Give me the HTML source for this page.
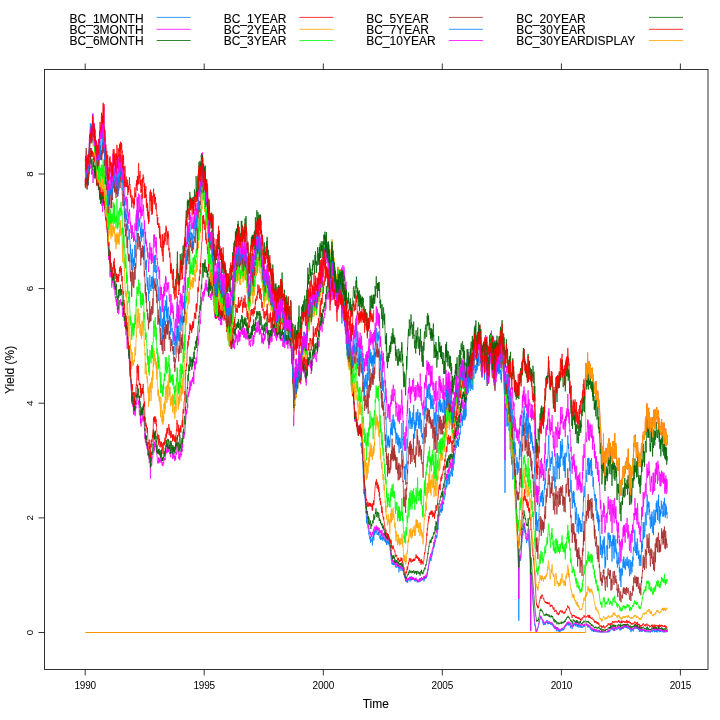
<!DOCTYPE html>
<html><head><meta charset="utf-8"><style>
html,body{margin:0;padding:0;background:#fff;width:720px;height:720px;overflow:hidden}
svg{display:block;will-change:transform}
text{font-family:"Liberation Sans",sans-serif;fill:#000;stroke:#000;stroke-width:0.1px}
.t{stroke:none}
</style></head><body>
<svg width="720" height="720" viewBox="0 0 720 720">
<rect width="720" height="720" fill="#fff"/>
<g fill="none" stroke-width="0.75">
<path stroke="#0080ff" d="M360.9 444.4l.1 1.3 .1-3.1 .3 5.3 .3-3.7 .2 9.1 .3 .9 .1-4.6 .4 7.8 .2 10 .2 2.2 .2 9 .2-.2 .3 15.7 .3-5.2 .4 6.5 0-2.7 .5 5.5 .2 2.7 .2 3.8 .2 .7 .3 7.5 .2-1.8 .2 5.6 .2 6.5 .4-7.4 .3 4.8 .2 3.7 .2-.9 .3 3 .2 2.1 .3 1.7 .2 .8 .2 3.4 .2-1.1 .1 2.8 .5-.1 .3 3.3 .2-2.9 .3 3.2 .1 3.2 .1-5.6 .4 .5 .4 3.3 .2-.4 .2 1.1 .5-3.4 .1 7.2 .3-5.9 .1-2.9 .3 1.4 .3-2.2 .3-1.1 .1 5.7 .2-8.8 .3 3.4 .3-4 .1 3.7 .3-1.5 .1-3.1 .5 2.6 .1-2.6 .6 2.2 .1-2.5 .4-3.1 .2 8 0-.1 .3-1.4 .5-.3 .1 1.9 .3-.6 .1-2.6 .3 3.7 .1-3.5 .5 1 .1 2.4 .4 .3 .3 3.3 .2-3 .3 3.8 .1 .4 .3-6 .1 1.6 .4 3 .2-1.2 .2 1.3 .4 1.4 .1-2.3 .2-1.3 .3 4.2 .4-4.2 .2 2.6 .2-2.8 .1 2.7 .4-1.4 .2 2.6 .2-.7 .5 1.8 .2-1.9 .2 2.7 .1-1 .1 1.2 .6-2.4 .3 4.9 .1-3.1 .3 1.1 .2-1.6 .3 1.7 .4-1.8 .1 3.4 .3-3.4 .2 1.3 .4 1.4 .1-2.7 .2 2.6 .1 2 .5-.9 .1 2.5 .2 1.6 .1 1.3 .5 2 .4 3.8 0 .5 .4 4.4 .1 .5 .3 2.3 .3-.8 .2 1.6 .6-1.1 0 1 .1-2.8 .2 3.1 .5 .3 .2-1.6 .4-2.8 .1 4.2 .2-1.1 .2 1 .2-.5 .2 2 .5 .2 .3 1.2 .1-1.8 .4 1.4 .2 .1 .3-.9 .1 0 .4-2.5 .3 3.3 .2-2.3 0 1.1 .4 1.6 .3-1.4 .2 6.1 .4-3.8 .1-.8 .3-1.5 0 2.3 .5-1.9 .1 1.6 .3 .2 .4 2.5 0-1 .5-1.3 0 .4 .4-5.1 .2 2.6 .2 3.2 .3 .8 .4-2.3 0 2.3 .5 1.6 .3 2.6 .2-1 .3 1.3 0 1.2 .3-2.5 .1 3.9 .4-1.4 .2 2.5 .2 2.7 .2-2.6 .4 1.7 .4 1.6 .4-.3 .1-1.8 .3 1.2 .2 1.7 .1-.1 .3-3.1 .2-.1 .4-1.3 0 0 .3 2.2 .4-1.3 .1-1.3 .5 .8 .1-.9 .2 3.6 .2-4.9 .4 3.2 .3-2.8 .1 .6 .2 .8 .3 2.1 .4-2.4 0 .2 .4 1 .2-1.5 .3 1.6 .5 .6 .1-1.7 .2 .5 .3 1.1 .3-.2 0 .8 .4 .2 .1-1.2 .3 2.2 .2-2.4 .3 .1 .2 1.4 .5-.6 .2-1.2 0 1.6 .1 .6 .5-1 .1 2.2 .4-2.2 .2 1.7 .2-1.1 .1 1.5 .7-.7 .1-.3 .1 .6 .2-1.2 .6 .2 .1 .9 .2-.2 .3-2.2 .3-1.4 .1 1.9 .4-1.1 .1 1.6 .3-1.4 .1 1.8 .4-1.2 .4-.9 .2 .7 .2-1.1 .2 1.7 .2-2.4 .3 .2 .4 3.7 .4-4 0 1.9 .3-2.3 .1 1.4 .4 .4 .2-2 .3 .1 .2 1.8 .1-1.8 .2 1.1 .3-1.2 .2-1.5 .3 1.3 .5-3.4 0-.4 .4-1.8 .2-.4 .4-4.6 .1-.6 .4-1.8 .3 .3 .1-3.1 .3 1.2 .1-2.1 .6-1.3 0 1.6 .4-2.1 .1 2.2 .2 .5 .2-4.8 .4 1.3 .3-3 .1-2.3 .1 2.7 .4-4.1 .4 1 0-1.2 .5-2.2 0 .2 .4-4 .2 3 .2-5.1 .5 2 .1-3.6 .3-1.1 .1 2.3 .3-1.4 .3-5.7 .3 2.3 .1-1.9 .3 .7 .1 2.4 .4-2.1 .4-2 .2-3.6 .2-3 .1 1.7 .4-4.6 .1-3.1 .4-4.1 .1-.3 .3-4 .6 2.2 .1-3.8 .3-2.5 0 2.9 .4-.4 .2-1.8 .3 1 .1-3.1 .3 4.9 .2-5.2 .5-5.4 .2 8.6 .2-5.1 .3-2.5 .1 1.6 .4-2.7 .1 2 .3-6.6 .2 2.5 .2-3.4 .5 .7 .2-3.8 .2 1.9 .3-7.2 .4 1.1 0-4 .4 2.4 .1-4.8 .2-3.1 .1 7.7 .4-2.7 .1-6 .4-4.9 0 7.9 .6 3 .3-8.8 0-1.4 .5 6.2 .1-8.4 .4 9.5 .1 2.3 .2-9.4 .2 2.3 .5-4.9 .4 .4 .1-2.1 .1 3.5 .3-2.7 .3-2.5 .2 6.8 .4-2.2 0 3.2 .2-3 .1-10.6 .5-2.4 .1 10.1 .4-4.8 .3-7.8 .1 6.3 .1-10.1 .5 3.9 .2-4.7 .3 .7 .3-5.2 .1 .9 .4-5.1 .3 3.3 .2-7.2 .3 2.4 .1-2.8 .3 0 .2 4 .2-6.9 .1 8.2 .5-6.7 .3 4.1 .1 3.7 .5-11.5 .4-2.3 .1 6.5 .3-6.9 .1 2.1 .5-1.4 .1-8.1 .3 2.5 .2-4.7 .2-.7 .1-8.8 .3 1.4 .2 6.3 .5-5.5 .1 10.2 .2-8.2 .1 2.9 .5-9.9 .3 8.5 .2-11.6 .3 5.6 .1 7.2 .1-6.4 .3-9.7 .5 15.6 0-3.7 .4-6 .2 7.4 .3-9.8 .1 8.6 .3-22.1 .4 6 .2-6.8 .4-12.7 .1 14.2 .3-2.5 .1-6.9 .5 7.6 .2-12 .1 5.9 .1-9.2 .4 5.3 .3-5.8 .1 1.5 .2 8.9 .6 3.1 .1-11.2 .4 7.8 0-10.6 .2 .4 .4 6.8 .3 4.9 .2-10 .2 3.5 .2-7.5 .3 8.6 .2 6.3 .2-3.9 .1-9.7 .5-4.1 .2 6.4 .2 .3 .4-13.4 .5 .9 0 1.6 .2-3.4 .4 8.8 .3-4.5 .1 4.5 .3-7.7 .2 5.2 .1-1.6 .2-6.5 .5 7.3 .2-6.5 .3-4.7 .2 7.6 .2-8.5 .2 3.9 .3-8.7 .1 5.9 .4 6.8 .1-11.8 .4-1.1 .1-3.6 .3-2.6 .4 9.9 .1-2 .1-3.5 .8 8.3 .1-4.6 .3 4.2 .2 13.4 .4-12.5 0 8.5 .2-4.3 .2-5.6 .3 4.9 .1-5.2 .3-11.9 .2 16.2 .4-3.4 .4 5.7 0-.1 .2-17.7 .5 8.3 .2-6.5 .2 .4 .4 6.9 .3-3.7 .2 5.4 .2-.6 .2-9.3 .3 9.3 .3 4.8 .2-7.5 .1 12.2 .4-6.8 .1 2.2 .3 2.6 .2-5.1 .3-3.8 .1 8.5 .3-15 .5 9.4 .1 1.7 .4-20.4 .3 10.4 .2-7.6 .4 9.9 0-2.7 .2-1.8 .4 9.2 .3 .1 .1-4.3 .3-2.6 .2-8 .3 11.3 .2-5.3 .2-3.1 .2 13.8 .2 1.7 .2-12.3 .4 6.8 .3 10.5 .1-13 .1 7.4 .4-12 .2 10 .4-.1 .3-3 .5-1.3 .1 1 0 5.1 .4 4.5 .3-1.8 .1 7.5 .3-4.4 .2 5.3 .4-11.3 .2 5.8 .3-3.9 .1 4.2 .3 6.9 .2-10 .2 11.4 .2-2.2 .4-2.4 .3 9.9 .4-5.6 .1 8.5 .2-6.6 .3-13.4 .4-5.6 0 6.2 .6 .1 .1 5.9 .2-2.3 .2 5.8 .4 1.2 .1 7.8 .2 4.4 .2 7.8 .2 3.1 .5 95.9 .1-27.5 .1-62.4 .5 6.8 .2-3.3 .3-4.2 .2 8.6 .2-6 .3 21.8 .4-17.2 .2 7 0-4.8 .4 13.9 .3 .4 .1-9.3 .3 1.5 .3 10 .2 2.8 .1-2.6 .4 1.5 0 6.9 .4 4.1 .1 8.6 .4-5 .5 10.7 .1-.2 .3 3.8 .1-2.3 .3 8.3 .2-5.7 .5 5.3 0 .6 .4 14.5 .1-3.1 .5-5.5 .2-.2 .1 3.8 .3-2.5 .3 7.8 .2 1.4 .2 5.8 .4 1.7 .3 6.9 0-1.6 .4 9.4 .1 1.7 .4 9 .1-.7 .5 10.6 0 1.9 .4 10.7 .1-2.8 .5 15.5 0 1.4 .5 19.9 .3 50.1 .1-22 .2-27.1 .3-12.1 .2 .4 .1 1.2 .5-2.9 .1 2.7 .3-.5 .4-4.6 .1-.9 .4-4.6 0-2 .4-6.6 .2 .2 .3-6.2 .2-4 .3 4 .1-3.3 .4-4.4 .3-1.5 .1 4.1 .5-1.6 0-5.7 .3 6.4 .2 3.2 .4-1.2 .1 4 .3 .1 .1 3.1 .4-1.2 .3 4.2 .2 1.2 .3-2.2 .1 .2 .4-2.4 .2 1.8 .4-3.6 .1-2.7 .2 3.1 .2-.3 .5 7.2 .2 2.1 .2 2.7 .2 3.4 .3 4.9 .2 3 .2 4.7 .4 65.4 .3-57.1 .1-.4 .4 5.8 0 1 .5 7.3 0 .7 .5 7.1 .1 .7 .3 4.3 .1 .6 .5 9.6 0-1.2 .5 5.8 .2 2.6 .3 5.8 .1 .1 .2 2.9 .4-.5 .2 .9 .2 1.6 .2 2.6 .3 .9 .1 .7 .4 0 .4-2 .1 .7 .4-1.2 0-.2 .5-1.5 .1 0 .3-1.5 .2-1.2 .3-2.2 .1 .2 .5-2.4 .2-.8 .2-1.1 .2-.2 .3-1.5 .3 .6 .1-1.6 .2 .8 .3 2.1 .3-1 .3 .9 .1 .5 .5 1.3 .1 .5 .3 1.8 .4-1.5 .1 3.2 .4-1.7 .2 2 .4-.6 .1-1.1 .3 .1 0 .8 .3-1.7 .2 1.9 .3-.7 .1-1.2 .4-.5 .1 .7 .4-.1 0-.6 .5-2.2 .4 4.3 .4-.6 0-1.6 .4 .4 .2 1.6 .4-1.7 .1 1 .2 .1 .1-.7 .2 .9 .2-.9 .5-.3 .2 1.9 .3 .1 0-.5 .4 .1 .2-1.2 .2 2.2 .3-1.4 .3 .3 .3 .9 .2-1.6 .4 2.5 0-.6 .4 2.3 .2-.1 0-1 .7-.2 .2 1.9 0-1.3 .3 2.3 .6 .1 0-1.4 .4 1.1 .1-1.7 .3 .9 .1 1 .2 .1 .1 1.9 .4-.1 .1-2.7 .4 1 .5 1.2 0 0 .2 1.1 .3-3 .4 2.1 .4-.5 .1 2 .5-1.8 0 1.7 .1-.2 .5-2.5 .4 0 0 .6 .2-.1 .2 .7 .3 0 .1-2.1 .4 2 .1-1.9 .4 1.1 .1-.9 .3 1.7 .5-1.4 .4 .7 .1-1.3 .1 .4 .3-1.3 .2 1 .4-2.5 .3 .4 .2 .6 .2-1.3 .2-1 .4-.1 .1 1 .2-.9 .1-1.8 .4-.3 .1 2.5 .4-1.4 .1-.7 .4 0 .3 2.2 .1 .1 .2-2.8 .4 2.7 .3-1.4 .4-.5 0 1.5 .2-1.3 .5 4.5 .2-1.3 .2-1.7 .4-.3 .1 2 .4 .1 .1 1.2 .3 1.1 .1-1.6 .2-.1 .5-3.1 0 2.4 .5-1.8 .1 .5 .4-1.1 .1-.2 .4 1.2 .3-1.9 .1 1.2 .4-.2 .2 1.7 .2-1.2 .2-.9 .3 1.1 .1-1.9 .4 .8 .2 2.6 .3-.6 .1-1.4 .2-.1 .2 2.6 .5-1.1 .1-2.3 .2 2 .2-1.4 .3 3.3 .1-2.2 .5-.6 .2 1.9 .5-.5 .2-1.4 .2 .8 .2 2.3 .3-.9 .1-.8 .4-.4 .2 1.6 .3 .1 0-1.1 .4-.4 .2 .8 .2 .7 .5-1.9 .2-.8 .2 1.5 .2 .3 .1-1.6 .3 1.5 .1-1.5 .4 .4 .1-1.1 .5 1 .3-1.3 .1 .5 .2-.9 .5 1.1 .2 .6 .2 .6 .3-1.4 .2 2.8 0-2 .6 .2 .3 1.4 .1 .2 .3-.8 .2 .2 0 .7 .4 1 .5-1.4 .1-.3 .3 1.8 .1 0 .3 1.6 .4 .3 .2-1.2 .3 .9 .2 1.3 .2-.5 .2-.9 .3 1.1 .1-.2 .5-.8 0 1 .3 1 .2-2.4 .5 1.9 .2-2.5 .2 2.5 .3-.6 .1-.8 .3 1.7 .3 .2 .4-1.5 .1-.2 .3 1 .1-.1 .5 1 .2 0 0-.6 .5 .6 .2-.7 .2 .7 .2-.3 .3-1.5 .2 1.8 .2-1.6 .2 1.6 .3-2 .1 2 .4 0 .5 0 .5 0 .5-1.3 .2 1.3 .5 0 0-.2 .4 .2 .5 0 .4 0 .5 0 .5 0 .5 0 .5 0 .5 0 .3-.4 .2 .4 .4 0 .1 0 .7 0 .2-.4 .2-1 .2 1.4 .3-1.4 .2 1.2 .4 .2 .3-.8 0 .8 .4-1.1 .1 0 .1-1 .7 .4 .2-.9 .1-.3 .3-2 .2 1.4 .4 .4 .2 .4 .1-1.3 .4-1 .1 3.1 .4-.8 .2-1.2 .2 .5 .2 2.3 .3-1.4 .4-1.1 .1-.3 .2 2 .3 .5 .1-2.2 .4 .5 .3-1.2 .2 .4 0 .8 .4-.3 .3 1 .2-.5 .3-.7 .4 .9 .1-1.5 .4 .5 .1-1.3 .3 1.3 .1-1.1 .4 .5 .1 .5 .3 .1 .2 1.8 .4 .3 .4-2.1 .1 1.2 .1-1.6 .6 .2 .1 1.5 .1-1.6 .5-.2 .3 1 .1-1.3 .1 .5 .2-1.5 .5 .6 .2 1.6 .3-1 .1-1 .4-.2 .1 .7 .2-1.3 .5 1.5 .1-.2 .2 .5 .2-2.2 .1 1 .5-.5 .4 1.7 .3-1.9 .1 1.2 .1-.5 .5 .8 0 0 .5 1.5 .2-1.1 .2-1 .4 1.4 0-1.6 .4-.1 .2 2 .2-.3 .1 1.2 .3-.2 .3-.6 .2 .7 .5 2.7 .1-2.4 .3-.8 .1 .3 .3 1.8 .3-.3 .4-1.5 .3 .5 .1-.6 .4 2.3 0-2.5 .5 .1 .1-.6 .3-.2 .1 .9 .4-.2 .1-1.7 .5 0 .2 1.2 .1-.6 .1 .7 .3-1 .5 1.2 0-.2 .4-.9 .2 .3 .2-.5 .3-.5 .3 1.7 .1-.5 .4 1.9 .3-1.5 0 1.2 .4-1 .2 3.1 .3-1.9 .3-.3 .2 .7 0 .8 .5-1 .2 1.5 .2-1.2 .4 .9 .2 .2 .1-.6 .4 .9 .4-1.5 0 .7 .3-1.5 .2 1.5 .2-1.4 .6 .5 .1 .8 .3-1.4 .1 1.7 .3 .1 .1-.5 .4 .9 .2-1 .4 .1 .1 1.4 .2 0 .4-1.6 .2-1.1 .1 1.5 .3-.7 .1 1.3 .8 .6 0-1.8 .1 1.8 .3-.4 .2 .4 .2-.8 .5 .8 .4 0 .5 0 .1 0 .4 0 .2-1.1 .4 .7 .3-1.2 .4 .4 .1-.8 .1 0 .3 2 .2-1.3 0-1 .5 1.3 .3-.9 .5 .6 0-1.6 .1 .3 .4 2.6 .3-1.5 .1 1.4 .4-1.7 .2 1.2 .2-.8 .2-.4 .4-.8 .1 1.7 .3-2 .1 2.9 .4-1.8 0 1.8 .4 0 .4-.5 .4-.4 .2-1.5 .3 .6 .1 .6 .1-.9 .4 2.1 .3-1.8 .1 .9 .5-.5 .1 .9 .3-1.2 .1 1.2 .3-.7 .2-.9 .5-.3 .2 1 .1 1.4 0-.6 .6-.1 .3 .7 .1 0 .4 0 .4-.7 .4 .7 .1-1.4 .3 1.4 .1-.8 .3 .8 .5 0 .1-.9 .5 0 .1 .5 .3 .1 .4-1 0 1.1 .2-.8"/><path stroke="#ff00ff" d="M85.3 181.3l.1-3 .4 3.9 .1-4.6 .3 5.2 0-2.7 .4 4 .2-6.1 .4-.8 .3 5.2 0-5.5 .2 4.1 .4 4.7 .1-9.5 .5 .8 .2-1.9 .1 .2 .1-7.6 .4 2.2 .1-5.8 .4 5.1 .3-14.4 .6 9.4 0 4 .4-2.1 .1 2.7 .3 5.8 0-4 .5 3.4 0-1.6 .4-3.2 .2 3.8 .2 10 .5-8.6 .1 3 .3-8.3 .2 1 .3 8.4 .2-8.2 .3 3.6 .5-4.2 .1 5.2 .3 4.3 .2-7.6 .3 3.5 .1 3.6 .3-1.1 .2 3.9 .4 .5 0-3.4 .2 6.3 .2-6 .5-3.9 .3 13.1 .1 .4 .3-4.5 .2-1.1 .3 7 .5 7 .1-11 .1 5.8 .3 5 .4 2.8 .2-5.3 .4-1.4 0 8.8 .4 4.1 0-6.8 .3-1.1 .2 6.2 .3 8.1 .1-14.3 .4 1.3 .2 3.5 .3 3 .1-8.5 .5 6 .2 5.1 .2 1.8 .4-4.1 0-.2 .3 9.8 .4-.4 .3 5.9 .3-2.3 .2 5.6 .2-3.7 .2 5.1 .2 3.6 .1 3 .4-2.3 .2 10.1 .2 1.7 .5 11.4 .2-.3 0 7.1 .4-5.6 .3 5.4 .1 1.2 .5 15.7 .3-5.6 .2-8.6 .3 7.6 .1 5 .1 2.6 .5-7.9 .2 9.1 .1 8.5 .3-12.3 .3 8.1 .2-1.1 .1-4.5 .5 0 .3 4.4 .1-.6 .1 3.9 .4 4.1 .1-8.3 .3 6.1 .5 9.1 .1 .1 .3 2.1 .2-1.9 .4 5.2 .4-.5 0-2.5 .4 7.3 .1-5.6 .2 5.1 .2 4 .3 3.4 .1-5.2 .4 1.4 .2-3.1 .3 .8 0 7.3 .6-4.2 .3-6.2 .1-3.8 .3 5.1 .2 0 0-3.6 .5-2.5 .2 4.1 .5 1.3 .1-2.8 .3 4.4 .1-3.3 .4-.2 .2 11.4 .3 3 .1-3.8 .4 1.6 .1-6.9 .2 4.6 .2 4.9 .3-1.4 .2 4.6 .3 1.4 .1 4.9 .8-3.2 .1 5.2 .1-2 .3 8.5 .2-.1 .3-7.7 .4-1.8 .2 10.3 .2 12.9 0-12.4 .4 4.1 .2 4.5 .3 1.2 .3 5.1 .1 1.5 .3 2.9 .3-2.2 .2 9 .2 2.8 .1 4.5 .4 1.1 .4 7.4 .4 1.2 .2 6.7 0 .4 .4 4.4 .4 12.5 .1-6.8 .3 3.3 .1-4.8 .4 7.2 .2 4.4 .3-3 .2 6.7 .2 3.9 .1-5.3 .4 5.5 .1-7.2 .3 4.6 .2-5.8 .4 4.9 0 5 .4-3.2 .3-6.6 .2 1.8 .3-5.4 .2 1.7 .5-11.2 .2 .1 .3 4 .2-2.3 .1 6.4 .5 2.8 .1-2.2 .2-1.4 .2 5.6 .3 1.9 .4 7.1 .1-2.5 .2-3.2 .4 1.3 .3 12.8 .1-7.4 .3 5.9 .2 4.3 .2-6.1 .5 2.2 .2-4.4 .2 2.1 .3-4.1 .2-2.1 .1 3.2 .4 4.2 .2-4.4 .3-.7 .2 4.8 .2-3.1 .2 9.9 .3 0 .4 10.7 0-5.1 .4 8.8 .2-3.4 .3 4.2 .5 2.6 .1-4.8 0 3.8 .4 3.2 .4 1.1 .2-3.1 .2 3.4 .1 5.9 .5-4.7 .1 5.6 .3-2 .1 3.8 .3 1.4 .1 3.7 .3-1.9 .3-6.7 .3 3 .3 21.3 .1-.5 .2-14.4 .4 2.3 .4-3.8 .1 .5 0 3.4 .4-3.9 .1-2.9 .4-.8 .4-3.5 .3-.4 .2-5.9 .3-2.5 .1 6.2 .4-7.4 .1 5.2 .4-8.4 .1 4.5 .5-6.5 .2 7.2 .2-3.1 .3 3.9 .1-.1 .3 2.7 .1 .4 .3 4.2 .2 .1 .5 5.7 .3 2.3 .1-2.4 .1 .5 .3 1.9 .5-6.2 .1 3.1 .2-1.3 .1 3.1 .4-3.4 .2 2.8 .2 1.7 .2-3 .4 1.1 .3-7.3 .1 1 .2 7.4 .4-3.1 .4 5.3 .3 1.1 .1-2.8 .4-.5 .2 3.8 0-.3 .4-3.7 .3 1.2 .2-2.9 .4-1.9 .1 1.7 .2 0 .3-2.4 .3 2.2 .1-6.5 .4 2.1 .3-5.4 0 2.9 .4-3.2 .3-.2 .2 3.6 .1-8.3 .4 7.1 .2-2.6 .4 2.7 0-4.7 .4 4.5 .1-5 .4 3.6 .3-3.5 .2 4.4 .3 2.4 .2-.7 .2-1.4 .2 4 .3 1.5 .2-8 .3 1.1 .1 2.5 .4-7.4 .1 7.7 .3-1.4 .5 7.2 .3-2.4 .1-4.4 .4 5 .2-2.4 .4 3.8 0-5.3 .3 1.5 .2 3 .2-1.9 .2 5.2 .3-2.8 .1-2.2 .5 3.7 .1-5.9 .2-2 .5 3 .2-3.8 .3-8.1 0 2 .1 2.6 .5-4 .4 8.8 .4-1.9 .1 4.2 .2 4.3 .2-1.9 .3 .7 .1-3.6 .5 5.9 .1-9.3 .3 .9 .1 3.3 .3-1.7 .2 3.9 .3-.9 .1-2.6 .4 1.2 .4-6.1 .2 2.8 .2-9.5 .2 5.7 .3-8.3 .4-5.5 .1 4.8 .2-3.5 .2 3.5 .5-2.6 .2-4.1 .2 2.5 .2-2.2 .3-3.2 .2-8 .2 .4 .2-1 .2-2.3 .5-8.6 .1 1.3 .1 2.9 .5-3.4 .3-7.3 .2 4.6 .2-12.1 .2 1.2 .4-5 .1 4.1 .4-5 .4-3.9 0 5.4 .4-4.6 .2-6.9 .2 9.3 .2-7.9 .3 2.8 0-4.5 .6 0 0 4.6 .2 .9 .5-5.8 0-1.5 .4 3.1 .2-5 0 5.1 .8-1.1 .1-9.3 .3 12.5 .2-11.2 .1 .2 .3-12 .1 7.3 .4-5.4 .4 6.6 .1-7.9 .4 2.7 .1-2.7 .2-4.5 .2 2.4 .3 3.8 .4-8.1 .1-.2 .2-5.3 .2 1.3 .4-9.3 .1-3.5 .1 7 .5-3.1 .3-9.6 .2-.9 .2-2.3 .2 2.6 .5-13.5 .3 5.4 .1-5.7 .2-1 .3-5.4 .2-2.2 .1-12.9 .4 8.1 .1-4.9 .3 .4 .5-4.1 0-.8 .2-3.4 .4 9.2 .3-7.8 .4-2.8 .2 6.2 .1-4.5 .3-3.8 .2 6.1 .3-5.9 .4-5.7 .2 7 .3-.1 .1-3.1 .2-7.1 .3 10.6 .2-.7 .2-6 .3 1.5 .1 5.9 .5-3.7 0 4.6 .3-4.9 .4 9.4 .1 .5 .5-6.3 .4 .5 0-6.4 .1 6.3 .5 6.9 .4-2.7 .1 2.3 .2-4.1 .2 6.6 .4-.6 .1-6.1 .3 1.9 0-3.5 .3 1 .1 2.7 .4-7.5 .1 7 .5-3.6 .3 11.8 .2-1 .3 3 .4-3.6 .2 4.9 .3-.2 .1 11.5 .1-5.7 .4-3.5 .1 5 .5-5.3 .2-2.6 .1 11.7 .4-1.4 0-4.3 .4 1.2 .1 4 .5-6.2 .3 5.3 .1-4.7 .3 5.4 .2 3.4 .4-8.5 .2-2.2 .3 5.8 0-1.3 .3 7.1 .5-3.4 .1 7.5 .4-1.5 .2-4 .3-4.7 .1 3.7 .3 6.5 .1-14.2 .4 8.6 .1-8.1 .2-3 .3 6.3 .3-19 .2 13.8 .3-2.3 .4 3.7 .1 2.9 .4-6.3 .3-.5 .2 9 .3-2.6 .1-4.4 .5 2.9 0 5.9 .4-6.2 .1 6.4 .4 .6 .1-4.1 .3 4.2 .2 7.9 .2 1.1 .2-10.9 .2 10.6 .2-6.4 .4 5.4 .4 4.8 .1-.5 .4 7 .1-2 0 3.8 .8-6.9 .1 3.2 .3 1.2 .2 3.9 .2 2.2 .2-1 .3-.7 .1 2.9 .3-1.4 .2 2.5 .3-2.9 .1 4 .5 1.5 .3-4 .2 3.9 .3-7.7 .1 0 .3 9.1 .2-1.4 .3-8 .2 2.8 .3-8.9 .1-2.4 .4 10.3 .5-7.8 .1 4.5 .2 .1 .1-2.8 .4-.4 .2 9.9 .3-5.3 .1-3.4 .3-1.6 .2-4.9 .2 1.2 .2 11 .5-2.4 .2-8.1 .5 9.4 0-7.2 .2-1.8 .2 4.3 .2 .6 .5-6.1 .3 3.1 .1-4.3 .1 1.9 .5-5.3 .2 8 .2-5.8 .3 6.5 .2-8 .2 6.7 0-3.6 .4 1.9 .2 5.2 .4-1.5 .1 2.3 .4-10 0 8.1 .4-6.7 .4 6.3 .4 3.7 .1-5.9 .4 4.6 0-6.9 .4-2.6 .3 9.8 .2 1.2 .2-7.5 .3 .1 .1 5.7 .4-2.2 0 3.6 .4-4 .2 5 .3-.6 0 5.6 .5-4.4 .3 2.4 .3 .1 .2 3.5 .2-.5 .3-6.4 .1 1.6 .5-11.8 .1 8 .3-4.3 .3 .6 .1 5.4 .4-.1 0 6.6 .4-3.2 .2-3.5 .3-4.1 .1 9 .3-4.9 .1-3.5 .4 .9 .4-4.5 .1 2.4 .5-5.6 .1-.9 .4 3.9 .1-4.9 .2 5.4 .2-2.7 .5-8 .2 7.2 .2 3.6 .3-1.3 .2-9.1 .3-1.6 .1 7.6 .4 3.2 .1-2.5 .3-3.2 .2 9 .3-11.9 .4 10.8 0-4.5 .4 3.8 .3-3.7 .2 4.9 .2-.7 .4 4.8 .4 5.2 .1-10.4 .2 8.6 .2-3.8 .4 5.2 .1-1.9 .3-2.3 .1 2.5 .3 2.9 .2-5.6 .4 .3 .1-2.7 .2 4.3 .2-6.5 .4 5.3 .3-5.5 .1-5.6 .1 5.6 .4-.3 .3-7.3 .2 3.3 .4 3.5 .5-3.5 .1 4.7 0 1.8 .3 5.3 .5-2.8 .1 4.5 .2-1.7 .2 7.4 .3-3.4 .2-8.1 .4 7.6 0-5.2 .4-3.8 .4 4.9 .2-3.4 0 5.4 .7-1.5 .1-6.7 .1 1.4 .4 5.7 .1-.1 .4-12.2 .2-4.7 .2 7 .4 .8 .1-3.3 .3 3.6 .1-5.4 .4 1 .1 7.6 .4-2.5 .1-6.1 .3 8 .2-5.3 .2 2 .4 6.2 .2-5.6 .4 8.2 .1-1.9 .4-7.4 .3-2.2 .1 8.3 .4-2.2 .2-5.2 0 3.8 .5-5.8 .2 1.4 .2 3.4 .2 2.1 .2 3.3 .3-1.1 .2-5.1 .2-.4 .3 8.3 .3-3.5 0 1.5 .4 3.1 .2-3 .5 2.3 .2-4 .2-4.3 .3 8.1 .1-2.3 .3 8.6 .6-7.4 0 3.9 .4 3.8 .1-7 .2 3.5 .2-3.9 .3 .8 .1 7.9 .4-3.3 .2-6.2 .3 2.7 .1-4.2 .3 3.9 .2-4 .4 7.6 .3-6.4 .1 1.6 .5 4.6 .1-1.4 .3 5.6 .5-9.5 0 2.8 .4 1.7 0-8.5 .4 2.2 .2 5.4 .4 .9 .1 2 .2-2.2 .1 4.9 .4-8.8 .1 4 .4-.6 .1 7.8 .4 2 0 6.9 .4-4.9 .5 6.8 .1 4.9 .3 7 .4-2.3 .2 26.4 0 7.5 .2 21 .5-30.1 .1 7.2 .5-5.5 .1-4.9 .2 1.1 .2-6.9 .4-8 .1 6.8 .3-9.3 .2 7.4 .4-6.5 .3 5.1 .4-2.9 0-5.9 .2 .8 .2-5.7 .5-.4 .1 6.2 .4-3.9 .1-3.9 .3-1.1 .3 10.1 .2-2.8 .2 6 .2-.2 .2-6.9 .3 3.7 .1 8.8 .3-7.9 .2-4.3 .3 2.2 .4-11.1 .1 7.2 .5-5.7 .1-2 .3 9 .4-11.6 .1 10.6 .1-2.9 .1 5.3 .6-.3 .3-3.6 .2 .8 .1 6.6 .3 .4 .3 1.3 .3 3.8 .1-7.5 .2 2.5 .2 8.3 .3-3.3 .3-6.1 .3-.1 .3-5.2 .1-.2 .4-8.4 .1 1.4 .4-3.8 .1 4.2 .3 2.2 .5 .1 .1-8.1 .4-.7 0 6.1 .4-3.1 .2 7.3 .3-5.6 .1 6.3 .3-5.2 .1 10.7 .3-2.7 .5-7.7 0 2.3 .5-4.5 .1 1.1 .4-6 .2-3.1 .2 4.6 .4 .9 .1-9.4 .2 1.8 .4 5.6 0 .6 .4-3.8 .4-3.4 .1 4.9 .3-1.2 .2 5.3 .2-1.3 .2 3.9 .3-3 .4-7.1 .1 2 .4-4.1 .1-5.7 0 5.3 .4-1.1 .5-6.6 .4-.1 .1 5.4 .1-3.6 .3-13.1 .1 6.4 .4-9.7 .3-.1 .3 3.4 .3-3.8 .1-3 .4 3.8 .1-3 .2-1.4 .1 3.5 .4 5.8 .2-9.9 .4 1 .3-5.2 .1 1.2 0 4.8 .4 .1 .3-7.5 .5 1.5 .2-5.1 .3 1.8 .1-4.9 .1 1.3 .4-6.9 .3 .4 .2 5 .2-3.4 .2-10.6 .3-1.7 .1 5 .3-1.5 .5-4.7 .1-.7 .3 5.1 .1 2.6 .5-9.2 .4 1.7 .1 6 .1-.8 .3-4.5 .2-2.7 .4 7.8 .3 .3 .1 5.9 .3-5.3 .1-3.6 .3 1.1 .3-2.7 .3-1.2 .2-4.1 .2-.2 .1 11.8 .3-6.2 .2-4.5 .3 1.7 .4 8.2 .2-3 .1 2 .3-1 .3-4.3 .2 3.9 .4-7 .2-1.9 .2-5.3 .5 1.6 .1 5.2 .3-7.2 0-5.2 .5 5.1 .2-3.3 .3 3.2 .1-3.6 .2 3.7 .3-15.3 .3 1.8 .1 10.8 .3-11.5 .2 9.4 .5 2.1 .3-5.6 .1 11.1 .3-11.7 .4 .9 .1 4.8 .3-1 .3-6 .2-3 0 4.5 .4-5.8 .3 7.1 .3-1.8 .1-1.2 .3-.1 .1-5.4 .3-1.3 .2 8.5 .3-3 .4 6.6 .1-10.5 .4 6.3 .2 7.9 0-5 .5 3.2 .2 8.7 .6 2 0-1.2 .1-6.8 .5 13.8 .2 6.5 0 10.6 .4-.9 .2 8.6 .4 1 .1 6.1 .2 11.5 .2-7.4 .5 1.4 .2 6.9 .1-4.2 .2 9.2 .3-4.7 .3 5.2 .3-1.7 .3 4.6 .1 1.4 .5 10.4 0-1.5 .5 15 .2-1.9 .2 5.5 .2 .1 .3 7.1 .2 2.7 .1-1.7 .5 2.8 .3 6.7 .2 .4 .3 5.8 .4 1.8 .1 7.3 0-1.5 .4 12.9 .2-10.7 .3 8.1 .1-1.5 .1 4.4 .6-2 .2 4 .3 2.2 .3-6.6 .1 3.7 .3 5.1 .4-.9 .1 2.7 .2-1.1 .1 6 .3-5.3 .1 5.3 .6-9.5 .3 6.1 .1-5 0 5.9 .4-1 .3-5.3 .6 2.9 .1 5.1 .1 .2 .4 3.3 .3-1.6 .2 3.8 .3 1.8 .1 5.8 .2 .7 .2 12 .3-1.7 .2 5.8 .2 7.4 .5 10.7 .1-2.2 .4 7.8 .2 .7 .3 5.2 0 1.1 .4 4.7 .2 1.8 .3 6.9 .2-5.4 .4 8.2 0-.7 .5 3.6 .2 2.4 .2 2.9 .2 2 .3 2.2 .2 .7 .1 3.5 .6-2.6 0 3.6 .2-.7 .1 4.1 .4-.2 .2 1.6 .4-1.8 .3 2.8 .1-2.5 .4 4.7 .5 0 0-2.7 .4 .5 .1 2.3 .1-1.5 .4-3.4 .3 2.3 .2-2.2 .3 3 .1-4.7 .3 .8 .2-2.3 .4 2.3 0-4.5 .4 .4 .3 2.7 .2-.1 .1-2.6 .7 3.8 .1-4 .1-1.4 .3 3.6 .2-.1 .2-2.2 .6 .2 0 3.1 .4-1.9 .1 3.1 .2-.1 .3-3 .3-.7 0 2.6 .5-2 .1 5.2 .2-3 .1 1.8 .6-1.3 .3 2.6 .2-2.3 .2 1.2 .2-1.9 .4 4.7 0 1 .5-6.2 .3 3.8 .1 2 .4 1 .2-3.6 .2 .1 0 1.9 .4-2.1 .1 3.2 .5-2.6 .1 1.6 .3-1.5 .1 4.4 .5 .7 .2-2.1 .1 1.1 .2 2.5 .4-3.3 .3 1.9 .1 .7 .4-1 .4-.2 .1 2.8 .1-2.1 .5-1.7 .2 .7 .1 1.8 .5-.3 0-1.2 .3 .9 .1 2 .3-1.4 .2 3.6 .3 2 .5 2.1 0 1.5 .5 5.5 0-1.3 .4 5.8 .2 .5 .3 1.6 .2-3.5 .2 4.7 .4-1.3 .1-1.1 .4 .1 .3 1.8 .2-1.2 .2 2.8 .3-1.8 .1 1.8 .5 1 0-1.1 .4-2.1 .3 3.4 .2-.7 .3 2.6 .1-1 .1-1.9 .4 .9 .3-3.1 .1 3.9 .5-1.7 .4 2.4 .1-1.6 0 .7 .3 1.4 .4-1.4 .2 1.3 .4 .4 .1-.9 .2 0 .2 1.1 .3 .2 .1-1.6 .4 2.6 .4-1 0 .1 .5 .6 0-.1 .4-2.3 .2 1.8 .4 1.2 0 1.2 .4-1.3 .3-.6 .2 2.5 .3 1.5 .1 1.3 .3 .2 .2 1.3 .4 .7 .2 1 .2 .5 .2 1.9 .2-.5 .3 1.6 .3 .9 .1-3.7 .4 2.1 .1 1.7 .4 0 .2-2.5 .2 3.1 .1-2.2 .7-.6 .2 1.3 0-2 .3 2.2 .4-1.7 .1-1.5 .4 .9 .1 1.1 .3-.4 .2-1.2 .3 .8 .4-1.1 .2 .9 .2-.9 .2-.6 .1 2.9 .7-1 0-1.1 .2 2.8 .3-3.1 .1 2.1 .3-1.6 .2 .6 .4 1.5 .4 .2 .1-1.4 .3 1.4 .1-.7 .3 .4 .1-1.4 .4 .6 0 1.5 .5-2.5 .1 2.4 .5-.4 .2 .6 .3 .6 .2-.9 .4-.6 .2 1 .3-.2 .1 1.2 .3 1 .2-2.1 .1-.8 .5 2.2 .2-1 .2-2.5 .2 3.1 .1-3 .4 .1 .1 1 .4 .1 .4-2.4 .1 .1 .1 1.4 .5-.5 .3 .9 0-.5 .5 1.2 .1-.9 .2-.9 .5-1.3 .2 2.1 0-1.5 .2-1.3 .5 1.7 .1-1.1 .3 .3 .2 1.3 .3-.9 .2-2.5 .3 1.3 .1 .9 .3-.8 .5-3.2 .1 1.2 .4-3.8 0 1.4 .4-2.8 .1 .7 .4-2.7 .1-1.2 .5-2.5 0 .1 .4-4.6 .4-1.7 .2 1.8 .2-1.6 .2-1.8 .3-1.7 0 3.1 .6 .2 0-2.2 .3 .7 .4-5.2 0-.2 .4-1 .1 .3 .1-1.9 .6 .5 .2-2 .1-.6 .4-3.5 .1 3.2 .5-5 0 .8 .5-3.8 .2-1.1 .2 1.2 .2-1.3 .3-4.3 .2-1.6 .1 1.9 .3-.5 .2 1.5 .3-.1 .3-5.2 .3-1.1 .3-2.4 .1-.9 .4-4.7 .1-.3 .5-6.6 0 2.2 .5-7.4 .4 .3 .1 2.1 .2-1.4 .1-3.3 .4-.2 .1 3.1 .3-.1 .3-3.2 .2 1 .2-1.3 .2-2.9 .3 3.4 .2-1.8 .2-4.3 .4 .3 .1-3.4 .3 2.9 .5-6.3 .1 2.7 .3-5 .4 .5 .2-3.1 0-1.1 .5-6.9 .2-1.3 .2 3.5 .2-6.1 .2 4.3 .3-4.7 .1 3 .3 .3 .1-5.7 .5-1.6 .4 2.7 0-.3 .4-3.5 .3 4.4 .2-5.9 .2 4.6 .3-2.5 .1-1.3 .3-6 .5 6.2 .2-4.2 .2-1.5 .1 2.5 .3-7.1 .2 6.2 .3 5 .1-5.6 .5 3.6 .1-4.6 .3-4.4 .1 2.6 .4-1.1 .4-1.8 .1-1.3 .3-8.2 .2 2.3 .2-2.3 .6-3.9 .1 3.6 .3-5.7 .1-6.5 .3-1.4 .2 4.6 .4-8.4 .1 7.2 .2-6.1 .1-3.4 .4-1.5 .2 5.8 .2 3 .2-5.3 .4-.5 .2 4.4 .2-2.7 .2-7 .3-.9 .2 4 .4-2.2 .2-6.8 .5 4 .1-4.9 .1-9.6 .2 6.5 .5-4.1 .2-1.9 .3 1.9 .1-5.6 .3-6.2 .1 5.1 .4 3.6 .1-5.6 .4 0 .1 7.1 .3-4.8 .5-4.4 .4 1.7 0-3.6 .1 .7 .4 10.2 .5-1.4 .1-6.1 .1 6.1 .3-18.2 .1 9.4 .5-5 .2-4.2 .2-3.7 .2-4.7 .2-6.9 .5 5.2 0-5.6 .2-.8 .2 5.7 .4-1.8 .3-3.5 .2-6.5 .1 12.1 .7-5.6 .1-4.7 .1 4.9 .3-5.3 .1 3.5 .3-3.5 .2 .6 .4-2.7 .3 15.4 .2-13.8 .4-1.7 .1 11.2 .2-6.2 .3-5.6 .3-2.7 .1 4.8 .2-3.5 .1-3.9 .4 2.9 .4-8.4 .1 5.5 .4-4.6 .2-3 .3 4.9 .5-1.1 .1 3.6 0-5.8 .4 4.9 .1-.8 .3-4.7 .4 2.8 .2-2.3 .3-.1 .2-7.1 .4 .7 0-4.5 .3-10.3 .2 10.3 .2 1.6 .2-6.5 .3 4.6 .1-6.1 .5 2.6 .3 4.9 .5-13.1 0 12.3 .1-1 .4 5.3 .1-2 .4 5.4 .3-.1 .1-4.8 .3 1.5 .3 3.7 .2-.3 .2-5.8 .2 5.1 .5-4 .1-2.5 .2 7.4 .2-1.2 .4-9 .2-.9 .3 5.7 .2-10.8 .4 10.3 .3 2.6 0-5.6 .4 2.2 .3-8.1 .2 9 .1 3.1 .3-3.9 .1 3.1 .4-1.5 .2 9.1 .4-2.2 .1-6 .3 2.7 .4-1.7 0-2.4 .2-5.9 .4 1.3 .3-4.3 .1 2 .1-5.3 .4 5.1 .4-8.2 .4 6.7 .1 4.5 .4-.8 0-4.4 .4-1 .2 3.5 .3-1.8 .1 2.2 .3-2.8 .2 4.6 .3 1 .4 3.7 .1 2.7 .3-8.6 .3 2.7 .3 4.6 .4-3.8 .1 4.7 .1-7.2 .3 9.7 .4-1.6 .2-2.4 0-1.3 .2 6.9 .5 2.5 .1-10.3 .3 4.8 .2 4.6 .4 1 .2-3.2 .2 1.2 .2 5.2 .3 .8 .2-10.5 .2 15.7 .2-4.7 .7 8.6 0-7.2 .2 2.5 .4-7.9 .3 1.7 .1-9.3 .4-.6 .1 7.3 .4-9 .2 13 .2 .1 .2 13.3 .3-6.8 .2 4.8 .2 2.7 .2 12 .2-2 .5 77.6 .1-15.4 .1-54.8 .3 5.3 .2 6.1 .4-8 .4 7.2 .1 1.3 .3 2.1 .1-2.9 .3 5 .4 3.5 .1-4.5 .5 6.3 .1-8.8 .2 1 .2 10.8 .3 8.6 .1-10.8 .4 8 .2 5.5 .3 4.2 .4 5.1 .1-1.6 .4 12.5 .1-2.1 .3 3.6 .1 2.2 .5 4.9 .1 3.6 .2-5.5 .5-.2 .1 3.7 .4-.7 .1 6 .3-.7 .1 3.6 .3 1.7 .3 6 .2-.5 .1 4.1 .3 1.4 .5 10.9 .1-.8 .3 10.6 .1 1.3 .5 9.9 0-.4 .5 12 0 1.8 .4 9.6 .1 1.2 .5 13.4 0 .2 .5 18.2 .3 34.1 .1-14.6 .2-19.6 .1-8.8 .4 3.6 .3-1.7 .1-3.4 .2 2.4 .4 2.2 .4-6.5 0-.8 .4-5.6 .1-3 .4-4.5 .2-3.7 .4-3.9 .3 1.1 .2-4 .3-.1 .1-3 .4 2.5 .2-4.1 .2 .8 .2-1.6 .2 1.3 .2 2.3 .3 1.5 .2 4.4 .2-2.3 .5 4.5 0-1.2 .5 4.6 .1 1.8 .4-1.7 .1 .8 .4-3.3 .1-1.6 .2-2.1 .3-3.2 .4 3.9 0 .3 .3 6.1 .4 1.7 .2 6.5 .2 2.6 .3 4.7 .2 3 .2 5.5 .4 68.3 .3-59.1 .1 .7 .4 4.7 0 1.5 .5 6.1 0 1.3 .5 6.7 .1 .5 .3 5.6 .1 .9 .5 6.8 0-.1 .5 6.4 .2 3.2 .3 4.8 .1 1.5 .3 .8 .2 .8 .3 2.3 .2 .4 .2 3.1 .2 2.2 .5-.2 0-.4 .5-2.7 .1 .8 .1-1.1 .4-.2 .4-1.4 0-.1 .5-1.2 .1-.4 .3-2.4 .1 0 .5-2.5 .3-1.2 .1-1 .2-1.7 .3-.6 .2-.2 .1 .9 .3-.4 .5 2.1 .3-.6 .1 1.1 .2 .1 .3 1.4 .2-.2 .4 1.5 .1-1.3 .3 1.8 .5-.2 .1 .7 .3-.2 .2 .9 .3-.1 .1-1 .2-.5 .2 1.2 .3-.5 .1-.9 .6-.3 0 .7 .3 .2 .1-.7 .3 0 .2 1.1 .5 .4 .2-.4 .1 .2 .3-1.1 .2 .2 .4-.8 .3 0 .2 1.4 .4 .5 .1-1.2 .3 .5 .2 .9 .3 .3 .2-1.1 .2-.3 .2 .7 .2 .2 .3-.5 .3 0 .3 .5 .2 .1 .4 2 .1-.4 .3 1.5 .2-.8 .2-.6 .2 .2 .5 1.5 .3 1.3 .1-.6 .3 .5 .2-.6 .3-1.2 .1 3.2 .3-1.7 .3 1.2 .1-.6 .3 2.5 .2-.7 .2-.5 .5-2.2 0 2.5 .4-.6 .3 .4 .4 .3 .2-1.1 0 .4 .5 1.5 0-.1 .4-.7 .4 .7 0-1.2 .4 .5 .2-.6 .3-.1 0 .4 .4-.9 .1 .3 .4-.6 .4 .9 .1-.3 .1-1 .4 .9 .4-.9 .2 0 .2-.3 .1 .3 .3-1.7 .2 .7 .3-1.1 .4 .7 .2-.5 .3-.9 .2-.6 .2 1.2 .1-1.9 .5 .2 .1-.7 .2-.5 .2 .9 .4-.6 .1-1.2 .4 1.9 .4-1.1 .2-1 .3 1.4 .4 .5 .1-.8 .1 1 .4-1 .4 .3 .1 1.1 .2-.9 .2 1.7 .3 .9 .1-.8 .5 .9 .1 1.2 .2 .1 .2-1.1 .2 1.2 .5-2.8 0 .5 .2-1 .4 .2 .4-1.7 .1-.1 .4 1.3 .1-.2 .3 .3 .2-.4 .4 1.1 0-1 .5-1.4 .2 2 .2-1.2 .2-.6 .3 1.8 .2-.2 .1 1.1 .5-.9 .1 .6 .3-.4 0 .9 .4-.4 .4-1.8 .5 .8 .1 .6 .1-1.2 0 1.3 .7 1.2 .1-1 .1-.1 .4 .6 .4-.3 .1 2.2 .2-1.2 .1-.9 .5 .4 .1-.8 .3-.7 .2 1.3 .4-.4 .1 .7 .4 0 .2-1.1 .2 .2 0 1.2 .4-1.6 .1 1.6 .4-.5 .1-1.6 .5 .8 .2-1.4 .2-.3 .5 1.5 .2 .2 0 .9 .4-.5 .1-.7 .4 .2 .2 1.4 .3-1 .4 1.8 .1-.8 .2-1 .3 .2 .1 1.6 .3 .3 .4-1.4 .2 1 .3 1 .1-.6 .4 1.4 .1-.4 .2 .8 .7-1.3 0 1.8 .2 0 .3-.8 .2 1.5 .1-.8 .5-.5 .1 1.6 .2-1.1 .1 1 .6 .8 0-1.5 .4 .1 .3 .8 .2-.8 0 .9 .5 .3 .3-1.5 .3 1.3 .2-1.2 .1 .7 .4 1.8 .3-1.1 .2 .7 .2-.3 .1-.8 .4-.4 .1 1.2 .5 .2 .1-.9 .2 .1 .4 1.1 .2-.5 0-.5 .5 1.7 .3-1.2 .4 .1 .1 1.1 .1-.6 .3 .6 .2 0 .7 0 .1-.6 .3 .6 .1-.4 .4 .4 .3-.8 .3 .3 0-.9 .4 1.4 .2-.8 .2 .5 .1 .3 .4 0 .4-.1 .1 .1 .4-.6 .4 .6 .1-.6 .3 .4 .2-.4 .5 .4 .1-.6 .2 .6 .2-1.3 .3-1.1 .2 1.3 .4-.1 0-1.1 .2 .6 .2 .5 .3-.3 .4-1 .1 0 .5-1 .4 .1 .1 .8 .1-1.8 .3 .6 .2-.7 .4 .9 .3 .5 .2-.8 .2-.9 .2 .9 .3-.7 .1 1.2 .4-.5 .1 1 .4 1.6 .3-2.7 .1-.5 .4 .7 0 .4 .2-2.1 .5 2 .2-1.4 .2 .4 .3 .7 .4-.8 .1 1.3 .1-.6 .2-.9 .5 .4 .2-1.3 .2 0 .1 1 .5-.6 .1 .6 .3-.5 .2 .8 .2-.6 .3 1.8 .2 .2 .5-1.5 .1 .1 .3 1.1 .5-.9 .1-.3 .1-.3 .3 .6 .4 .5 .2-1.3 .3 .5 .2-1.5 .2-.4 .2 1.2 .4-.5 0 1.3 .3-.7 .1-.8 .3 .7 .2-2.3 .4 2.3 .3-.7 .2-.8 .1 .8 .4-1.8 .4 2.1 .1-.1 .2-.9 .3 0 .3 2.7 .4-1.2 .1-1.4 .4 1.7 .1-1 .2 .3 .2 .9 .3-.6 .2 1.3 .3-.3 .1 1.6 .4-1.7 .1 .5 .3 1 .5-1 .2 .5 .2-1.5 .1 .7 .3 1.4 .2-.5 .1 .7 .7-1 .1 .5 .3 0 .3-.8 .2 .2 .2-.4 .3 .4 .1-2.2 .3 1.1 .2-2.6 .3 .9 .4 1.1 .2-.5 .2 .4 .2-.6 .3 1.5 .1-1.5 .5 1.4 .4 1.5 0-2.2 .1 .5 .1-.4 .7 .4 .2 1.3 .2-1.6 .1 2.1 .5 .1 0-.9 .4 .9 .1-.9 .3 .5 .1 1.2 .3-.8 .3 1.6 .3-3.1 .4 2.2 .1 .7 .1-1.3 .4 1 .3-1.1 .1 .8 .5-1.3 0 0 .2 .9 .6 .5 .1-.6 .3 .1 .2 .5 .2 1.5 .1-1.4 .5 .6 .1-.7 .4 1.4 0-1.4 .3 1.4 .4-1 .2 .2 .3-1.6 .3 0 .2 .3 .4-.6 .1 1.3 .4-.3 .1 1.1 .4-.1 .2 .6 .2-.3 .2 .3 .4 .1 0 .2 .5-.5 0 .9 .3 .2 .2-1 .3-1.6 .1 .8 .3 .1 .2-1.5 .3 .3 .4 .6 .1 .2 .5-1.3 .1 .1 .4-.2 0-.2 .4-2.2 .1 1.7 .5 1.4 .2-.5 .2 1.6 .2-2.1 .3 .7 .4-.4 0 1.8 .4-1.3 .3-.5 0-.3 .5 1.4 .2 .2 .3 .7 0 .5 .4-2.3 .1-1.7 .4 2.8 .2-2.3 .4 2.8 0-.2 .5-1 .2-.9 .2 1.3 .3-.6 .2 1.2 .3-.4 .1 1.1 .4-.7 .1-.8 .3-.3 .4 1 .1 .4 .4-.6 0-1.3 .1 2.7 .7-1.5 .2 1.4 0 .7 .3-1.9 .6 .1 .1 1.2 .3-1.1 0 1 .5 0 0-1.4 .3 .8 .2-.8 .3 1 .2-.9 .2 2.1 .1-1.9 .6 .3 0 .8"/><path stroke="#006400" d="M85.3 180l.1 6.2 .3-8.1 .2 3 .2 3.2 .1-8.6 .4-1.5 .2 6.9 .2-2.6 .1 11.1 .5-8.8 .1-3.4 .4 7.6 .3-8.9 .1 3.9 .4-7.2 .5 .7 0-6 .2-1.2 .2-5.4 .2 2 .4-14.9 .5 10 0 3.1 .2 3.1 .3-4.8 .2 1.2 .1 4.8 .5-.2 0 3.3 .6 1.1 .2-8.1 0-2.9 .1 8.6 .8-5.6 .1 4.9 .1-.6 .4 7.4 .1-7.8 .4 12.4 .4-12 .1 7.8 .2 2.2 .1-3 .4 .5 .2 5.9 .2 6 .1-6.9 .4 3.1 .2 3.7 .2-7.5 .5 6.6 .1-3.5 .3 9.1 .2-1.6 0-5 .4 2.8 .4 6.3 .4 7.2 .2-10.3 .1 3.4 .4 11 .2-6.9 .2-6.7 .4 4.4 .1 4.7 .4 3.5 .1-5.8 .3-2.8 .1 4.8 .2-5.5 .5 5.3 .1-1.6 .1 1.7 .4 5 .4-7.6 0 2.3 .4 4.9 .4 3.1 .2 1.9 0-2.4 .5 10.8 .3-3.5 .1 4.5 .4 .1 .2 3.2 .2-1.2 .1 7 .4-.3 .2 4.8 .3 4.9 .1-5.1 .2 11.6 .5 6.8 .2 0 .2 6.6 .3-6.8 .2 5.5 .2 1.2 .4 7.4 .1-11.2 .4 14.6 .1-.8 .3 5.9 .3-1.4 .3 5.6 .2 .7 .2-1.6 .3-1.5 .2 5 .3 1.9 .1-3.9 .2 1.3 .2-4.8 .4 1.7 .1 5.1 .5-12.4 .3 13.1 .4 5.9 .1-6.2 .1 2.1 .3 7 .2-3.6 .4 7.9 0 1.1 .5-11.3 .2 6.4 .1 7.8 .5-2.3 .1 3.8 .3-1.5 .2 3.8 .2 8 .2-16.5 .2-3.6 .2 8.2 .5-2.9 .3-5.6 .2 1.2 .2-.8 .2 6.1 .3-11.2 .5 7.6 .1-1.2 .1 3.8 .2-5.8 .4 3.4 .1 2.4 .4-.1 .2 9.7 .3-2.2 0 3.4 .5-2.5 .1 7 .2-2.3 .5 7 0-4.2 .4 10.2 .2-4.7 .4 5.1 0 .5 .5 6.6 0-.7 .4-5.1 .5 5.7 .1-6 0 7.7 .4-7.8 .3 11.5 .2 5.6 .3-2.8 .1 4.7 .4 3.4 .2 4.8 .1 1 .2 3.7 .3 4.7 .1-13.3 .6 10.5 .3 13 .1 2.7 .1 4.8 .4-.6 .3 6.7 .2-.6 .4 8.9 .3 0 .1 10.5 .1-8.5 .5 5.3 .2 1.3 .2 5.2 .3 .4 .2-4.6 .2 6.8 .1 3 .5 .8 .1-5.8 .2 4.1 .2-12.7 .3 13.6 .2-9.6 .3 3.7 .5-4.8 0-.3 .3-4.4 .5 2.7 .2-6.7 .3-.7 .1-5.4 .3 .3 .1 11.2 .3-3.6 .2-2.4 .3-1.7 .2 9 .2-1.5 .5 5.4 .1-5.6 .1 8.1 .3 4.3 .1-6.8 .4 4.2 .4 10.8 .2-5.9 0 4.6 .7-7.7 .2 6.8 0-.1 .4-6.1 .3 7.1 .3-9.1 .2 4 .2-6.3 .2 5 .2 2.4 .5 8.1 0-3.1 .3 3.3 .4 11.3 0-2.1 .5 10.5 .1-1.5 0-2.5 .5 1.6 .2 3.5 .2-4.6 .4 9 .2 1.2 .4-3.4 0 1.3 .3 6.5 .4-.7 .2 3.1 .2 2.6 .2-2.3 .3 1.9 .1 3.9 .3-3.2 .3-5 .3 1.2 .3 16 .1-1.3 .5-9.4 .1 4.6 .4-6.1 .1-3.8 .3 3.6 .4-.5 .2-2.7 0-1.1 .4-7.3 .3 1.8 .2-16.2 .4 8.2 .1-3.3 .3-1.2 .1 6.4 .4-4.4 .1-3.4 .2 8.2 .3-9.2 .2 2.5 .4 5.6 .2-2.5 .3 6 .1-1.5 .4 11.8 .1-7.4 .1 6 .5-.1 .2 2.9 .2-3.8 .2 2.8 .5-3.8 0 5.1 .4-5.5 .2 4.3 .3-1.6 .2 3.9 .2-3.1 .5 5.6 .1 0 .3-7.8 .1-.2 .2 4.8 .3-4.8 .5 11.3 .1-3.7 .3 3.3 .1-2.9 .3 2.9 .4 .1 .3-3.9 .2 1.4 .2-5.5 .2-1.9 .3 5.6 .2-1.3 .2-3.2 .3 1.7 .1-5.9 .3 3.6 .1-5.8 .5 1.2 .4-6.6 .2 2.8 .2 3.7 .2-3 .2 4.8 .3-4.8 .2-4.9 .5 2.5 .1-2 .1 1.6 .3 7.7 .4-3.5 .2 3.9 .2-2.1 .3-4.8 .2-1.4 .2 6.7 .3 6.2 .2-9.7 .3-3 .1 4.7 .3-2.3 .5 6.4 .2-2.8 .2 2.1 .5 5.3 0-9.3 .1 2 .4 4.8 .4-5.1 .2 4.3 .3-4.2 .1 5 .4-3.2 0 4.7 .4-2.8 .1-1.5 .4-5.1 0 5.4 .3-6.7 .2 3.7 .3-3 .5-6.1 0 2.3 .4-4.4 .2 3.6 .4 6 .1-2.7 .2 8.6 .5 .9 .1-5.3 .1-2.3 .4 6.6 .3-3.4 .1-12.5 .4 6.9 .2 4.9 .3 2.2 .1-3.8 .3 7 .1-7.7 .3 .5 .5-6.5 .2 5.9 .2-3.3 .2 1.4 .3-9.6 .1 .9 .4-4 .4 4.3 .2-6 0-2.8 .2-6.5 .5-2.2 .2 8.2 .3-2.1 .2-15.4 .2 3.6 .2-8.4 .3-7.6 .1 6.6 .4 1.6 .4-7.8 0-3.9 .4-3.9 .1 1.7 .5-14 .1 6.4 .4-7.8 .1 1.7 .3-10.6 .1 6.8 .2-4.4 .5 4.1 .1-14.4 .3 6 .2 2.3 .3 1.7 .1-9.3 .4 1.3 .1 3.5 .5-2.6 .1 10.2 .6-10.8 .1 7.5 .1-7.1 .1 6.5 .3-4.1 .1-4.7 .5 5.2 .3-10.3 .4 7.1 0-8.8 .5-3.6 .1 3.1 .4 .1 .1-7.5 .3 1.6 .2-2.9 .2 2.1 .2-3.4 .3 8.4 .1-10.1 .4-2 .1 4.2 .3-1.3 .5-13.1 .4-.3 0-4.1 .2 1.6 .3-7.3 .2 1.8 .3-5.5 .1 .9 .5-7.6 .4 5.1 0-8.3 .3-2.5 .2-6.4 .2-3.7 .3-5.1 .3 4.9 .1-7.9 .2-3.3 .5-11.9 .2-3.1 .3 8.1 .1 6.5 .3-9.5 .2-4.8 .4 4.2 .4-5.1 .1 9.7 .1-6.1 .3-4.9 .3-1.7 .3 8.6 .3-1.7 .1 6.3 .3-4.7 .2 4.7 .2-.4 .1-5.3 .4 3.8 .1 6.5 .4-6.8 .3 4.2 .1-1.1 .5 10 0 12.3 .5-13.2 .3 2.6 .1-8.4 .4 12.7 0-7.9 .6 2.3 .1 6.9 .4 .2 0-6 .2-1.9 .2 3.9 .3-2.7 .3 4.3 .1-2.8 .1 7.2 .6-2.3 .1-4.8 .2 2.3 .5 12.6 .1-.4 .3 1.3 .2-.5 .2 5.3 .5-6.5 .2 14.6 .2-9 .2 8.7 .4 4.6 .1-9.1 .3-.4 .2 5.4 .2 3.7 .3-7.5 .2 2.5 .1 2.2 .3-8 .1 6.4 .4 1.1 .4-6.9 .2 8.6 .3-10.2 .1-4.3 .3 10.3 .5 .5 .1-1.7 .1 1.6 .3 5 .5 .4 .2-8.8 .2 5.1 .2-2.7 .3 5 .1-2.7 .3 2.3 .2-7 .4 5.7 .1-6.4 .3-5.6 .4 8.3 0-4.5 .5 5.6 .1 2.6 .3-9.5 .4 6.3 .1-3.4 .2 3.5 .4 6.5 0-5.4 .4 4.8 .5 .7 .1-7 .3 4.5 0 14.6 .4-8 .2 5.2 .2 1.2 .2-5.1 .3 .6 .4 6.9 0 .1 .4-2.9 .2 2.7 .4 12.1 .1-2.7 .3-6.5 .4 9.6 .1-7.8 .2 1.8 .4 7.7 .2-1.6 .2 4.2 .4 .7 .1-15 .4 5.8 .1 3.1 .4-4.6 0 3.9 .4 1.1 .3-4.6 .2 .5 .3-10.1 .1-1.2 .3 5.5 .2-4.3 .3 5.9 .2-1.1 .3-5.7 .1 1.8 .4-6.9 .3 .6 .3 5.3 .2 0 .2-5.7 .2 .2 .3 3.1 .3-5 .2 6.1 .2-.5 .2-8.5 .2 1.5 .1 7.5 .5-4.8 .1 4.4 .7 2.6 0-5.3 .5-5.3 .1 5.9 .3 4.8 .2-7.9 .1-.6 .3-2.6 .3-4.3 .2 7.6 .3-1.7 .1-4.7 .5 11.4 0-6.5 .5-1.6 0 5.3 .2 2.5 .5-4.9 .3 1.8 .1-5.5 .2 5.8 .1-6.8 .3 .4 .4 7.3 .2 1.1 .3-8.8 .1 2.7 .5 5.8 .2-1.9 .3 6.5 .2-8.1 .2 9.1 .3 1.7 .1-5 .3 5.1 .1-7.9 .5 5.2 .1 7.7 .2-3.5 .5 4.1 0-4.1 .4 3.9 .2-5.8 .3 3.8 .2 1.4 .3-6.1 .4 2.9 .2-7.8 .2-.9 .2 1.8 .3-1.7 .1 8.6 .4-10.3 0 6.8 .5-1 .2-3.7 .3-7.5 .1 9.4 .3 1.9 .4-6 0-.5 .4 6.1 .2-4.6 .3-3.8 .1 4.2 .2-8.8 .4 3 .2-3.1 .5-6.2 0 4.8 .4 2.8 .2-6.7 .3 2.9 .2-2.5 .3-1.1 .1 4.3 .3-.6 .3-1.6 .1-.5 .3 11.8 .2-5.4 .2-8.2 .3 2.9 .2 1.5 .4-1.8 .1 11.7 .4-9.2 .4 5.5 .1 1.7 .3 6.3 .1-3 .3 3.6 .4-.6 .2-4.8 .3 .9 .1 4.9 .4 5 .1-7.3 .4 1 .1-5.2 .2-.4 .1 7.7 .5-1.9 .1-2.4 .3-.6 .2-4.1 .7 4.2 .1-3.8 .4 1.6 0-4.1 .2-2.9 .4 8.6 0 .6 .3 8 .4-3.9 .2 3.6 .3-4.2 .1 7.7 .3 7.1 .2-11.5 .4 4.5 .3-8 .1 1.1 .4 4.5 .2-5.2 .3 6.4 0-1 .4-5.7 .2-1 .3 6.7 .2-3.6 .4-8.8 .2-5.8 .3 8.6 .3-.3 0-1.1 .5 3.7 .1-4.5 .3 4.1 .2-6.1 .2 2.6 .1 2.4 .5-2.7 .3 5.5 .2-2.3 .3 4.4 .1-2.6 .4 4.9 .4-6.3 .1 7.8 0-15.1 .4 9.1 .2-.3 .2 5.5 .4-2.7 .2-9 .4 10 .1-6 .3 7.4 .1-8.3 .3 8 .1-4.5 .3-1 .3 6.1 .4 4.4 .1-10.2 .2 1.5 .5 5.4 .1-.9 .3-3.6 .2 .5 .2 2.6 .2-6 .3 5.7 .6-2.1 .1 2.6 .3 4.1 0-5.3 .5 5.7 .1-4.8 .2 .7 .2 5 .3-3.2 .2-3.9 .3 4.4 .2-7.4 .3 10.8 .4-4.7 .1-.7 .1 3 .3-3.3 .5 3.9 .3 4.6 .2-9.2 .2-3.3 .2 3.2 .3 5 .1-4.7 .4 4.7 .1-3.3 .3 1.6 .2 3.5 .3-5.4 .1 6.6 .3-7.8 .2 10.9 .5-.5 .2 4.8 .2 9.6 .4-6.6 .1 .1 .4 10.2 .1 1.7 .3 10 .1-5.9 .5 24.3 .2 18.8 .2-13.2 .3-2.3 .2 4.5 .4 5.1 0-15 .4 1.3 .1-6 .3 3.2 .1-8.5 .3-2.8 .3 6 .3-8 .4 7.6 .1-2.6 .3-9.5 .2 5.1 .4-5.5 .3 7 .2-4.7 0-1.5 .4-5.4 .1-1 .5 11.8 .2-2.7 .2 6.2 .2-2.4 .1-14.3 .4 9.4 0 5.3 .5-2.1 .2-6.3 .2 2.4 .2-10.9 .7 6.5 .1-5.7 .4 5.1 .1-4.7 .1 .9 .3 6.4 .4-6.3 .2 5.2 .2-2.7 .3-3.7 .2 4.4 0 4 .4 .8 .2 4.8 .4 .7 .1-10.9 .4 11.7 .1-5.7 .3 3.6 .4-7.5 .1 6.8 .4-14.6 0 4.5 .4-7.4 .1 2.8 .3-3.9 .2 7.8 .1-6 .7 1.1 .1-7.6 .3 2.5 .3-5.8 .3 8.6 0-5.6 .4 1.6 .2 5.7 .2 1.2 .1 3.3 .4-3.7 .1 10.7 .3-10.9 .5-8.1 .2 3.5 .3-5.9 0 3.9 .5-5.9 .1-4.9 .3 6.5 .2 5.3 .2-4.3 .2 1.4 .3-7.2 .6 4.7 0-5.9 .4 .7 .1 6.4 .2 .1 .1-4.3 .4 1.9 .4-5.5 .1 2.5 .4-7.5 .1 14.3 .4-13.5 0 1.9 .5-9.8 .1 2.3 .2 4 .2-.4 .3-11.6 .2 2.5 .4-6.5 .3 .2 .2 4.8 .2-5.7 .3-4.3 .3-2.6 .2 10.1 .2-10.4 .1 5.6 .4 4.2 .2-8.8 .2 3.5 .4-8.2 .2 2.6 .3-1.8 .1 2.5 .5-5.9 .1 1.8 .3-4.8 .2 3.1 .3-4.6 .3 2.9 .3-5.4 .2-5.1 .2 4.8 .2-.1 .2-13 .3 1.3 .2 5.9 .2-2.1 .3-4.8 .5 .1 .1-3.9 .2 3.2 .3-1.9 .1-4.5 .4 11 .2 1.9 .3-7.8 .2 2.4 .4 5.6 .4-5.3 .1 7.6 .2 1.9 .1-9 .5-3.7 .1 4.9 .3-4.8 .1 3.6 .3-5.1 .2 7.7 .3-2.5 .1-7.5 .4 4.3 .1 4.6 .4-1.4 .3 8 .2 .6 .4-6.6 .1 3.3 .4-4.8 .1-1.8 .3-4.4 .4-6.1 .1 12.4 .3-1.9 .2-2.7 .2 5 .2-6.5 .3 1.8 .2-1.8 .2 .7 .2-4.5 .4-.3 .3-6.3 .2 5.4 .3-7.8 .1 3 .2 5.9 .4-.7 .3-2.8 .1-1.2 .5 5 .4-2.2 .1 2.5 .2-3.1 0 3.2 .4-2.2 .2 8.4 .3-1.4 .2-13.8 .3 7.4 .1-5.5 .4 .9 .2 9.4 .4-1.3 .3-4.9 0 2 .1 10.5 .7-1.4 .2-2.9 0 2.5 .5 6.5 .4 8.1 0-9.9 .1 3.9 .4 8.5 .3 6.1 .2 13.6 .3 .8 .1 7 .3-2.8 0 7.9 .5 5 .4-5 0 2.2 .4 5.7 .1 2.9 .5 13.5 .1-12.7 .3 6.5 .1 .8 .1-7.3 .5 7.5 .3 5.4 .1-1.7 .5 13.9 .2 5.5 .2 3.6 .2 0 .2 8.6 .3 4.3 .2-7.5 .2 3.1 .5 7.7 .1-7.4 .2 11.6 .2-1.2 .2 7.4 .3 10.4 .1-7.8 .5 1.4 0 3.4 .4 .1 .1-.3 .6 1.4 .3 8.2 .3-3.6 .1 4.7 .2-3 .3 7.6 .4-3.7 .1 4.5 .2-.4 .1 2.6 .4 1.7 .4-5.3 0-4.5 .1 7.1 .5-5.5 0 6 .7-7.4 .2 4.1 .3 4.5 .1-5.2 .4 3.7 .2-5.5 0 .2 .5 9.5 .2 2.4 .2 6.5 .2 3.6 .3 6.2 .2 3 .2 4.2 .2 2 .5 10.8 .1 1.4 .4 7.9 .2 .2 .3 4.9 0 1.9 .4 6 .2 .8 .3 5.1 .2-1.1 .4 5.1 0-2.3 .5 7.6 .3-3 .1 4 .4-.5 .1 1.5 .3 3.2 .1-3.2 .4 8.2 .1-6.1 .2-.6 .5 6.2 .2 1.3 .3-2.7 .1 .4 0-.4 .4-1.8 .4 8.4 .1-1.7 .4-3.3 .4 2.2 .1-1.7 .1-.1 .5-1.9 .3-2.1 .1 2.5 .2 .6 .3-2 .2-.7 .2-6.3 .3 5.6 .4-2.3 .1-1.3 .1 1.7 .4-3.5 .3-2.3 .1 1.8 .4-5.9 .2 1.4 .3 3.2 .1-.3 .1 4.4 .6-1.5 .3-3.6 .3 2 .1 2.5 .3 1.6 .1-4.9 .4-.5 .2 2.2 .2 0 .1 6.3 .3-2.8 .5 2.8 .2-1.4 .2 3.5 .3-2 .2 2.3 .2-.2 .2 2.1 .6-2.1 .1 2 .1-1.3 .3 4.2 .1-1.6 .5 1.6 .2 .7 .2-3.4 .2 1.6 .2 3.2 .4-1.2 .1 2.4 .3-.2 .4 3.1 0 1.1 .1-3.7 .5 5.4 .1-4.6 .3 2.6 .4 2.2 .4 .8 .1-2.4 .5 3.6 .1-6 .2 4.4 .1-1.8 .4-1.2 .2 3.4 .2-.3 .3 1.7 .2 1.2 .2-1.1 .3-1.1 .2 4.1 .3 1.5 .4 2.3 0-.4 .5 4.7 .1-.8 .1 4.8 .4 .1 .2 1.7 .3-1.4 .4 4.2 .3-3.2 .1 1.5 .4 .7 .2-1.3 .3-1.8 .1 2.9 .2 .8 .2-2.3 .3 1.3 .1 4.2 .3-1.8 .2-.9 .3 3.4 .2-1.1 .4 1.1 .4-2.5 .1 1.4 .3-1.2 .1 1 .3 1.2 .5 .6 .1-1.6 .1 .5 .5 1.5 .2-2.1 .2 2.6 .2 1.3 .1-1.6 .5-.5 .1 1.3 .4-1.1 .1 1.6 .4-1.9 .3 2 0 .2 .1-2.6 .4 .7 .4-.9 .2-.3 .3 3.2 .2-.8 .2 2.1 .2-.6 .5 2.3 .2 .6 .1 2.2 .3 .8 .3 1.4 .2 1.6 .1-1 .4 1.8 .2 .9 .3 1.6 .1-1.9 .4 .1 .4 1.5 .1-.3 .4-1.1 .1 .1 .2-1.7 .2 .4 .5-1.8 .4 1.2 .1-3.1 0 .4 .3 .9 .4-1.6 .2-1.6 .3-.1 .2 2.6 .2 .5 .2-1.6 .3 .9 .4-1.6 .1 .1 .3 1 .2-.2 .1 1.6 .4-.3 .4-1.7 .1 1.4 0-1.6 .4 1.2 .5-1.3 .2-.6 .3 2.6 .3 .3 0-1 .4 1.6 .1-2.3 .3 1 .1-1.3 .4 .5 .1 .9 .4-1.6 .4 3.9 .1-3.2 .1 1.8 .4 .3 .1-2.5 .4 .7 .2-1.2 .2 1 .5 1.1 .1-.3 .1 1.3 .5-2 .3 2.1 .3-1.2 .1 1.3 .2 1.6 .3-3.3 .4-.3 0-1 .3 2.1 .2-1.6 .3-1.9 .3 3.5 .1 .2 .2-1.4 .3 1 .1 1.1 .5 .2 .3-2.5 .2-1.5 .3 1.2 .3-2 .3-1.8 .2 .7 .2 1.1 .4-.2 .1-2.1 .2-.8 .2-2.2 .4 1.1 .1-1.1 .2-1.3 .5-3.1 0 .5 .4-3.2 .1 .2 .4-4.4 .1 1.3 .4-3.9 .2-1.2 .4-3 0 .6 .4-4.7 .4-.3 .1 1.2 .3-.2 0-2.9 .5 2.9 .1-2.3 .3 2.2 .2-3.3 .2 .6 .5-2.6 .2 1.5 .2-2.3 .2 2.6 .4-2.5 0-.6 .5-1.9 0 0 .4-2 .1 2.5 .4-3.2 .4-.5 .2-4.1 .2-.6 .2 4.4 .2-2.2 .3-7.1 .3 .8 .1 2.3 .2-2 .3 7.7 .2-2.9 .5-6.5 0 .1 .4-5.9 .1 1.5 .4-4.4 .1-2 .4-6.5 .2 1 .4-2.9 .2 .1 .1-1.5 .4 .7 .1-4.2 .4 .7 .2-1.8 .2 1.8 .3-4.6 .2-.2 .1 2.5 .5-3.8 .1 3.6 .2 1.9 .2-8.8 .4 .6 .3-5 .4 .4 .2 3.8 0-1.2 .5-6.4 .3-.5 .1-6.7 .1 1.6 .3-6 .4-2.7 .1 2.7 .5-4.7 .1 3.4 .2-5.7 .2 3.4 .4-5.3 .1 7.9 .3-9.2 .4 8.8 0-3.9 .5-7.7 .4 .5 0 4.5 .2-3.2 .4 5.4 0-2.2 .3-6.1 .4 4.9 .3-5.4 .4 2 .1 1.2 .3 .1 .1-3.7 .3 .7 0 3.2 .4-1.4 .2 2.8 .3-.7 .4-4.4 .2 3.1 .3-5.6 .1-.7 .3-5.5 .1 1.9 .5-12.8 0 4.4 .5-4.3 .4-3.8 0 6.4 .1-.1 .3-9.4 .4 3.8 .2-9.6 .4 4.6 .1-4.7 .2 1 0-5.7 .4 4.5 .5 8.2 .1-4.3 .1 1.5 .3-3.1 .1-8.1 .8 7 .1-8.2 .1 3.2 .3-9 .2-1.8 .3 6.3 .4-9.6 .1 4.6 .3-4 .2-3.2 .2 2.7 .2-6 .3 1.4 .2-4.8 .3 .2 .1 4.5 .4-7.2 .4 5 0 0 .1-4.3 .8 9 0-12.3 .1 8.6 .1 4.3 .5-7 .3 5.6 .3 2.5 .2-6.1 .1 2.7 .5-12.7 .2-3 .2-6.4 .3-5 .2 6.3 .2-2.4 .2-5.6 .4 1.9 .3-4.4 .1-1.9 .1 3.1 .4-.5 .3-12.4 .3 18.1 .2-10.6 .1 6.5 .4-5.1 .2 2.4 .2-4.2 .4 7.8 .1-8.1 .4 1.9 .1 7.3 .3-2.9 .2-8.3 .4 8.3 .2-5.9 .3 3.2 0-4.2 .3-3.1 .2 5.4 .3-3.8 .4-8.6 .2 7.3 .3-10.4 .2-.2 .4 5.2 0-10.6 .4 12.5 .1-.9 .4-5.3 .1 5 .3-5.7 .4 4.7 .2-9.8 .2 3.6 .3-10.2 .3 2.4 .1 4.1 .3-9.7 .4 5.3 .1 1.9 .3-8.8 .1 6.5 .1-4.9 .6 .3 .1 6.8 .5-5.1 .1 7 .4-.1 .1 5.2 .1-1.9 .2 4.3 .6-3.8 .1 2.3 .2-4.2 .1 4.6 .5-6.7 .1 6.6 .4-1.2 .3-4.8 .1-2.9 .4 10.3 0-.3 .5-7.2 .4 2.2 .1-4.3 .3-2.7 .2 3.2 .4 6.4 .1-8.9 0 1.7 .5 14.7 .2-8.4 .1 5.9 .3-7.4 .1 4.6 .4-3.7 .3 3.1 .2-2 0 2.1 .5-.9 .2-5.3 .3-8.9 .4 10.7 .1-2.1 .3-10.5 .2 5.1 .2-4.1 .5 1.3 .1 4.2 .2 7.7 .2-11.3 .6 10.2 .1-3.2 .2-1.4 0-5.6 .4 6.8 .2 4.4 .3-2.3 .2 4.7 .2-6.3 .5 6.5 .1-8.8 .3 7.5 .1 1.6 .4-7.4 .1 8.3 .4-7.7 .2 6.2 .3-9.5 .4 9.4 .1-4 .1-.3 .5 5.3 .2-4.1 .2 4.6 .2-5 .1 9.3 .5-7.6 0 4.2 .4-3.1 .2 9.3 .3-4 0 3.4 .4 2.2 .4-4.5 .2 4 0-4.6 .5 .4 0 6.5 .5-1.9 .2-11.5 .5-2.5 .1 6.9 .3-3.3 .1 4.4 .4-.7 .2 7.3 .2 3.5 .1 4.5 .4 5.5 .2 4.5 .2 2.7 .5 12.2 .1 .7 .1-4.8 .3-.5 .5 9.6 .1-4.8 .3 6.1 .2 2.1 .2-6.9 .5-.3 .2 5.8 0-.6 .3 3.4 .6 2.3 0-6.3 .2 5.1 .2 10.9 .4-4.2 .1 7.4 .4-1.7 .1 5.1 .3 8.3 .4-4.5 0 6.5 .5 8.9 .1-2.3 .3 6.6 .2 1.4 .2 3.9 .3-3.2 .4 4.9 .3-1.6 .1 7.4 .1-2.3 .3 7.7 .4-5.1 .2 5.2 .3-3.6 .2 11.5 .2 2.9 .1 3.7 .3 1.1 .5 12.9 .2 1.1 .2 6.4 .1 1.5 .4 9 .1 2.3 .5 11.2 0 .8 .4 6.4 .1 2.9 .5 9.7 0 1.8 .5 9.6 .2 5.9 .1 6.8 .3-13.9 .3-2 .2 0 .3-2.5 .1 .6 .3-2 .3 .1 .4-2.9 .1-.4 .3-5.8 .1 0 .4-10.2 .1 1.4 .3-4.6 .5-.3 .2-3.8 0-1.9 .4-2.8 .4 2.2 .2-8.2 .3 2.6 .1 2.9 .2-1.6 .3 1.9 .2-.1 .2 3.7 .2-1.5 .5 4.8 .1 .2 .3 1.8 .3-1.4 .3 2.2 0-1.9 .4 2.2 .2-.9 .4-3.9 .1-3.2 .4 4.5 0-.4 .2 5.9 .5 2.3 .2 4.3 .2 1.1 .3 4.6 .2 1.9 .2 4.3 .4 27.9 .3-17.2 .1 1.5 .4 4.6 0 .1 .5 6.3 0 2.2 .4 6.7 .2-.3 .4 5.4 0 .3 .5 6.2 0 1.2 .5 4.8 .2 2.9 .3 4 .1 1.9 .3 2.7 .2 1.3 .1 2.3 .4 2.1 .2 2.6 .5 2 .2 3.3 0 .1 .5-.9 .1-.6 .4 1 .1-.9 .4 1.2 .3-2.8 .1 1.3 .2-1.5 .3-1.3 .1-.3 .5-2.5 .2-1.7 .2-1.1 .4-2 0 1.5 .3-1.4 .2-.8 .2 .1 .2 1.7 .4 .5 0-1.2 .5 1.2 .3 1 .1-1 .5 2.1 .3-.1 .1 .8 .4 .3 .2 1.6 .3-.3 .1-.5 .4-.4 0 .8 .3-.5 .3 .5 .4-1.3 .1 1.2 .2-.6 .1-1.4 .4 1.5 .2 .6 .4-1.1 0 1 .4 .4 .3-1.2 .2 1.1 .4-.7 .4-.6 .1 1.5 .1 1.1 .2-1.6 .2 1.6 .4-1.3 .3 .8 .2 .8 .2 .1 .1-.9 .4 .4 .2-1.4 .2 1.8 .5-1.3 .1 .6 .1 .7 .4-1 .4 2.4 0-.4 .4 1.3 .2-.3 .3 2.2 .2-2.5 .4 1.8 .2 1.5 .3-.9 .2 1 .2-.5 .2-1.7 .3 1.7 .2-.5 .1 .9 .3-.4 .3 1.4 .2 1.2 .1-1.7 .5-.5 .1 1 .4 0 .3 1 .4-.2 .1-1.7 .1 1.2 .3 .7 .2-.5 .2-.7 .3 .8 .5-.8 .2 0 .2-.8 .2-.6 .3 2.5 .3-1.3 .1-.6 .3 0 .1 .9 .5-.4 0-.9 .4 1.5 .4-1.3 .1-.2 .4 1 0-1.1 .1-.5 .4 .7 .1-1.4 .7 1.3 .2-1.6 .3-1 .1 .7 .3 0 .2-1.6 .2 .5 .2-1.4 .2-.4 .2 1 .3-.5 .3-1 .3-.7 .1 2.3 .3-.3 .2-1 .4 .4 .3 .9 .1-.2 .1 1 .4-.2 .5 1.8 .3 .9 .2-1.7 .3 .9 .1 1.5 .3 .1 .1-.4 .3 .6 .2 1.7 .2-1.3 .3-1.6 .2 .4 .2-2.1 .4 1.5 .4-1 0 0 .5 1.4 .4 .1 .1-.9 .1 .5 .3 1.4 .5-1.3 .1 .6 .2 .4 .2-1.5 .2-.7 .3 2.3 .2-.5 .1 .9 .3-2.1 .2 2.4 .4-1.1 0 1 .4 .3 .5-1.7 0 .1 .2 1.1 .6-.5 .2-.6 .1 1.4 .4-1.9 0 1.3 .4 .8 .4 1 .1-.9 .3-.2 .2 1.1 .2-.9 .2-.9 .3 .2 .2 .6 .2 0 .5-1.6 .1 .8 .4-1.7 .1 1 .3 .6 .2-.1 .2-.7 .2 .4 .5-1.3 .3 .1 .1 .7 .3 .1 .3-.5 .2 .6 0 .7 .6-.1 .1-.9 .2-.2 .2 1 .4-1.3 .3 2.3 .1-.2 .2-.9 .3-.2 .1 1 .3-.3 .1 1.2 .5-.8 .3 1.2 .1-.8 .3 1.4 .5 1.1 .2-1.1 .2-.6 .2 1.7 .4-1 0 .8 .4 .5 .1 .5 .3-.4 .1-.7 .3 .7 .1 .7 .5-.1 .3 1.6 .2-.7 .3-.6 .2 1 .4-1.5 0 1 .4-.5 .3 .7 .2-.9 .4 .9 .2 .8 .3-.5 .1 .4 .4-.4 .1-1.2 .2 .3 .2 1.1 .2-.1 .5-1.5 0 0 .2 1.9 .3-.3 .1 .8 .8 .8 .1-.8 .1-.6 .3 1 .1-1.2 .3 1.8 .2-.3 .4 2.4 .3-1.3 .2-1.4 .3-.3 .1 .6 .5 .8 .1-1.1 .3 .7 .1-.8 .3 0 .2 1 .2-.4 .4 1.1 .3 0 .2-1 .1 .7 .4-1.5 .1 .8 .1-.9 .4 .7 .4-.5 .1 .7 .4-.9 .3 .1 .2-1.1 .3-.6 .2 .5 .4-.2 0 .4 .4-1.1 .3 1.7 0-.5 .4-1.4 .1 1.4 .5-2.1 0-1.1 .2 2.8 .7-2.3 0 .7 .4-.1 .2-.4 0 1 .4-1.8 .3-.2 .2 1 .4 .6 0-2 .4 1.8 .1-1.4 .2 2.2 .3-.9 .4-.3 .1-1.1 .3 1.9 .4-1.3 .1 1.2 .1-1.3 .4 0 .2 .4 .5 .3 .2 .3 .4-.6 .1 .9 .3-.6 .2-1.2 .2 .7 .2-1.2 .3 .4 .1 .4 .5-.3 0 .8 .2-.6 .5 1.5 .1 .6 .3-3.4 .2 1.4 .4 2.3 0-1.2 .1-.9 .4 .7 .4-1.2 .2 0 .2 .4 .4 .9 .2-1.3 .3-.7 .2 1.1 .2 .1 .2-1.1 .3 .9 0-.8 .4 .2 .3-.4 .4 1.4 .2-1.1 .5-.3 .1 1.8 0-1.5 .2 .7 .4 .2 .3-1 .4-.5 .1 .8 .5 .6 .1-1.1 .4 .3 0 .5 .2-.1 .1 1 .4-.3 .3 1.2 .2-1 .2 .5 .3 .5 .4-1.2 .1 1.3 .3 1.4 .5-1 0-.5 .1-.4 .5 1.3 .3-.4 .1-1.1 .2 .5 .3 .8 .1 .2 .3-1.9 .4 1.1 .2-.7 .2 .6 .3-1.3 .2 .5 .2-1.7 .2 .2 .2 1.1 .4 .6 .1-1.9 .3 1 .4 .9 .5-1.1 .1 1.2 .1 1.5 .3-3.6 .2 .6 .4 1.8 .2 .2 .2 .9 .3-.5 .2-.3 .4 .4 0-1.8 .4 2.8 0-.8 .5 .9 0-.4 .3-.3 .3 1.3 .3-.4 .4-1.4 .1 1.1 .1-.9 .4 0 .4 1 0-.1 .5-1.1 0 .2 .3-.7 .4 .8 .2 .8 .3-.2 .2 1 .3 .1 .2-1 .2 .6 .1-.3 .3 0 .3 1.3 .4 .1 .2-1.8 .2-.5 .1 .9 .5-.7 .2 .9 .1-2.1 .4 2.6 .2 .5 .2-1.4 .2 .1 .4 1.5 .5 0 0-.6 .2-.2 .2 1.7 .4-1 .1-.7 .4 .9 .1-.8 .4-.5 .3-.2 0 .4 .2-1.2 .5 .3 .2 .7 .1-.1 .4-1.2 .2 .4 .3 1.6 .1-.6 .4-1.7 .4 .2 .1 1.3 .3-.6 .1 .7 .3-.1 .1-.9 .4 .8 .1-1.3 .3 1.5 .5-1.5 0 .2 .1 1.2 .6 .4 .2 .8 .1 .1 .5-1.9 .3 .3 .1-2 .2-.3 .3 2.9 .1 .1 .3-1.1 .4 0 .2 .7 .3 .2 .1-.6 .3-.1 .2 .8 .4-.9 0 .9 .4-1.5 .4 1.5 .2 .4 .2-.9 .2 1.9 .1-1.3 .7 .5 .1 .8 0-.3 .3-.8 .2-.8 .2 .9 .5-.3 .1 1.3 .4-.6 .1-.4 .3-.1 .1-1.2 .4 1.2 .2-.4 .3-.2 .1 .7 .5-.3 0 2.4"/><path stroke="#ff0000" d="M85.3 178.1l0 9.3 .4-7.7 .2 8.6 .3-4.1 0-10.1 .4 1.3 .2 8.6 .2-1.2 .5-8.1 .2 2.5 0-4 .3 6.6 .4-6.8 .2-2.6 .4-5.3 .1 1.1 .3-6.7 .2 3.9 .2-7.1 .2 .7 .3-7.1 .4 .2 .2-1.6 .3 6.2 .1-6.6 .3 .3 .1 8.6 .3-6.4 .2 6.1 .3-5.6 .1 2.9 .4-1.6 .1 3.9 .5 3.6 .4-7.3 .1 .6 .4 8.6 0-2.5 .4-2.8 .1 1 .5 10.8 .4 1.3 .1-3.1 .3-.5 .1 6.7 .2 1.5 .1 5.5 .4 6.4 0-8.6 .6 7.3 .1-9.2 .2 3.6 .5 4.5 .1-.1 .1-6.4 .4 5.2 .4 8.5 0-.4 .4-4 .4 6.9 0-3.4 .5-.9 .2 4.7 .3-7 .1 6.6 .2-2.2 .2 5.4 .4-1 .1-3.5 .3 3.8 .1-7.5 .4 .4 .2 6 .2 4.9 .4-7.9 .3 2 .3 7 .1 1.9 .2 3.7 .2-4.8 .5 17 0-2.1 .4 3.4 .4-.7 .1 8.2 .4-6.5 0 2.6 .3 .2 .1 6.4 .4-3.6 .2 8.4 .2-.3 .1 6.3 .4 5.2 .2-3.9 .5-.1 .2 5.2 .1 1.2 .5 9.4 .1-6.6 .4 11.5 .1-2.3 .3 7.7 .4-5.2 0 5.3 .4 .8 0 7.4 .4-9.2 .3 10.2 .2-6.3 .2-3.9 .2 1.5 .5-5.6 .1-1.8 .1 6.2 .7-9.3 .1 11 .1-4.4 .3 10.3 .2 .3 .2-6.9 .3 3.2 .2 7.2 .4 .1 .2-5.6 .3 8.7 .2-8.1 .3 5.7 .1-3.7 .4 3.8 .1 2.3 .3-3 .1-5.2 .4 7.8 .4-6.7 .2 .9 .3-7.3 .4 1.9 0-3.7 .2 5.7 .4-6.5 .1-.2 .3 6.7 .2 2.7 .3-7.2 .1 .9 .3 12.4 .4-5.2 .2 11.7 .3 0 .2 6.3 .2-.1 .1-3.3 .3 1.9 .2 11.3 .3-4 .2 9.5 .3-5.8 .5 11.3 .1-1.6 .3 5.2 .1-4.9 .4 12 .2-10.1 .2 9.4 .2-7 .5 9.3 .2 3.9 .1-4.1 .4 4.2 .1 5.1 .3-.1 .3 8.2 .1-2.2 .2 7 .4-3.4 .4 4.5 0 2.3 .5 7.5 0 3.9 .2 11.8 .3-15 .4 18.6 .4-.1 .2 2.4 .3 6.8 .1-2.7 .4 4.3 .1-6.2 .3 7.1 .2 4.1 .4-3.1 .1 3.9 .2 .6 .2 9.9 .2-14.3 .3 12.9 .2-5.6 .4-7 .2 1.1 .3 3.3 .3-1.4 .3-7.8 0 .7 .3-4.2 .2 1.5 .5-12.9 0-7 .3 7.5 .4-8.9 .2 13 .2 2.9 .3-9.9 .2-4.5 .2 15 .2-.2 .2 4.1 .4-2 .1 2.4 .5-1.6 .2 9.2 .2-8.6 .3 13.7 .2-7 .4 5.3 0-3.1 .3-4.9 .4 6.1 .2-6.1 .3 5 .3-3.1 .2-6.2 .1 9.3 .3-1.4 .3 6.4 .2 2.8 .2 5.9 .4-5.3 .3 19.5 .1-4 .4 8.1 .1 1 .3-3.7 .2 1.1 .4 4.1 0-2.7 .4 6.4 .4 1.7 .2-2.4 0-3.2 .3 11.2 .5 2.8 .1 2.8 .3-1.8 .1 6.9 .3 1.2 .2-4.5 .2 2.6 .2-9.1 .4 4.7 .3 10 .1 3 .4-13.3 .1 3.5 .5-3.6 .1-4.3 .2 2.6 .3-.2 .4-7.2 0 2.8 .3-5.8 .4-2.3 .2-9.4 .2-2.6 .1 4.1 .6-.5 .1-4.7 .2 5.4 .2-4 .3 6.2 .2-7.5 .4 .7 .3 4.9 .1-2.8 .3 6.9 .1-2.5 .3 8.6 .3 .4 .3 3.8 .4 3 .1-5 .1 5.5 .3 5.2 .4-6.1 .1-4 .4 7.6 .2-3.8 .2-.1 .2 7.4 .4 1.2 0-3.7 .4 1.6 .1-3.7 .3 .1 .1 5.2 .5-5.1 .4 7.8 .1 1.2 .3-2.4 .5-5.3 .1 8.9 0 2 .5-9.8 .2-2 .1 2.5 .5-3.2 .1 3.9 .2-.7 .3-7 .2 6.5 .2-4.2 .4 .5 .3-6.7 .1 4.4 .3-5.5 .2 3.5 0-6.4 .5-1.7 .3 5.5 .2-5.6 .3 2.7 .1-.2 .4-4.1 .5-2.3 .1 9 .2 2.2 .2-7.7 .2 .9 .1 5.2 .4-3.2 .2 4.8 .3 2.6 .2-4.9 .2 1.3 .2-3.2 .3 6.2 .4-2.5 .5 2.9 .1-3 .1 6.7 .3-6.7 .2 4.8 .4-3.7 .2-1.4 .2 5.4 .3 1.3 0-4.6 .6 5 .1-2.9 .2 3.5 .1-6.6 .3 .5 .3 7.2 .2-7.4 .5-6.4 0 1.3 .5-10.7 .1 .3 .1 3.9 .3-1.1 .5 7.6 0 1.4 .4-7.4 .4 11.7 .1-5.9 .3-1.3 .2 5.7 .3-4.1 .1-3 .3 4.6 .2-7 .3 3.8 .2 3.1 .3 .1 .1-6.7 .5 .2 .2-3.1 .5-2.9 .1 3.6 0 3.8 .4-16 .4-2.2 .2 4.1 .3 .3 .2-6.5 0-3.2 .5-5 .2 .1 .2-7.7 .2 3.6 .2-14.7 .3-3.8 .2-6.4 .3 1 .4-7.4 .1 2.9 .4-5 0-4.8 .4-9.7 .1 1.4 .4-7.2 .2 5.2 .4-10.8 .3 .4 0 4.4 .5-1.6 .1-7.1 .3 2.4 .2-10.5 .4 6.5 0-4.7 .3 4.8 .3-5 .2 1.8 .2 4.3 .3-2.6 .1 4.3 .5-8.1 .2 4.6 .2-7.8 .3 4.9 .4-5.3 .1 6.8 .4-5 .1-2.7 .2-1.1 .3-3.8 .3-2.7 .1 5.5 .4-1.9 .2-3 .4 5.7 .1-8.1 .3-6.8 .1 4.7 .2-5.4 .1 8.2 .5-4 .3-3.8 .1-1.2 .5-15.6 0 5.1 .4-4 .2 3 .3-9.4 .4-5.2 .1 4.1 .1-1.5 .5-9.5 .3 4.1 .1-10.8 .4 4.2 0-7.5 .3-4.3 .3-4.9 .2-5.1 .1-3.2 .5-.8 .3-10 0-4.3 .2-11.3 .4 8.3 .3-3.8 .2-5.3 .4 9 .1-2.8 .2 6.8 .4 2 .2-7.2 .4-3.7 .2 13.2 .2 8 .2-7.7 .2 4.4 .3 6.8 .2-4.4 .2 4 .3 .1 .2 6.7 .4-3.4 0 7.1 .3-2.6 .5 16 0 4.2 .4-10.7 .4 6.4 .1-5.5 .1 2.8 .4 7.5 .3 1.3 .1 4.8 .5-6.2 .1 13.3 .3-12.9 .2 9.4 .3-12.2 .2 12.3 .2 4.4 .1-12.2 .4 11.3 .1-5.3 .4 4.1 .4 13 .1-4.2 .3 3.8 .1-1.6 .5 9.4 0 3.8 .1-3.2 .8 1.8 0 5.5 .3 3.4 .1-6.8 .5-7.1 .1 9.2 .3 6.8 .2-7.3 .2 7.4 .2-6.2 .3 2.7 .2-8.4 .2 6.4 .4-11.4 .1-1.8 .5 8.5 .2-7.2 .1 8.2 .6-1.7 0-6.2 .2 8.8 .4 1.4 .2 4.4 .3-10.9 .3-2.7 .1 9.2 .4-.3 .1 4.1 .2 3.1 .2-11.4 .4 3.6 0-6.8 .4 .3 .1 5.5 .3-.1 .5 11.7 0-3.7 .5-5.1 .1 3.6 0 3.6 .5-2.2 .2 3 .2-2.3 .3 4.5 .5 1.7 .1 4.6 .3 3.7 .1-6.5 .4 .3 .2 5.6 .3-2.4 .1 3.5 .2 2.8 .3-3.8 .3 .8 .4 7.6 .1-.3 .4 7.3 0-1.3 .4-3.3 .1 3 .4-4.7 .2 2.1 .2 4.6 .4 1.6 .2-6.9 .3-4.4 .2 5.3 .2-4.7 .2-5.7 .3-4.6 .2 5.3 .4-7.1 0 7.2 .4 .2 .4-12 0 5.9 .5-8.6 .2 8.2 .3-10.1 .1 .7 .4-4.8 .1-.2 .3-8.6 .4 7.9 .1-3.6 .5 4 0-4.4 .3 1.2 .1 3.7 .3-5.2 .2-2.8 .3 2.7 .1-5.4 .4-5.2 .1 10.4 .4-4.6 .4 4.6 .1 .4 .3-6 .2-1.2 .3 4.5 .1 .8 .5-5.8 .1 1.5 .3-4.4 .3-.4 .2 3.3 .3 1.1 .2 3.9 .3 7.7 .1-9.6 .3 4.7 .2-5.8 .2 2.3 .3-6.3 .3 2.1 0 7.6 .4-6.3 .5-2.9 0-3.3 .4 12.3 .2-5.8 .3 5.6 .1-3.5 .4 6 .4-.7 .1 7.7 .3-1.2 .2-4.6 .2 5.3 .1 3.1 .5-5 .2 4.9 .2-6.3 .1 14.2 .3 .7 .5-2.1 .1 1.4 .3-9.8 .2 4.6 .3-4.9 .1 3.6 .1-5.9 .4-4.9 .3 5.4 .3-6.4 .2 2.4 .5-2.2 .2 4.5 .2 .4 .2-2.8 .2 4.9 .1-2.3 .5-6 .1 5.5 .5 .8 .2-2.9 .1 1.2 .3-5.9 .2 3 .3-9.8 .1 4.5 .2-5.6 .4 2.3 .2-3.5 .5-1.8 .2 1.5 0 2.4 .5-8.5 .2 3.5 .2-10.1 .2 5.3 .3 2.7 .3 .1 .1-2.2 .3-4.9 .2 8.8 .3 4.2 .1-9.6 .4 .2 .1 4.8 .5-5.6 .2 11.3 .2-5.6 .4 4.1 0 4.1 .4 5.9 .4-6.2 .1 4.5 .4-.3 .1 4.8 .4-2 .1 5.9 .3 .3 .1 3.1 .4-1.9 .1-5 .2 .3 .2 7.9 .3-.3 .2-5 .7 2.5 .1-5.6 .1 4.4 .4-5.6 .4 5 .1-6.9 .1-4.2 .4 6.7 0 8.6 .3-5.8 .4 3.4 0 3.8 .5 1.8 .1-3.6 .3-.3 .1 3.9 .4-1.6 .4-7.1 .1 4.2 0 4.7 .4-10 .5 10.8 0 5.1 .4-11 .2 .6 .2 10.3 .3-1.7 .4-8.9 .2-11.6 .1 13.7 .4-.7 .3-2.5 .3-5.4 0 10.4 .3-.1 .3-8 .2 4.2 .2 7.1 .2-2.4 .5-4.7 0 5.2 .5 4.8 .1-3.3 .4 7.8 .3-3.5 .2-4.4 .4-.6 .1 8.2 .3 1.8 .2-16.2 .2 9.2 .1-3.5 .4-.3 .2 6.3 .4-.6 .1 3.7 .2-1.3 .2-13.9 .2 9.8 .3-6 .3 8.3 .2-8.9 .2 3.9 .2-6.5 .5 5.1 .2-6 .2 .2 .2 6.6 .2-2.2 .5 6 .2 1.8 .1-4.6 .4 4.7 .1-5.3 .4 .4 .1 2.5 .3-3.4 .1 9.2 .4-5.1 .2-6.3 .4-1.5 .1 5.1 .3 1.5 .4-5.5 .1-2.1 .1 9.2 .4-5.1 .4 4.9 .4-7.1 0 5.9 .2-6.8 .3 6.1 .1-2.5 .5 6.9 .3-4 .1 5.3 .3 3.2 .1-5.9 .3-.6 .2 11.4 .3-7.6 .1 4 .4-.7 .3 10.9 .1 2 .4 7.3 .1-2.7 .4 11.3 .2 2.2 .2 8.3 .2-.8 .5 20.9 .2 16.3 .2-15.4 .3-2.5 .2 4.6 .2-3.7 .3-8.1 .2 1.7 .2-5.4 .3 2.5 .2-3.8 .4-1.6 .1 6.7 .4-10.3 .2 6.8 .1-4.6 .4-5 .2 4.8 .2-4.4 .2 2.3 .5-6.7 0-3.4 .4 7.3 .1-1.1 .5-6 .2 6.1 .2 10.7 .3-6 0-9.6 .4 1.1 .1 12.2 .3-5.2 .2-7.9 .4 3.3 .1-9.4 .4 8 .4-10.3 .2-2.7 .3 7.5 .3-4.6 .1 2.7 .2 2.9 .2-7.4 .2 7.3 .5-7.5 .2 5.1 .2-3.2 .2 3.5 .2 6.5 .5-.5 0-8.3 .2-1.5 .2 12 .3-2 .5-8.9 .2 4.8 .2-8.4 .2-.1 .3-6.5 .1 .8 .5-7.3 0 7.2 .4-2.2 .3-.8 .2-4.2 .4 .4 .1-5.5 .3 .1 .1 3 .4-2.3 .2 7 .2 1.6 .1 2.8 .4 .3 .2-4.9 .2-5.6 .2 3.8 .4-5.6 .1 8.2 .3-5.5 .3-14.6 .2 17.3 .1-11.1 .7 1.7 .2 1.7 .2 .9 .2-4.1 .4-4.5 .1 5.8 .4-5.8 0 6.8 .3-3.3 .2 5.6 .4-1.5 .1-9.2 .5 5.1 .2-5.5 .2-2.7 .2 7.6 .1-3.5 .4-9.5 .2 2.2 .3 3.6 .1 1.2 .3-10.2 .2 .1 .5-8.6 .2-2.2 .1 12.5 .3-7.7 .2-8.2 .4 4.6 0-7.1 .4 4.2 .2-4.6 .3 6.1 .4-9 0-.3 .5-5.5 .2 4.5 .2-6.7 .1 1.5 .4-7.9 .1 1.7 .1 3.5 .5-1.7 .3-7.7 .4 5 .2-6.8 .2 0 .2 4.2 .3-2.7 .1-8.8 .3 2.7 .2 6.1 .4 2 .3-6.2 .1-4.1 .2 5 .3-2.7 .1 3.5 .4-3.2 .4 7.1 .1 2.3 .3-5.5 .1 1.6 .5 7 .4 3.1 .1-11.7 .3 5.4 0-4.2 .3-.8 .2-6 .3 1.6 .2 8.4 .3-11.7 .1 3.5 .4 5.5 .1-6 .4 1.3 .3 5.7 .2-2.1 .3 6.4 .1-4.8 .3 6.8 .3 5.5 .4-6.9 .3 2 .1-3 .1 .9 .3 11.7 .6-11.5 0 6.4 .3 2.5 .1-7.5 .4 4.6 .1-2.3 .3-.9 .2-4.6 .3 2.9 .1-8.2 .5 3.9 .2-4 .1-.1 .2 17.7 .7-19.9 0 6.7 .2-9.3 .2 14 .5-1.8 .2 3.8 .2-4.2 .2 4.8 .3-.7 .1 8.9 .3-4.7 .2-5.7 .3 6.5 .1-7.2 .4 3 .1 4.5 .4-7.1 .4 11.6 0 2.3 .2-9.6 .3 4.9 .5 7.8 .3 3.6 .1-6.5 .1 5.5 .4 9.7 .1-7.3 .3 11.4 .4 3.9 .2 15 .2-2.4 .2 9.4 .3-1.6 .2 14.6 .4 3.4 .3-3.8 .1-.9 .3 11.2 .5-5.1 .1 6.5 .1 .7 .1-10.1 .4 1.2 .3 7.6 .1-5.7 .4 13.7 .1-1.5 .3 12.8 .4-2.1 .2 2.9 .3 4.1 .2 5.1 .2-.2 .2-7.7 .3 3.4 .4 7 .1 0 .2 5.7 .2-1.3 .4 6.1 .1-1.3 .5 8.5 .3-2.7 .1 4.5 .4 .7 .2-7.2 .2 3.7 .2 4.9 .4-1.2 .2 7.6 .1-3.8 .1 5.6 .5 3.2 0-3.1 .6 2 0 5 .3-1 .4-9.5 0 1.1 .2 6.5 .4-.5 .3-3.5 .1 .2 .3-5.1 .2 5.8 .1 6.8 .5-5.1 .3-4.1 .1 6.2 .3-4.4 .4 9.5 .2 6.1 .2 .6 .3 7.7 .2 3 .2 6.7 .2 3.9 .5 10.6 .3-1.3 .2 5.9 0 .3 .5 4.4 0-.1 .4 5.2 .2-2.6 .3 8.3 .1-.1 .3 3.4 .4-1.5 .2 2.8 .4 4.9 .1-2.6 .3 .1 .1-2.4 .3 2.1 .1 2.9 .4-1.7 .2-1.9 .2-.2 .1 3.3 .5-3.4 .3 2.4 .3-2.4 .2 2.8 .1-1.4 .4 2.3 .2-2.9 .2 3 .5-1.7 0 2.3 .5 3.4 .2-5.8 .2 5.3 .1-7.2 .3 2.3 .3-3.3 .3-1.6 .1 4.7 .3-4 .4-4.6 .1-1.4 .3-5.4 .2-1.6 .3-4.4 .1 .6 .2-2.7 .6 3.3 .1-5.7 .4 4.8 .1 1.8 .3 2.5 .3-5.9 .2 .9 0 3 .4 3 .2-4.5 .3 7.2 .1-5 .4 1.9 .2 7.6 .2-4.2 .3 8.2 .4-2.4 .2 6.6 .3-3.7 .2 2.2 .2 .7 .4 5.7 .4 3.2 0-6.2 .2 2.4 .1 3.6 .3-1.6 .3 5.3 .4 .9 .2 2.2 .3-2.7 .2 4 .3 .9 .1 1.5 .3 1.9 .4 4 0-.6 .4 1.5 .1 .7 .1 .9 .4-1.8 .4 4.5 .1-1.1 .4 2.6 .4 1.3 .2-2.4 0-.7 .4 4 .3-1.3 .2-2.4 .3 4.4 .1-2.7 .4 3.2 .1-1.1 .2-.2 .2 3.3 .3-1.8 .1 3.5 .6-1.9 .3 3.3 0-4.6 .4 6.9 .2-.9 .2 2.9 .2-2.9 .3 2 .5-.6 .1 2.5 .1-2 .2-2 .5 2.4 .1 1.2 .3 .3 .3 1 .4-.4 0 2.1 .2-.4 .2 2.1 .5 3 0-1.8 .4-.3 .3 1.3 .3-.8 .1 2 .3 .1 .3 1.7 .2 1.3 .4-1.9 0 .2 .3 1.9 .4-2.7 .2 2.4 .3 .2 .2 1.2 .3-1.5 0 1.6 .4-.1 .1-2.1 .4 1.6 .4-1.1 0-2.7 .2 3.8 .4-1.2 .1-1.7 .4-.2 .4 4.5 0-1 .1 .7 .4 .2 .5 3 .2 1.4 .3 1.5 .1-.6 .2 2.4 .4 .8 .1 .6 .3 .9 .2 2.3 .3 .7 .4-3.6 .2 1.6 .3-1.8 .1 1 .4-3.3 .1 .7 .2-3.5 .3 2.8 .4-3.5 .3-.6 .2-2.6 0 1.3 .5-2.8 .2-1.2 .1-1.8 .4 0 .2 2.2 .2 1.8 .2-3 .2 1.8 .3-2.5 .5 1.3 .1 2.2 .2 .6 .3-1.3 .2 .4 .3-1.7 .2 .8 .3-.9 .1 1.6 .3-2.6 .5 2.2 .2-2.3 .3 2 0-1.3 .4 1.1 .1-1.6 .4 .5 .2-1.9 .3 .6 .1-1.3 .3-2.3 .4 3.3 0 .3 .1-2.3 .5 1.1 .3 1.7 .1-2.3 .4 1.9 .4-.7 .2 1.9 .1-1.7 .2 3.4 .4-3.1 .3 2.9 .4-.8 0 2.8 .3-.5 .1-2.8 .4 .7 .1 1.4 .3 2.9 .4-5.4 .2 1.4 .2 1.5 .2 1.2 .1-2.4 .5 1.9 .2 1.3 .2 .3 .3-2.2 .1-.4 .5-2.3 0-1.5 .5-4.4 .2-1.2 0 1.3 .5-2.4 .1-3 .3-.8 .3-2.6 .2 .1 .1-2.1 .3-2.2 .3-7.2 .2 2.2 .4-7.5 .1 1.8 .4-6.1 .2 .1 .3-4.5 .2 1.8 .2-5.2 .4 2.6 .2-5.7 .3-.4 .2 2.4 .3-.5 .2-2.6 .3 2.5 .2-3.2 .3 3.5 .1-1.4 .3-2.6 .4 3.5 .1-3.7 .3 4.3 .1 2.4 .5-2.5 .1-2.6 .4 3.2 0 .4 .3-1.9 .3 2.8 .2-3.5 .2 5.6 .5-8 .2-.5 .2 3.2 .2-2.9 .3-4.6 .2-1 .2 3.1 .2-1.5 .3 4.4 .3-3 .4-4.6 0 1.8 .2-5.8 .4-1.2 .3-2.8 .1-.9 .1-5.1 .7-4.3 .1 4.3 .1-2.3 .4-2.8 .3 6 .1-7.8 .4-1.1 .2-3.7 .3 3.6 .1-5.4 .4 .4 .1 2.8 .2-4.8 .5 1.3 0-.5 .5-3.4 .1-.3 .3-3.8 .1 1.9 .4-3.6 .1 4.5 .5-6.5 .3-.5 .1-4.1 .1 2.4 .4-6 .4 .6 .1-3 .2-2.1 .1-4.6 .4 .6 .2 5 .2-3.3 .5-8.5 .1-3.4 .4 7.6 .2-2.2 .3-7.4 .4 2 .1 2.7 .1-1.4 .4 5.6 0 .2 .4-7.2 .4 5.5 .2-6.4 .2 1.9 .3 4.2 .3 1.2 .1-1.7 .2-.3 .2 5.8 .4 5.7 .1-10.4 .4 1.7 .3-4 .1 2.8 .4-3.7 .1-2 .3-6.9 .2 4.9 .4-10.2 0-4.2 .4 5.2 .2-7.5 .3-2.4 .4 5.7 0-9.8 .5-1.1 .1 9 .3-6.5 .1-4.4 .3-4.5 .2 6.4 .4 .9 .1 4 .3-2.8 .1-6.2 .3 1 .5-3.8 .2 1.5 .2-6.7 .2 3.7 .3-7.9 .1 3.8 .5-3.3 .2-11.4 .3 14.3 .2-11.1 .2-3.9 .3 5.3 .1-5.6 .4 2.9 .2-6.7 .2-.6 .1 7.7 .5 2.9 .3-6.8 0 .6 .2-5.1 .4 9.2 .1-4.7 .3 .5 .3 4.9 .3-.7 .2-4.4 .3 4.1 .2-3.9 .2 6.6 .3-7.7 .4-1.9 .2-6.2 .3 1.3 .1-10.2 .4 6.2 .1-5.4 .4 3.6 .3-6.1 .1 11.6 .1-12.3 .3 3 .5-6.5 0 1.4 .2 9.8 .4-10 .2 10.3 .5-4.9 .2-7.3 0 2.1 .3-6.3 .4 12.8 .2-6 .2 3.3 .2-6 .3-4.7 .1 11.1 .5-1.3 .1-4.8 .3-3.8 .4 6.2 .2-4 .2-6.6 .2 4.1 .3-6.5 .1-7 .4 7.4 .2-.3 .2-5.5 .2-1 .3 2.5 .4 7.1 .2-5.6 .4 0 .1-6.4 .3 2.5 .2-4.2 .2-3.1 .1 3.3 .5-6.3 .1 7.3 .4-1.2 .2-3 .1-.3 .1-4.9 .4-4.4 .5 15.5 .1-2.1 .3 8 .1 2.1 .3-3.8 .2 1.8 .4 10.6 .3-6 .1-2.1 .4 4.9 .2-7.7 .3-.1 .1 4 .4 1.2 0-8.7 .4 3.8 .2 4.3 .3-.5 .1-12.1 .7 7 .1-4.2 .1-.1 .4 5.1 .3-8 .2 8.4 .4-3.9 .1 5.2 .3 5.3 .1-5.1 .3 3.9 .2-4.5 .2 2 .1 6.3 .5-.1 .1-7.8 .4 5.3 .1-8 .3-.5 .3-7.3 .3 6.2 .2-4.3 .2-2 0 4 .4 .4 .4-4.6 .4 2.4 .1 8 .3-4 .2 7.5 .3-12.4 .2 10.1 .4 1.8 0-6.2 .3 4.4 .2 6 .3 4 .4-5.6 .1-3.1 .2 7.7 .6-9.4 .1 9 0 .7 .4-7.8 .2 4.6 .3-6.8 .4 13.5 .1-16.1 .1-.6 .4 4.8 .3-4.6 .2 2.7 .2 1.5 .2 3.6 .3 2.5 .2-7.8 .4 .6 .1 5.6 .2 2.5 .1-6 .4 7 .5-10.7 .1-4.6 0 9.4 .5-2.4 .3 4.1 .2 .6 .3-7.5 .4-1.5 .1 7.5 .4-.2 .1 5.3 .4-.1 .1 2.6 .2 1.4 .3 9.8 .2-.2 .1 5.8 .4 4.7 .1 4.6 .5-8.7 .2 12.6 .1-.4 .1 5.9 .6-6.5 .2 7.2 .2-.5 .3 3.3 .4 1.1 .1-6.1 .1 1 .5 15.1 .4-.5 0-8.2 .2 1 .2 13.3 .5-.9 .1-7.8 .3 5.7 .1 4.4 .3 9.1 .1-4.8 .3 4.2 .5 12.7 .1-2.2 .3 3.6 .2 1.2 .3 4.9 .1-3 .5 6.7 0-3.1 .4 4.1 .1 .7 .5 10.2 .2-2.1 .2 5.7 .2 4 .3 8.8 .3 2.2 .1 4.3 .2 2.9 .5 10 .1 1.1 .1 7.7 .3 2.9 .5 7.6 0 1.1 .4 7 .1 .5 .3 8.8 .2 0 .5 6.2 0 .4 .5 7 .2-3.5 0 3.2 .6-3.6 .1-3.4 .3-.1 .1-4.8 .4 1.2 .1-1.8 .3-.1 .4-4.3 .1 .9 .4-5.5 0-.8 .4-5.9 .1 .1 .4-5 .1 1.8 .5-8 0-1.8 .4-7.1 .4 3.1 0-4.2 .4 .5 .2-4.8 .3-3.4 .1 11 .3-4.1 .2 3.8 .2-1.1 .2 3 .4-2.6 .4 4.2 .1-.8 .3 3.2 .1-6 .4 8.3 .4-4 .2 2.1 .1-4.2 .4 7 0 2.3 .5-3.2 .2 4.9 .1-4.7 .3 5.4 .2 6 .3-2.4 .2 3.6 .2-1.5 .5 11 .1-1.2 .4 5.5 0 .7 .5 5.6 0 2.8 .5 8.1 .1 .3 .4 4.2 .1-.8 .4 4.6 0-1.9 .4 6.2 .3 2.1 .3 4 .1 2.1 .3 4.8 .2 3.5 .3 5.8 .2 2.5 .2 5.4 .2 3.7 .5 6.8 0-1.3 .2 2.1 .5-.3 .3 1.9 0-1.9 .3 2.6 .2 .3 .4-1.9 .2 1.2 .3-2.8 .1-.5 .4-2.3 .3-1.9 .2 .4 .4-2.8 .1 .6 .2-1.7 .2 .3 .2-.6 .2 2.3 .4-2.2 .1-1.1 .3 .8 .1-1.7 .4 1.1 .5 2.2 .1 .1 .3 1.4 .4-.9 .2 1.8 0 0 .4 1 .3 .5 .1-.4 .5 1.5 0-1 .3 1.1 .2-.9 .3 .2 .2 1.3 .3-1.3 .2 1.2 .4-.2 .3 .7 .1-1.8 .1 1.8 .4-1 .4 1.4 .1-.5 .3-1.1 .4-.4 .1 2 .3-.4 .3 1 .2 1.9 .2-.8 .2-.9 .1 .5 .4 .8 .2-1.4 .4 1.3 .3-.7 .1-.4 .3 1.6 .1-.2 .4 1.7 .1-.4 .4 1.8 .5-2.3 0 1.9 .2-.5 .4 1.8 .3 1.5 .1-.7 .3 0 .1-.7 .4-.8 .1 .9 .3-.6 .2 1.2 .2-.2 .2 1.6 .3 1.2 .1-1.2 .5-.5 .1 1.5 .5 1.3 .2-1.5 .2 1.7 .4-1.6 .3-1.1 .1 1.2 .1-.7 .4-2.1 .1 .7 .5-1.1 .3 1 .1-.7 .2 0 .1 .8 .4-.5 .2 1.6 .3-2.2 .2 1.6 .4-1 .2 1.8 .2 .5 .4-.8 0 0 .4 1.2 .2-.6 .3-1 .2 .5 .2-1.1 .2 1.7 .5-2.1 .2-.3 .2-1.1 .4-.6 .1 1.1 .2-1.3 .2-.9 .2 .2 .3-.7 .2-.6 .1-1.5 .8 2.2 .1-.9 .2-.1 .3 1.5 .1-.6 .2 1.5 .2-.6 .3 2.2 .2 .4 .5 1.3 .2 1.3 .2 .5 .3-.8 .2 1 .3 .1 .1 .6 .3 2.8 .2-2.4 .2 .5 .5-1.2 0 .9 .2-.7 .7 1.2 .1-.8 0-.3 .5 1.3 .1-1 .4 1.4 .1-.5 .4 1.7 .3-.8 .2 .4 .2-.1 .1 .6 .3-1.7 .3 1.5 .4-.1 0 .5 .2-.8 .3 1 .3-1.1 .2 .9 .3 .7 .1-1.8 .3 .4 .2 1.9 .4-1.5 .3 .6 .5 .7 .1 .7 .2-1.1 .2 2.2 .4-1 .1-1.1 .3-.6 .1 .6 .3 .5 .3-2.1 .4 .8 0-1 .5 .6 .2-.9 .1-.1 .3-1.5 .2 .1 .3 1.5 .2-.1 .3 .7 .1-2 .3 1.1 .3-.2 .3 1.1 .4-.9 .1-.2 .3 0 .1 .9 .3-.4 .2-1 .3-.3 .2 .5 .4-1.3 .1 1.9 .3 .7 .2-1.7 .3 2.2 .4-1.7 0 1 .2-2.3 .4 3 .3-1 .1 .1 .3 1.3 .6 .6 .1-.8 .2 .9 .2-1.5 .3 0 .2 1 .2 .5 .2 .7 .3 .4 .1-.8 .5-.3 .3 2.4 .4 .4 .1-1.2 .2 2.1 .2-1.6 .2 .9 .4-1 .4 2.1 .1-1.5 .1-.2 .3 1.4 .4-.8 .2 1.8 .2-.8 .2-1 .2 1.8 .3-1.7 .2 .4 .2 2.3 .2-.5 .3-1.2 .2 .7 .4 1 .1 0 .2 1.7 .3 .5 .5-1.1 0 .1 .3-.6 .5 1.7 .2-1.4 .2 0 .2 2.6 .3-.9 .1-.8 .5 .2 .1 .7 .2-.7 .1-.7 .3-.8 .3 2.1 .2-1.4 .1 .7 .4 .2 .4 1.6 .1-.3 .4-.8 .1 0 .4-1.3 .5 .2 .1-.8 0 .8 .3-.3 .2 .3 .5-1 .2 .6 .2-2.3 .4 0 .1 .9 .2 0 .2-1 .3 1.3 .1-.7 .3 1.1 .4-1.3 .1 .8 .2-1.6 .3 .4 .3 1.3 .3-.8 .3-1.3 .2 .6 .3 1.5 .3-.6 .2-2.1 .3 .1 0-1.2 .4 .6 .2 .7 .3-.3 .2 .9 .3 .2 .2-1.9 .3 0 .1 .5 .5 .9 0-.9 .7-.8 .1 1.3 .3-.1 .1-.6 .4 .1 .2 .7 0 .1 .3 .6 .4-.7 .2-1.3 .4-.1 0 .6 .4-1.5 .1 1.5 .3-1 .2 1.8 .3-.7 .2 1.2 .2-1.2 .2 1.1 .4-.8 .4 .7 .3-1.2 .1 1.8 .4-2.8 .1 2 .4 0 .2-.6 0 .7 .4-1.5 .3 .1 .2 .9 .3 0 .1-1.1 .3 .2 .2 1.4 .2 .2 .3-1.2 .3 1.4 .3-1.1 .2-.4 .1 .5 .3 .4 .4-.7 .2 .6 .3-2.3 .1 3.4 .1-2.2 .4 1.2 .5-.9 .3-.3 .1 1.6 .3-.2 .2-1.5 .3-.1 .2 1.7 .4 .7 0-.9 .4 .3 .1-.7 .3 .9 .3 1.3 .2-.2 .3-1 .1 .8 .5 1.1 0-.3 .3-1.5 .3-.1 .2 .9 .4 .4 .3-1.4 .2 .5 .2-.4 .3 .3 .1-1.1 .3 .4 .2-1.1 .2 .6 .2 .8 .4 .5 .3-.7 .1-.7 .5 2 .2-.9 .3 1.6 .1-.1 .3-1.5 .2-1.2 .3 1.6 .1 .2 .5 1 .3-.7 .1 1.2 .2-1.3 .3 1.2 .2 .1 .1-.6 .4 1 .1 .6 .3-.7 .5 1.7 0-1.3 .1-.7 .5 .4 .1-.6 .4 1.1 .3-1.8 .1 .7 .5-1 .3-.7 .1 1 .1-.4 .4 .7 .3 .1 .2 1.2 .3 .3 .2-1.1 .2 0 .1-1.1 .3 .3 .3 1.9 .2 .3 .1-1.3 .4-.5 .4-1.2 .1 .4 .2 1.4 .7-.8 0 .8 .2 .6 .2-1.1 .6 .8 .1 .4 .3-.8 .1 1.4 .3 .7 .1-.6 .4-.2 .1 .4 .2-1 .1 .7 .5-.6 .4-1.1 0 1.3 .4-1.4 .1 .8 .4 .4 .2 1.1 .2-2.5 .3 1.2 .4 .9 0-.5 .4-.7 .4-.9 .1 2.5 .3 .3 .1-1.6 .5-.3 .1 1.1 .2 .1 .2-1.8 .3 .9 .4-.7 .4 .8 .1-.8 .1 .4 .1 1 .3 .3 .3-1.1 .5-.7 .1 .8 .4-.5 .1 1.8 .1-.3 .4-2.2 .3 1.2 0 1.3 .4-1.7 .1 .6 .4 .8 .1-1.8 .5 .4 .3 .6 .1-1.2 .1 1.3 .7-.2 .1-.8 0 .5 .4 1.2 .2-.6 0 .7 .7-1.1 .1 .6 .3 .5 .2-1.4 .4 1.5 .2-1.8 .1 .7 .2 1.8 .3-.4 .1-1 .4 1 .1-1 .4 .1 .1 1.4 .3-.2 .2 .5"/><path stroke="#ffa500" d="M85.3 159.8l.1 4.4 .3 2 0-6.1 .5-9.2 .2 16 .2-6.7 .2 6.4 .3 3.1 .2-9.5 .4 4.2 .2-8.8 .2 9.3 .1-10.4 .5 10.2 .3-6.3 .1-.7 .2-8.7 .3 1.2 .4-15.1 .2-1.1 .3-4.6 .2-.7 .1 6 .3 6.4 .3-9.1 .2 .7 .1 6.9 .3-4.9 .1 5.1 .4-12 .3 12.8 .4 5.8 .3-9.3 .4-2.2 .1 11 .1-10.9 .4 14.8 0 5.8 .1-15.9 .4 8.5 .4 7 .4 .1 .1 2.9 .3-2.2 .1 9.6 .3 2.8 .3 4.8 .3 6.1 .1-7.5 .3-3.8 .4 7.6 0 7.1 .2-12.6 .4 2.6 .1 9.6 .4-7 .4 11.4 .3-.5 .2-8.1 .3 8.7 .2-7.7 .3 .3 .2 8.1 .3-2.8 .1 7.3 .3-3.5 .1-14.3 .3 9.2 .2-7.7 .4 14.2 .1-10.6 .4-5.9 .3 7.4 0 7.5 .5-15.7 0-2.1 .5 21.6 .1 8.6 .2-9.4 .2-2.8 .4 26.3 .5-15.6 0 17.5 .4-4.5 .1 3.3 .4-8.4 0 3.9 .4 4.2 0 12.1 .4-15.5 .2 13.5 .2-3.1 .5 20 0-3.2 .5-5.2 .1 1 .3-9 .4-4.9 .2 12.8 .1-11.7 .4 11.1 .1-.4 .3 6.1 .1-3.1 .5-15.5 .3 16.1 .1-10.8 .3 10.9 .1-8.5 .4-1.7 .1 3.4 .5-13.4 .2 13.6 .1-2.3 .2 5.5 .2-6.4 .1 7.6 .5-6.9 .4 11.4 .1 3.6 .2-8.3 .2 5 .5 10.1 0-2.7 .5-11.7 .3 10.3 .1-12.4 .4 10.1 0-8.5 .4 2.5 .1 6 .3 .9 .1-9 .5 8.1 .3-10.6 .1 12.8 .4-15 .4 3.4 0-10.6 .2 13.3 .3-11.6 .5-4.2 0 10.3 .5 4.5 0-7.1 .1 2 .4 8 .3 3.9 .2 10.1 .3 10.4 .1-18.5 .3 9.5 .1-7.9 .3 6.2 .5 12.7 .1-6.8 .3 13.1 .1-2.7 .5 18.2 0 .3 .4 8.5 .5 1.5 0-5.6 .4 7.5 .1-5.4 .5 .5 .1 11.9 .2 9.5 0-14.1 .5 5.8 .1 12.1 .4-2.6 .1 2.9 .2 4.7 .2 12.3 .3-4.6 .1-15.8 .6 5.4 .2 15.2 .2-.6 .3 14.4 .1-5.3 .5 9.8 .3-4.8 .2 10.6 0 9.1 .4-7 .3 .7 .1-10.7 .4 7.4 .1 6.4 .3-1.1 .1-3.6 .4 3.8 .1-3.3 .3-2.1 .3 2.4 .2-3.5 .4-11.4 .3 1.3 .3 6.9 .2-2.8 .2-8.8 .1-1.7 .3-6.8 .2 1.3 .1-13.6 .6-14.4 .1 13.3 .4-5.6 .2 12.1 .3-2.5 .1-15.9 .3-1.6 .2 6.9 .3 4.6 .2 4.4 .4-11.4 .3 20.7 .2-9.9 .2 2.8 .2-1.8 .3 11.4 .2-6.7 .4 9.6 0-3.2 .3-8.5 .2-6.7 .3 14.8 .6-2.7 .1-11 .3 6.6 .1-16.9 .2 16.6 .3 8.1 .3 3.9 .1 5.9 .3-2.7 .4 12.1 .1-2.6 .1 21.4 .4-12.3 .1 4 .4-2.2 .4 11 0-4.5 .4 8.1 .2-2.3 .2 6.6 .2-4.4 .5 14.7 .3-6 .1 10.7 .2 9.3 .3-15.2 .2 1.7 .2 8.1 .3-2.7 .2-14.3 .3 8.2 .3-10.3 .3 9.1 .3-.9 0 10.4 .5-19.5 .1-3.9 .3 7.6 .5 3.1 .1-10.6 .2-7.1 .2 9.5 .5-24.7 0 11.4 .3-18.5 .2 9.9 .3 3 .2-10.3 .2 9.9 .1-7 .4 10.9 .2-6.8 .4 .7 .3 9.7 .4-.2 0-5.6 .5 16.7 .1-18.2 .1 17.6 .3 6.6 .4 .9 .1 9.2 .3-5.4 .3 6 .2-6.4 .2 6.7 .3 4.9 .1-5.3 .3 4.4 .2 4.1 .2-.1 .5 8.1 .1 5 .1-20.6 .4 3.3 .1 6.4 .3-.5 .5 15.7 .1-5.5 .2 7.2 .2-12.9 .5 9.1 0 5.4 .5-9.4 .2 5.4 .1-16.7 .4 3.8 .1-5.1 .4 11.1 .2-12.7 .2 8 .1-13.4 .5 4.6 .3-14 .1 8.7 .1-7.8 .5-1.9 .2 17.5 .2-8.5 .4-9.9 0 .4 .4 15.1 .1-19.4 .3 6.8 .2 1.5 .4-14.8 .3 22.6 .1-9 .4 6.8 .2-7.9 .2 7.8 .2 5.6 .3 6.3 .2-8.1 .4 6.4 .2-8.5 .1 1.3 .1 3.5 .4-1 .5-5 .1 17.3 .3-18.3 .2 11.8 .2-10.7 .2 3.7 .5 12.5 .2 3 .1-7.3 .4 8.3 .2 3.4 .3-5.6 0-11.5 .3 5.5 .2-7 .5 11.4 .1-12.4 .3-.9 .4-12.2 .1-8.5 .3 13 .1-3.8 .4 16.8 .4 6.1 .1-12.4 .3 8.8 .1-7.3 .5-4.3 .2 9.3 .2-3.1 .2-7.4 .2-4.8 .2-6.6 .3 5.8 .2 11 .3 2.5 .4-15.7 .1 9.8 .4-8.2 .1 1.5 0 5.3 .7-15.8 .2 15.7 .3-22.4 .1 4.8 .2-6.2 .2 10.3 .4-7.8 .2-9.6 .3-.6 0-9 .4 1.6 .3-11 .2-7.8 .2-13.2 .4-4.9 .1 6.7 .3-12 .2 10.6 .2-13.2 .5-4.5 .2 3.1 .3-15.2 .1-1.6 .3 12.8 .4-3.4 .2-9.3 .2 11 .2-12.1 .3-5.2 .1-10.5 .3 8.2 .2 6 .3 .7 .1-8.1 .4 2.8 .1-5 .6 7.3 .2-4.7 .4 .2 .1-5.3 .1 1.7 .1 9.5 .4-4.9 .4-5.1 0 8 .4-8.4 .2 2.5 .3-11.1 .4 3.9 0 2.7 .4-1.2 .1 7.1 .4-6.6 .2-8.9 .2-6.6 .2 8.6 .3 3.9 .4-7.7 .1 6.2 .3-8 .2-1.2 .4-18.9 .2-.8 .2 6.2 .2-1.1 .3-9.7 .1-10.5 .4 13 .5-.6 0-12.7 .4-2.2 .1 8.6 .3-.2 .1-9 .3-.2 .2-9.9 .3 .6 .2-7.7 .4 2.7 .3-24.1 .2-2.2 .3 13.5 .2 4.4 .2-5.3 .4-6.1 .2 10.8 0 .2 .5 7 .1 4.5 .3-6.2 .4-3.3 .2 15.2 .2-3.3 .2 7.4 .2-6.3 .3 8.5 .3-6.4 .1 10.6 .2-5.9 .3 11.9 .3-4.7 .1 12.1 .4-.8 .4 21.2 .1 1.9 .3-4.7 .2-.7 .3-7.7 .1 12 .5 9.3 0 7.1 .4-8.8 .3 2.1 .2 9.3 .4-.9 0-6.3 .4-2.8 .2 5 .1 .4 .1 9 .4-2 .3-10 .3 0 .4 27.6 .4 2.8 0 6.9 .2-3.9 .2-9 .2 8.1 .4-7.9 .3 15.5 .2-16.2 .1 13.5 .3-9.4 .4-5.8 .2 15.9 .3 4.6 .1-10.7 .3 3.2 .2 5.4 .3-7.6 .2-11.7 .2 6.7 .4-13.7 .2 2.5 .1 5.7 .4-7.3 .2 6 .2-2.3 .4 12.2 .2-7.4 .4 8.4 .2 3.1 .3-15.3 .2-.5 .2 6.6 .4 2.6 .1 5.5 .3 2.8 .1-12.4 .4 3.5 .1-10 .2 12.6 .1-9 .5 1.1 .1 10.2 .7 7.7 .1-8.9 .1-1.3 0 4.1 .5-6.9 .2 10 .2-1 .3 7.1 .4-1.3 .1 8.4 .4-.3 .1 4.9 .4-5.5 .2 14.7 .3-14 .1 8.1 .2 8.6 .1-13.1 .6 .7 .3 6.8 .1-3.1 .4 14.1 .1-2 .4-8.6 0 3.1 .1-6.3 .7-.5 .2 8.3 0-.1 .4-9.8 .4 3.2 .1-15.3 .3 7 .2-10.7 .2-4.3 .2 11.6 .4-2.7 0-8.3 .4 .7 .4-15 .1-.2 .3 10.5 .5-7.8 .1-12.1 .1 2.9 .3-14.8 .2 11.9 .3-9.1 .1 2.3 .4-8.7 .4 2 .1 2.9 .2-5 .2 11.5 .3-2.6 .3-6.7 .3-2.7 .1-5.4 .3 4.3 .1 10.4 .4-10.7 .3 7.3 .3 7.5 .2-6.7 .2-6 .3 11.7 .4 1.3 .2-13.9 .1 5.1 .3-9.5 .3-2.9 .2 7.3 .3-3.3 0 6.9 .5 3.8 .2-6.8 .2 10.7 .1-13.8 .4 1.7 .4 10 .1-12.1 0 7.4 .5 2.1 .4-12.5 0-2 .4 14 .2 3 .3-6.9 .2-7.3 .4 14.2 .2-.9 .3 11.5 .2 2.4 .2-15.6 .4 13 .1 16 .3-12.7 .1 14.9 .3-7.9 .2 12.4 .3 6.5 .2-8.2 .4-2.7 .3-6.7 .1-3.4 .3 4.4 .2-1 .3-14.1 .1 7.4 .4-14.7 .2 5.7 .2 6.6 .4-11.2 .3 13.8 .2-2.9 0 9.6 .4 1.2 .3-12 .3-6.4 .1 10.2 .3-9.1 .4 8.9 .2-4.8 .2-7.4 .1-2.7 .2 6 .3-5.5 .1-11.1 .4-3 .4 9.1 .2-5 .3-5.8 .1 8.9 .4-12 .3 8.6 .2-13.7 .2 10 .1-10.2 .4-.1 .3 4.1 .1-2.5 .3 13.3 .3 1.2 .2-14.6 .3-1.7 .1 6.3 .5-8.2 .2 19.3 .1-2 .3 8.4 .2-4.7 .5 7.3 0-4.7 .4 10.2 .4-3.4 .1 5.8 .3-14.4 .2 16.3 .2 8.7 .3-11.9 .2-3.2 .1 21.1 .3-13.5 .2 9.2 .3-2.2 .2-11.3 .3 5.2 .5-7.7 0 13.8 .5-12.4 .1 3.3 .4-8.2 .1-2.1 .3 14.8 .4 3.8 .2-8.7 .3 7.3 .1-8.4 .2 6.1 .1 8.6 .4 .7 .2-6.7 .5-4.2 .2 5.5 .3-5.4 .2 8.1 0-3.6 .4 8.2 .1 3.8 .5-13.4 .1 4.7 .4 8.8 .4 .4 .1-13.7 .3-9.3 .1 11.3 .4-5.5 .1 12.6 .3-6.5 .2 7 .3 5.8 .2-8.3 .2 7.8 .1-8 .4 9.5 .1-8.2 .5 4.9 .3 7.3 .1-7.4 .4 13.5 .1 .5 .4-12.8 0-5.6 .5 11.4 .3 3.5 .2-8.7 .3 10.5 .1-18.4 .5 16.6 0-9 .4 3.8 .1 9 .2-1.8 .2-14 .4 .1 .1 8.1 .3-5 0-7 .5 16.7 .3-12.8 .2 7 .4-17.6 .1 2 .3 7.4 .1-4.8 .3 10.6 .4-6.1 .3 8.1 .2-3.7 .2 12.5 .4-5.8 .1-12.9 .2 6.5 .2 21.7 .3-7.3 .2-14.2 .3 14.2 .1-15.6 .3 5.7 .4 6.7 .2-.6 .3-11.1 .4 5.7 .1 5.2 .2-5.4 .3 7.7 .4-15.1 .1 9.2 .1-2.8 .5 8.8 .2 3.4 .1-6.3 .4 2.3 .2 6.6 .3 6.7 .1-10 .3-.4 .4-6.8 .1-.3 .3 16.8 .1 5.2 .2 14 .3-2.3 .5 14.5 .1-.8 .3 9 .1-4.7 .5 19.9 .2 22.9 .2-16.5 .3-.3 .2 6 .4-7.6 .1-9.1 .2 5.4 .1-9 .4 4.2 .1-7.5 .3 .1 .5 17 .2-20.4 .3 6 0-.8 .4-10.6 .2 19 .4-21.6 .3 7.2 .2-10.4 .2-1.1 .2-6.9 .1-2 .3 12.9 .4-3.7 .1 10.1 .3-2.9 .2-21.8 .3 3.1 .2 17.9 .2-3.6 .5-12 0 5.9 .4-10.1 .3 7.5 .3-16.6 .2-.3 .2 11.6 .1-7.3 .1 4.1 .5 3.8 .2-7.2 .2 9.4 .5-16.3 .2-2 .2 11.5 .4 4 .1-9.9 .3 13.1 .1-8.6 .2 2.3 .1 7.1 .5-9.2 .4-11 .2 7.3 .3-14.3 0 2.4 .2-16.5 .6 .8 .1 6.7 .4-1.2 0 8.2 .2-4.8 .4-14.7 .4 1.4 .2-6 .2-1.8 .2 11.2 .2-.6 .2 2.6 .4 5.9 .1-13.9 .4 10.5 .3-5.9 0-.8 .5-9.3 .1 6.5 .1 4.5 .6-19.3 .1 12.4 .5-6.2 0 13.4 .4-8.9 .1 7.3 .1-1.3 .5-5.1 .4 .1 0-11.1 .4-2.1 0 9.8 .3-.1 .2 10.1 .2-4.5 .5-11.1 .1-.4 .2 9.5 .2-2.4 .5-8.7 .1 1.7 .1-5.4 .4-.1 .2 8.5 .2 2 .3-13.9 .2 2.8 .4-14.2 .4 4.3 .2 10.1 .2 2.8 .2-20.3 .4 1.1 .1 3.6 .3 2.7 .1-3.5 .3 5 .2-13.6 .2 8.7 .5-9.3 .1 6.2 .3-8.1 .2 4.4 .2-8 .2 4.2 .4-7.9 .2 6 .3-12.9 .1-2.3 .3 20.4 .5-24 .1 7.8 .3-3.8 .1-14.2 .3 1 .2 11.5 .3 5.8 .4-13.1 .1 1.9 .1 5.2 .4 9.4 .4-15 0 1.4 .5 10.8 .1-.5 .3-12.6 .1 8.3 .5 15.2 .3 .3 .1 5.8 .3-7.7 .2-13 .3-4.4 .1 5.4 .4-3.3 .2-4.5 .2-7.5 .2 8.1 .3 9.9 .1-4.2 .3-3.2 .4 8.3 .2 2.3 .3 6.3 .1-8.8 .5 10.3 .4 1.9 0 9.4 .4-.9 .1-11.6 .1 4.4 .3 9.3 .4-6.7 .2 5.6 .4-1 .1 5.4 .4 3.5 0-9.4 .2 7.6 .3-9.7 .3 7.2 .1-16 .3 1.3 .4 11.2 .1-2.6 .4 5.9 .2 1.3 .3-9.6 .1 .5 .3 13.2 .4 .7 .2-7.1 .4 13.6 .1-11.7 .3 7.7 .2 11.3 .2 2.4 .2-10.7 .3 2.2 .2-6.9 .3 4.8 .1 6.4 .4-5.2 .1 9.6 .5-11.1 .2 9.9 .4 9.5 .2-6.7 0 4.8 .4 9.5 .3-2.6 .2 5.4 .1-7.5 .2 8.2 .5 5.9 .2 18.3 .2-4.3 .2 10.2 .3-4.4 .2 10.5 .2 1.2 .2 4.2 .3-.6 .2-7.6 .4 11.9 .3-9.2 .2-2.5 .2 11.7 .2-10.3 .4 7.7 .1-6.8 .4 11.2 .1-.4 .5 13 .4 6.4 0-8.8 .2 3.1 .3 6.5 .2 2 .2-12.2 .2 1.9 .2-9.3 .4 8.6 .2 4.8 .4 4.6 0-10.2 .3 8.6 .4 10.1 .2-4.9 .2-5.5 .5 2.2 .2-8.5 0 5.3 .4-7.8 .4 7.6 .1 10.5 .2-4.6 .3 10.2 .4-6.4 .1 8.5 .2-1.5 0 14.8 .5-4.1 .1-11.5 .4 1.3 .3-8.9 .2 8.9 0 8.2 .5-13.3 0 13.7 .5-8.7 .4 6.3 .1-8.7 .2 11.5 .2-8.4 .5 22 .2-11.7 .2 10.5 .3 3.2 .2 11.3 .2-2.9 .1 7.8 .4 .8 .2 13.3 .4-13 .3 15 .1 9.9 .3-14 .1 4.1 .4 3.9 .2-5.7 .3 15.1 .4 3.8 .2-9.3 .2-8.4 .3 7.7 .2-4.9 .1 13 .4-13.9 .2 8.2 .3 .7 .2-10 .2-6 .2 8.6 .3-.8 .1-13.4 .3 10.5 .5-16 .1-3.5 .1 14 .3-8.4 .4 8.1 .5-11.7 .1 8.6 .4 3.6 0-3.2 .1-.3 .3 6.6 .4-5.6 .2-6 .2 7.5 .3-10.3 .2 2.1 .2 6.3 .5-2.5 .2-9.7 .2 4.1 0-10.4 .4-1.8 .1-17.1 .7 13.1 .1-7.5 .1-7.7 .2 11 .3-.7 .2-7.2 .6 9 .1-9.9 .2 5.4 .1 5.1 .4 1.1 .2-7 .2 2.5 .2 13.2 .3-12.1 .1 9.3 .3-4.4 .5 17.9 .2 1.8 .2 9.7 .2-11.1 .3 8.5 .1 3.4 .5 5.7 .1 2.8 .3-4.9 .2-1.6 .3 11.1 .3 .7 .2 6.1 .3-.9 .1-4.8 .4 3.7 .2 9.8 .2 2.7 .1-5.9 .4 6.8 .4 6.4 .2 5.2 .2-2 .1 1.8 .2 9.5 .3-6.6 .4 13.7 .1-4.2 .3 4.4 .5-.1 0 5.9 .4-2.2 .3-4.8 .2-4.2 .1 6.9 .5 .6 0-2.7 .4 5.8 .1-4.3 .3 3.8 .2 9.3 .2-6.7 .2-9.8 .3-3.9 .1 9.4 .5-6.5 .3-7.3 .2 13.7 .3-7.8 .2-5.3 .2 10.7 .4-.1 .2-6.4 .4-6 0 8.3 .4 2 .1-4 .5 4.5 .1 3.3 .2 1.5 .2 4.5 .3-5.1 .4 10.3 .1 .4 .4 8.2 .1-6.8 .1-3.7 .3 1.6 .1 4.1 .5-2.2 .4 10.8 .1-.6 .4-6 .2 4.8 .2-8.9 .4 2.6 .1 4.9 .3-3.1 .2 6.6 .3-6.5 .1 4.3 .4-5.2 .3 6.5 .2-2.2 .1 1.8 .3-.8 .4-4.8 .1 1.6 .3-6 .2-.6 .4 11.3 .1-5.9 .2 7.9 .2-.9 .5 9 .2 5.8 .2-5.8 .3 2.9 .1 3.4 .3 0 .1-6 .4-.7 .2 9.6 .3 .3 .4-4.9 .1-3.3 .1 6 .4-2.8 .3-6.8 .2 1.2 .3-4 .1 1.9 .5-10.7 .1 1.9 .3-5.3 .3 4.3 .2-7.5 .3-.9 .1-3.7 .4-.9 .1 3.6 .3 5.3 .2-7.9 .4 6.5 .3-8.4 .1 6.2 .2-2.5 .3 2.8 0 4 .6-1.4 .2-6.5 .2 5.5 .3-6.9 .1 3.1 .4-5.6 .3-.2 .3 5.1 .2 .5 .1-2.3 .3 5.7 .2-9.2 .4-1.8 .1 11.1 .3-1.8 .1-3.4 .4-11 .2 6.7 .2-6.4 .2 8.4 .4-8.1 .3 7.2 .1-7 .3 7.5 .5-4.6 .1 7.6 .4 1.7 .1-6.1 .1 1.4 .2-4.9 .6 .3 .1 12.7 .2-4.4 .2-8.9 .3 .4 .2 10.7 .4 1.4 .3-5.6 .1-.2 .1 6.9 .4 1.7 .4-5.4 0 1.1 .4 9 .2 1.8 .3-6.5 .1-2.6 .5-11.2 .2-2.8 .1-3.3 .4 1.6 .2-6.2 .3 3.4 .2-7 .2 1.4 .1-9.3 .5 8.9 0-4.3 .3 2.3 .5-21.7 0 11 .2-15.1 .3 11.2 .4-11.3 .4 10.2 .2-10 0 5.8 .3-15.2 .2 14.7 .4-11.9 .4-11.5 .1 26.2 .3-11.4 .1 13.2 .3-12.1 .3 10.3 .2 4.3 .2-15 .2 4.2 .5-8.3 .2-2.2 0 6.9 .4 .5 .1 6.7 .4-8.9 .3 7.8 .5-15.3 0 20.5 .1 4.8 .4-11 .4 3.8 .2-11 .3 1 .1 15.7 .2-4.3 .3-15.1 .3-2 .1 6.8 .2 1.8 .3 13.4 .2-.4 .3-10.7 .2-2.7 .2-6.8 .3 3.9 .2-4.8 .4-4.1 .3-10.4 .5 10.8 .1-6.6 0-5.9 .4 10.2 .3-6.2 .1-10.5 .4 5.5 .2 1.9 .2 .6 .3-8.7 .2 4.4 .1 4.9 .4-8 .4 7.3 .1-.5 .4-6.4 .1-.2 .3-11.9 .2-.1 .3 9.6 .1 .2 .4-6.7 .4 8 .1-12 .4 1.7 .2-13.8 .2-3.8 .2 12.2 .2-13.5 .2 8.6 .3-9.1 .1 18.1 .4-12 .4-9 .1-6.6 .2 15 .2-2.1 .1-12.3 .8 .5 .1 8.4 .1-3.8 .4 11.1 .3-4.6 0-10 .2 3.7 .3-2.4 .4-.7 .2 9 .3-7.2 .1 5.9 .3-14.2 .3 22.3 .2-5.9 .1 13.1 .3-20.6 .1 16.1 .5-5.3 .1-13.2 .5 9.1 .2-8.7 .2 7.8 .4-14.4 .4 2.9 .1-8.7 .1 .3 .3-11.6 .4 10.9 0-11.2 .6-.8 0 10.5 .4 5.8 0-8.9 .3-1.3 .1 5.9 .4 .7 .2 8.5 .3-6.4 .2-7.8 .3-1.6 .1-6.9 .3 .6 .4 10.4 .4-16.7 .1 4.1 .1 1 .4-6 .1-6 .5 6.4 .2-.5 .1-10.3 .3 12.9 .2-8.1 .3 .7 .1-2.9 .4-5.4 .1 10.6 .3-6 .2 6.5 .3-3.8 .2-8.9 .7 13.2 0-10.4 .1-4 .3 18.7 .3 8 .4-10.8 .1 9.9 .2-8.5 .2 6 .3-20.2 .4-2.5 .2 9.9 .3-.7 .1-7.6 .3 .3 .2-13.4 .3 5.4 .2 12.5 .3-3.7 .3-7.1 .2 .1 0 10.2 .4-7.4 .4 10.6 .1-5.1 .4-7.8 .2 6.4 .4-10.6 .3 2.9 .2 7.7 .3 8 .1-7.8 .2 2 .2-10.9 .4 7.8 0-8 .3 1.7 .2 8.7 .5-16.3 .3 8.9 0-5.7 .4-16.5 .2 15.6 .3-8.2 .2-9.3 .4 10.8 0-6.6 .3 5.7 .2 4.1 .4-10.5 .1 7.2 .3-6.4 .4 9.7 .2-8.8 .2 8.1 .3-14.4 .2 1 .2-6.7 .3-6.4 .4 8.7 .1 2.5 .3 7 .3-5.8 .3 4.6 .1-9.1 .3 13 .2-6.1 .3 10.2 .1-.7 .5 7.7 0-3.8 .5 12.5 .2 0 .1-7.5 .3 2.4 .2-6.7 .4 4.2 .1-5.5 .4-3.1 .3 12.7 .1-7.9 .4 7 0 8.3 .4-15.6 .1 4.8 .4-10.2 .2-.5 .3 10.5 .4 1.1 .2-7.9 0 1.9 .5 22.9 .3-3.4 .1-13.4 .2 0 .2 6.9 .3-8.7 .2 13.7 .3-8.4 .1 11.4 .4-3.5 .2-17.5 .3 7.9 .3-12 .2 2.5 .3-11.3 .4 5 .2-5.6 0-1.2 .5 13 .3-5.5 .2 7.8 0 1.8 .2 4 .5-9 .2 10 .2 3.8 .3-7.4 .3 1.5 .1 9.4 .3 5.3 .2-5.5 .3 0 .1 7.9 .3-7.3 .1 7.7 .6-2.9 .2-14 .2 7.4 .3-6.2 .1-5.2 .5 9.5 .4 1.2 .1-11.7 .4 6.6 0-10.3 .2-6 .2 14 .4 2.8 .2-8.5 .2-5.4 .2 7.4 .3-7.7 .4 9.6 0 3.9 .5-19.2 .1-1.8 .3 6.9 .1 .1 .4 10.3 .2 1.4 .3-17.1 .2 1.2 .3 10.1 .4 .9 .2 14.6 .2-1.1 0-7.2 .5 7.6 .2 8.6 .3 11.8 .1-7 .3 8.4 .4-3.5 .2 1.3 .2 8.8 .3-3.6 .3 9.2 0-3.4 .1-5.7 .5 1.3 .2 12.5 .3-16.8 .4 13.8 .2 3.7 .1-10.3 .4 13.1 0 5.2 .6-4.6 0 9.7 .3-.9 .1-8.3 .4 4.1 .2 5.2 .2 16 .3-10.3 .3-3.7 .4 26.2 .1 2.2 .3-10.2 .2 6.5 .2 7.6 .5-.1 .1-12.7 .4 7.4 .1 4 .1 3.6 .4 15.1 .4 2.5 .1-10.9 .3 3.4 .2 17.6 .2-.8 .1 9.9 .3-.2 .5 14.7 .1-3.8 .3 12.9 .2 .3 .3 8.6 .1-1.5 .4 5.3 .1 1.4 .3 7.3 .2-5.3 .4 4.8 .4-2.6 .1 6.4 .5 4.4 0-6.2 .3-6.7 .1 4.7 .4-2.3 .1-10.9 .2 9 .1-7.1 .4 .6 .5-9.5 0 7.4 .5-11.5 0 0 .4-12.8 .1-4.7 .1 5.4 .5-2.4 .4-17 0 3.6 .4-6.5 .3 1.2 .1-12.3 .5-1.9 .1 10.6 .2-3.1 .2 7.6 .4-4.1 .1 10.9 .2-9.9 .2 12.8 .3-11.4 .2 5.6 .5-2.6 .3 8.7 .1 3.9 .4-6.3 0 .9 .5-9.7 .3-1.9 .2 12.7 .2 3.2 .3-8.8 .3 7.4 .1-2.9 .3 3.2 .1 6.8 .4-3.6 .1 9.3 .4 .7 .3 9 .1 4.9 0-8.1 .4 7.3 .1 8.1 .4 1.4 .5 9.2 .1-.5 .4 4.7 0-3 .5 10.6 0 .3 .3 1.5 .4 2.1 .3 5.8 .1 4.1 .1 4.2 .4-.2 .3 2.8 .2 2 .2 6.3 .2 3.2 .1 1.5 .4-1.2 .5 3.3 .2-1.2 .3 3.3 0-3 .4 3.6 .1-.8 .3-3.5 .3 .9 .3-5 .1 .9 .5-3 .3-.1 .1-2.1 .2-2.7 .3 3.4 .2-.4 .2 1.6 .2-3.4 .2 2 .4 2.6 .3-5.5 .2 2 .1 1.7 .3-2.6 .4 2.5 .2 .1 .3 2.4 .1-1.4 .3-2.1 .2 .9 .5-2.6 .3 2.9 .1-1 .3-1.3 .1 2.3 .4-1 .1-2.9 .3-.8 .1 2.6 .3-.9 .5-3 0 .9 .4-4.6 .2 1.5 .3-4.7 .2 2.5 .2-8.1 .5 1.1 .2 2 .1 3.4 .3 2.5 .3-.8 .3 7.2 .2 3.3 .2-4.1 .3-1 .2-1.3 .2 .3 .2-4.1 .2 3.3 .5-7.4 .1-.8 .3 4.8 .1 .5 .5 4.9 .2-.7 .2 3.1 .2-3.1 .3 2.9 .1-1.6 .5 4.2 .4 6.7 .1-5.6 .2-1 .2-2.8 .2 0 .2-3.5 .3 .9 .3 3.4 .1-.7 .2 3.6 .4 3.5 0-2.1 .5-.5 .1 2.2 .3-.4 .4 2.4 .1-2.1 .1 3.4 .5-3.5 .3 2.6 .1-1.7 .4-1.7 .3 3.2 .3-6 .4-.7 0 5 .3-5.8 .2 2 .3-2.3 .1-1.7 .3-2.6 .4 4.1 .2 1 .2 2.6 .1 1.8 .2-2.5 .4 1.3 .4 3.6 .1 .3 .3-5 .4 .1 .1 3.6 .4-2.1 0 3.8 .4-5.5 .2-5 .2 .1 .2 2.7 .4-1.1 .1-4 .4 1.3 .1-3.3 .2-1.6 .3-4.8 .2 1.5 .4 9.9 .1-7.4 .5 8.5 .1-4.2 .4 4 0 .6 .3 4.3 .2 .4 .4 4.7 .3 1.7 .2 .8 .4-.8 .1 3.1 .2-.4 .3 2.1 .2 1.3 .1 2.6 .3-1.1 .5-2.9 .1 .4 .4 3.3 .1 .9 .3-2.8 .1-.8 .5 5.8 .1-1.5 .4 1.6 .1-.3 .3 1.6 .4-1.4 .2 3.2 .2 .5 0-1.2 .4-.6 .3 2.8 .3 1.1 .1-2.6 .2-1.8 .3 3.7 .3-.4 .4 2 .1 .3 .1-1.9 .4 1.2 .3 3 .5-1 .1 1.2 .1 .2 .3-.8 .3-.3 .2 1.1 .4-.6 .1-.7 .3-.6 .2 1.3 .2-.3 .2-3.2 .3 .6 .2-3 .3 1 .4-3.5 0-.1 .4-3 .2-.5 .1 3.1 .3 .3 .5-2.6 .4-2 0 2.7 .2-1.5 .2-2.8 .2 .2 .3 1.6 .4-4.3 0 3.4 .5-1.5 .2-2.8 .2-1.1 0-2.5 .6-1.7 .1 3.5 .3 1.7 .2-3.5 .3 1.5 .4 1.4 0 2 .2-3.4 .6 2.1 .1-.9 .1-1.3 .3 2.1 .4 1.1 .3-3.1 .2-.6 .2 3.2 .3 1.6 .1-2 .4 1.6 .2 1.6 .2 1 .2-.9 .2 1 .5 4.7 0 .1 .4 1.9 .2-.1 .3 3.2 .2-.2 .4 1.8 0 1 .4 1.9 .5-2.8 0 1.8 .1 .3 .5 1.6 .2 .6 .1-1.3 .5 .1 .1-.6 .2 1.2 .1 2.5 .4-1.3 .4 2.1 0-.1 .4 2.6 .1 .2 .5 2.1 .4 .7 .1-.7 .1-.7 .3 .7 .2 .5 .3 1.7 .1-1.5 .4 1.7 .3-2.2 .2 .8 .2 .4 .2-2 .3-.3 .2-.7 .3-.1 .1-1.2 .3 .6 .5 .8 0 .2 .5 1.6 0 .3 .4-1 .1 .5 .3-.9 .3-.7 .2 .9 .2 .4 .2-1.1 .5 1 .3-1.7 .2-.1 .2-.9 .3 .9 0-1.5 .6 .3 0 1.2 .3-.1 .1 .7 .4 .7 .3-1.2 .2 .3 .4-1.1 0 .1 .5 1.1 .1-.6 .3-1.7 .4 .7 .2 1 0 .2 .5-1.2 .2-2 .2 .8 .4-.9 .1-1.2 .2 1 .1 1.1 .5 .7 .1-1.2 .4-1.6 .3 1.7 0 1.4 .2-1 .3 .6 .5 1.2 .4 0 .1-.9 0 0 .4 1.7 .4-.9 .1 2 .3-.2 .2-2.9 .4-.4 .1 1.2 .2 .1 .1-1.1 .4 .7 .2 1.3 .2-.8 .5 2 0-1 .2 1.3 .5-1.3 .2 1.4 .2-.7 .4 2.1 0-1.1 .3-1.1 .3 .1 .2 .6 .2 .4 .4-2.4 .3-.4 .2 1.6 .2-.8 .2-.3 .3 1.1 0-.8 .5 .6 .1-1.1 .4 1.3 .1-.9 .5 .6 .3-1.3 .1 .2 .3 .7 .2-.5 .2-.9 .2 .3 .5 2.1 .3-1.5 .1-1.1 .4 .2 .1-.4 .3 1.8 .2-.7 .3 .4 .2 1.1 .4 .2 0-.3 .2 .2 .3-.9 .4 1.2 .3 .5 .1-.6 .3-1 .1 0 .5 1.5 .1-.4 .4-.9 .1 0 .3 1.1 .1-.9 .4-.6 .3-.9 .1 1.1 .3-.2 .3-1.5 .2 .6 .2-1 .4 1.2 .1-.7 .3 .8 .3-1 .1 .5 .5 1.8 .2-1 .3 1.5 .1-.5 .2-1.1 .5-.4 .2 1.4 0-.3 .5 .9 .2-.3 .2 .8 .3-.5 .1 1.5 .4-.6 .1-.9 .3 1.2 .2-.8 .2-.4 .3 2 .4-1.5 .3-1.7 .4 .3 0 .5 .1 0 .3-1.8 .2 .1 .5-2.1 0 .5 .4-1.2 .1 .6 .5-.6 .2-.5 .2 1.1 .3 .8 0-.7 .4 .1 .2-1.4 .2 .1 .3 1 .4 .4 .2-1 .1-.9 .2-1 .4 .3 .3-1 .2 1 .2-.7 .3 .9 .3-1.6 .1-.6 .4 1.4 .5-1.8 0 1.7 .2-.1 .2 1.6 .4 1.2 .1-1.6 .2 2.1 .3-1.9 .3-1.3 .1 2.8 .4-1 .4 1.7 0-.1 .4 1.6 .1-.3 .5-.8 .3 .3 .2 1.3 .2-.7 .2-1.3 .4 .6 0-.7 .5 .9 .1-.7 .2-.4 .1-1.5 .4 1.9 .2-.8 .2-.5 .5-2.4 .1 .9 .4-1 .2 1 .3-.9 0 1.3 .2-1.6 .3 0 .5 1.2 .1-.4 .4 1.7 .3-.6 .1 1.1 .3-.1 .2-.3 .2-.2 .2-1.2 .4-.7 .1 1.2 .3-.5 .4-2.6 .1-.1 .4 .5 0 .3 .5-2 .1 2.4 .3-1.7 .2-.1 .4 2.5 0-2.6 .3 2 .5-.5 .1-1.9 .4 1.7 .2 .8 .1-1.3 .3 1.9 .2-.8 .3-1.5 .2 1.7 .1-1.8 .4-.7 .1 1 .3-.2 .1-.7"/><path stroke="#00ff00" d="M85.3 171.7l.2-10.3 .2-1.8 .2 10.3 .2 3 .1-16.8 .4 .5 .1 15.7 .5-7.2 0 6.8 .4-4.9 .3-6.2 .3 9.4 .3-11.5 .4-1.6 .1 2.8 0-3.6 .3-9.6 .2 1.3 .5-8 .2-1 .1-7.9 .4-4.7 .2 16.7 .2-7.3 .2-5.4 .3-.9 .2 8.3 .3-5.5 .1 2.8 .3-4.9 .2 7.7 .4 3.6 .4-6.2 .2-7.4 .2 6.5 .2-.6 .4 17 .1-13.2 .2 14.9 .4-7.2 .3 9.2 .3 1.9 .2-6.4 .3-1.8 .1 14.1 .3-2.1 0 10.7 .4 1 .1-4.3 .4-3.4 .4 6.4 .2-6.3 .3 14.2 .1 1.3 .3-13.8 .4 7.4 .1-6.3 .5 .8 .1 14.8 .3-3.5 .2-6.3 .3 2.9 0-7.9 .4 6.9 .1-10.2 .4 11.8 .1-8.9 .3 3.1 .1-5.5 .3 2.8 .2 10.6 .4-18 .4 6.7 .1 9.7 .4-17.8 0 1.4 .4 17.8 .2 5.6 .4-8.5 0 3 .5 22.8 .3-4.2 .1 5.5 .3 2.8 .1-4.1 .5-.9 .1-5.3 .3 19 .2-13.6 .3 2.5 .1 12.9 .2-3.8 .1 15.2 .4 2.5 .2-16.7 .4 14 .3-25 .2 12.9 .4 8.3 .4-13.8 .1 13.6 .3-7.2 .1 7.6 .1-1.3 .3-8.1 .4 5.4 .1 4.2 .4-9.8 .1 8.6 .3-.5 .1-8.3 .4 .6 .1-11.9 .5 5.1 .2 13 .2-16.8 .1 20.1 .4-18.3 .4 16 .1 1.3 .2-6.1 .5 6 .2 5.5 0 .1 .5-12.5 .3 6.7 .1-23.6 .4 22.3 0 8.2 .4-6.6 .2 5.1 .2-1.7 .1-15.7 .4 4.4 .1 7.1 .5 2.8 .3-10.4 .1-6.4 .3 6.1 .2 2.2 .2-8.1 .2 3.7 .5-10 .2 1.9 .2 11.1 .3 .4 .1-5.6 .4 3.2 .2 13.4 .2 7.2 .1-5.9 .4 17 .2-16.5 .2 4.6 .3 15 .2-12.7 .2 11.1 .3-.3 .5 18.6 .2 3.8 .3-5.8 .1 5.9 .2-14.4 .6 15.7 .1 14.1 .3-11.7 .2 9.3 .2-6 .2 16.3 .3-6.6 .2 8.7 .3-2.5 .2 7.9 .3-1.9 0 4.5 .3 1.2 .5-11.2 .2 7 0 8.8 .3 4.4 .4 8.7 .2-3.9 .3 8.9 .1-5.3 .5 13.5 .2 6.1 .2-13.7 .4 6.1 0-9.2 .4 2.3 .1 9.1 .3 2.2 .1-6.8 .4-6.2 .2 11.5 .2-3.6 .3-8.6 .2 5.4 .4-13.9 .3 .3 .2 9.8 .1-7.7 .4-5.7 .4-12.3 .1 7.6 .1-6.1 .3-7.4 .2-6.4 .3 7.5 .4-6.9 .1 7.1 .3 1.6 .2-10.1 .3-6.2 .1 12.5 .5 1.5 .3-5.7 .2 0 .1-4.7 .2 3.9 .5 17.8 0-13.3 .4 12.6 .2 3.9 .2-6.6 .2 2 .3-5.8 .2-4.4 .3 12.3 .5-12.4 .2 11.1 .3-2.5 .1-7.3 .3 8.3 0-2.7 .4 18.7 .1-6.2 .4 2.5 .4 15 .1-.8 .4 10.8 .1-5.9 .4 3.3 .1-5.1 .3 6.2 .1 .7 .5 10.6 .3 9.4 .2-10.2 0 7.3 .4 8.6 .4-8.4 .1 15.3 .4 .6 .1-16.6 .3 19.7 .1-9.2 .2-1.6 .5-14.7 .2 1.6 .2 3.8 .2 1 .1 3.7 .4 3.2 .4-15.2 .1-3.1 .3 12.6 .2-11.7 .2 12.7 .2-9.7 .4-6.9 .4 .6 .1-12.3 .2-4.6 .1-4.9 .6 16.1 .1-11.3 .2 1.2 .2-5.9 .5-3.7 .2 12 0-4 .5 15 .1-13.3 .3 9.1 .1-.4 .4 18.4 .1-5.9 .4 5.7 .5 7.5 0-8.6 .3 16.6 .2-8.5 .3 6.7 .1-10.8 .3 1.9 .1 5.1 .6 3.5 0 9.8 .4 .4 .1 6 .3 9.7 .1-20.6 .3 0 .2 15.4 .4-4 .4 9.5 .1-3 .3 6.1 .5-10.9 .1 9 0 1.8 .5-12.8 .2 5.7 .2-10.4 .3-.4 .1-5.1 .4 7.6 .2-7.2 .2 2.6 .2-19.2 .5 12.4 .2-6.3 .1 8.8 .4-14.8 .1 2.1 0 14.5 .8-1.3 .1-6.1 .1 3.2 .3-5.6 .1-2.4 .3 5.2 .5-4.2 .2-7.6 .2 18.1 .2-8.7 .3 18.2 .2-14.4 .2 .3 .2 9.8 .3 4.6 .4-8.1 0 5.5 .4-2.4 .1 2.5 .1-4.3 .5 5.5 .4-7 .3 10.6 .1-10.8 .4 2.9 .1 7.2 .1-4.8 .4 9.1 .3-2.2 .2 7.3 .3-4.9 .1 15.1 .3-6.5 .1-12.3 .3 1.7 .2 5.2 .4-6.1 .4-7.4 .2 3.1 .3-9.9 .1-4.5 .3 12.4 .1-11.4 .3 10.5 .5 7.5 .2-4 .2 11.6 .2-12 .1 10.9 .3-10.7 .4-2 .1-10.6 .3 .9 .2-7 .3 4.6 .2 19.9 .3-11.4 .1-12.7 .5 14.2 .3-10.4 .4-1.4 .1 7.6 .2-2.6 .1-12.3 .6-16.8 .1 20 .4-6.4 .1 2.8 0-3.4 .3-20.8 .4 16 .2-9.8 .2-1.3 .3-27.2 .2 2 .2-12.9 .4 1.8 .3-6.7 .1-.2 0 4.4 .4-10.2 .5-12.6 0 14 .1-12.4 .5 .8 .4 7.8 0-10.9 .3 7 .5-2.1 .2-11.2 .2 4.8 .1-24.9 .5 23.4 .1-7.7 .3 7.5 .2-10.2 .4-1.3 0 6.3 .2-1.2 .1 4.9 .4-7.3 .4 9.7 .2-1.9 .4-15.3 .1 8.8 .4 6.1 .1 2.1 .2-17.6 .3 10.7 .3-12.9 .3 .9 .3 4 .3 3.5 .1-4.6 .4 5.5 .1-11.8 .3-3 .1 5 .3 3.2 .1-8.9 .4 4.9 .3-5.1 .1-4 .2-15.1 .7 11.3 0-12.9 .2 5.3 .3-11.8 .2-4.1 .4 10.2 0-1.1 .4-12.9 .4 18.2 .1-15.5 .2-7 .2 7.5 .4-7.6 0-9.1 .4-.3 .2-9.7 .3 4 .4-7.1 .2-6.8 .3 9.9 .2 10.1 .2-10.7 .1-2.4 .1 5.9 .7-5.4 .2 21.7 .3-5 .1-7.2 .4-8.4 .2 13.4 .2 4.8 .2 8.7 .3-6.9 .2 9.5 .2-2.8 0-4 .4 14.2 .1-7.8 .5 3.7 .3 7.7 .2-1.6 .4 24.7 .1 11.5 .3-11.2 .2-.9 .3-12.3 .1 12.9 .5 11.4 .4-9.1 .1 10.1 .3-3.9 .1 11.6 .2-2.1 .2-8.9 .4-5.3 .2 10.6 .1-.6 .3 7.3 .3 1.8 .2-15.6 .3 6.7 .4 26.4 .2-4.8 .2 10.2 .1-12.9 .1 11.6 .8-1.3 .1 9.6 .2 5.3 .2-13.3 .3 8 .2-5 .3-6.6 .2 17.6 .2 5.2 .3-22.2 .2-2.9 .2 16.7 .2-11.1 .5-11.4 0 8.4 .2-10.6 .7 6.4 .1-14.3 .2 .3 .1 10.8 .3 2.4 .2 6.5 .5 7.3 .1-7.5 .1 3.8 .3-12.5 .4 .2 .2 17.8 .2-2.4 .2-7 .4 9.1 .1-12.7 .3-8.2 .1 13.3 .4-2.1 0-8.5 .5 7.5 .3 16.7 .1-7.4 .4-9.2 .2 2.5 .4 15.3 .1-10.3 .2 10.4 .2-16.6 .4 21.2 .3-1 .1-4.5 .5 4.8 0 9.4 .4-2 .2 9.1 .2-8.7 .2-4.7 .4 4 .3 5.2 .1-6.8 .3 12.5 .2-4 .1 17.1 .3-6.5 .5-11 0 3.3 .3-15.4 .5 7.5 .2 12.8 .2-12.2 .1 9.2 .5-9 .1-10.2 .3 10.1 .2-14.2 .3 1.9 .1-7.5 .3 14.8 .4-11.8 .1 .3 .4-13.5 .4 6.1 .1-10.5 0 1.6 .4-10.8 .4 1.6 .1-7.5 .4 6.6 .2-13.4 0 7.4 .2-7 .5 4.4 .2-10.3 .3 5.5 .1 12.2 .4-17.2 .1 6 .3-1.5 .2-8.7 .3-.9 .4 14.8 0-2 .4-6.8 .2 7.1 .1 3.4 .4-5.3 .3 6.2 .1 3.1 .5-7.9 .1 2.2 .3-12.6 .3 7.6 .2-21.4 .3 21.1 .2-10.2 .3 18.4 .2-10.1 .3 3.6 .1 6.2 .2-2.9 .1-12.7 .5 5.1 .2 5.2 .2-12.8 .1 11.3 .4-6.7 .4 17.9 .2-3.2 .3-18.2 .2 6.1 .4 4.8 .2-.9 .2 19.1 .3-1.8 .2-4.2 .4 5.2 .1 7.9 .3-5 .1 16.6 .3-13.8 .2 13.2 .3 4.6 .1-3.6 .3-7.2 .5 6.8 .1-6.8 .1-12 .3-7.6 .1 15.4 .4-8.1 .5-13.5 .3-1.2 .1 9.9 .3-11.2 .1 11.1 .4 1.9 .2-5.9 .3 13.7 .2-11.6 .3-6.6 .1 10.2 .2-4.5 .5 7.2 0-4.1 .4-7.2 .2 2.7 .3-10.6 .1 5.9 .4-6.7 .4-6.6 .1 4.6 .4-13.2 .2 13.7 .3 7.2 .2-10.5 .2 4.5 .2-18.3 .2 7.1 .2-6.3 .4 5.2 0-3.4 .3-2.7 .3 12.4 .3 4.8 .2-13 .4 3.9 .3-9.7 .1 6.9 .3 14.2 .2-8.8 .2 7 .2-1.6 .4 13.6 .4-1.5 .1-8.9 .5 10.8 .1 4.9 .2-4.7 .2 11.1 .3 10.7 .1-16.9 .3-14.4 .1 20.4 .4 7 .1-7.8 .3 7.1 .2-6.5 .3 1 .1-4.8 .6 7.6 .3-11 0-8.5 .4 12.8 .4-7 .2 6.6 .3 9.4 .2-6 .3 3.8 .1-3.1 .2-1.6 .2 13 .3-1.3 .2-5.7 .4 7.1 .3-8.7 .1 0 .4 9.4 0-9.2 .5 10.8 0 1.7 .2-8.3 .4 3.9 .4 7.9 .1 .9 .4-13 .4-3.9 .1 3.3 .4 11.2 .1-15.9 .1 10.9 .3 8.1 .2-.8 .1 2.5 .5-10 .1 11.3 .3 1.3 .2-8.8 .4 .4 .3 21.5 .1-10.5 .4 7 0 .3 .5-8.5 .1-1.9 .4 5.4 .1-6.6 .2 19.1 .4-15.6 .3-9.3 .2 2.6 .1 7.1 .4 7.8 .1-8.6 .3 .4 .1-9.8 .4 8.5 .4-8.6 .3-5 .1 9.9 .2 2 .1-7.4 .7 4.3 .1-10.2 .1 4.8 .2 4.7 .2-.6 .3 13.5 .2-1.8 .4-8.1 .4 14.1 .1-11 .3 2.7 .1 6.8 .3-9.4 .2 12 .3-4.6 .2-4.3 .3 2.8 .1-11.7 .4 14.6 .3-14.5 .2 9.5 .1 6.8 .6-2.9 .1 6 .1 4.5 .4-8.7 .3-10.3 .2 12.1 .4-2.6 .2 6.5 .2-2 .1-6.6 .4 10.2 .2-8.1 .2 .1 .1 9.3 .4-6.8 .2-10.5 .4 14.1 .2 6 .1 2.1 .4 15.3 .1-2 .5 14.8 .1 .7 .2 7.2 .3-4.1 .4 23.4 0-1.2 .2 14.1 .5-20.3 .1 9.4 .5 2.3 .1-15.8 .2-1.7 .2 7.6 .3-2.7 .2-7.9 .3 1.5 .2 12.8 .2-7.9 .1-6.9 .5 7.1 .3-10.4 .2 14.6 .4-10.1 .3 3.2 .2-13.2 .2-10.9 .1 6.8 .4-5.9 .1 10.6 .4-2.4 .1 11.9 .3-.7 .3-23.6 .2 8.6 .1 12.2 .4-8 .1-8.2 .4 6.9 .1-18.1 .3 4.6 .2-2.2 .3-2.5 .2-8.7 .3 6.4 .4 3.8 .4 2.6 .1-8.6 .1 3.7 .5-7.7 .2 1 .1 10 .3-9.8 .2 12.4 .3-1 .2-11.2 .2 1.4 .3 12.5 .3-4 .2-13 .3 3.1 .4-10.9 .1-6.7 .3-11.3 .1 9.6 .4-9.3 .1 14.5 .1-8.5 .6 12 .2-25.5 .4 5.7 .2-6.7 .2-2.7 .2 13.2 .2 3.8 .1-9.9 .4 6 .2 7.3 .3-5.6 .1 3.5 .5-3.2 .2-13.3 .2 4 .1 6.9 .3-4.9 .2-12.5 .3-.8 .3 10.3 .5-2.5 .1 5.9 .1 1.9 .5-9.5 .4 .5 0-8 .4-2 0 10.7 .3-1.8 .2 13.7 .3-4 .4-8.8 .1 5.8 0-5.9 .4 2.6 .2-14.6 .7 7.2 .1-6 .4 5.5 .1-2.7 .1 8 .2-13.2 .4 .3 .3-11.6 .2-3.5 .3 18.7 .1-7.4 .1-9.5 .6-5.6 .1 8.4 .2 5.7 .2-4.3 .3 12.8 .4-17.5 0 1.5 .5-10.7 .1 3.3 .1 5.7 .4-7.2 .4-7.3 0-1.5 .3-13.7 .3 19.5 .2-7.6 .4 10.7 .3-17.8 .2-2.1 .2 8.9 .2-.8 .2-12.8 .3-1 .2 10 .2 1.9 .5-7.9 .1-.5 .1 6 .5 3.2 .3-7 0-2.4 .5 12.9 .1 2.7 .3-9.6 .1 .7 .5 20.3 .3-11.5 .1 15.5 .3-10.3 .2-9.2 .2 4.2 .1-7.7 .4 .7 .3-9.7 .2-2.4 .2 6 .3 8.6 .1-7.2 .4 .5 .4 10.7 .1 2.8 .3 17.2 .2-7.6 .2-9.9 .3 3.3 .4 16.2 .4-9.6 0-2.3 .1 0 .3 13 .4-5.2 .2 11.6 .2-.6 .2-5.6 .4 8.8 .1-9.2 .4 1.8 .1-11.7 .3 4.1 .1-8.4 .3 1.6 .2 14.1 .3-6.6 .1 9.6 .5-5.5 0-3 .4-8.9 .5 20.5 .3-.1 .1-5 .3 7.3 .2-10.7 .2 4.1 .3 21.3 .3-5 .1-6.2 .2 7 .2-8.1 .3 1.6 .3 10.9 .3-5.8 .1 7.9 .3-11.4 .4 11.8 .2 7.9 0-4 .4-2 .3 13.9 .2-3.5 .4 20.7 .5-10.3 .1-14.4 .2 18.5 .2 10.3 .3-.8 .1 10.9 .3-5.9 .2 7.3 .2-.1 .5-7.3 0-1.7 .2 8.6 .4-3.1 .4 10.6 0-2.1 .2-3.3 .6-11.9 .1 12.8 .1-11.9 .4 21.3 .1 .4 .3 14 .6-1.1 0-5 .4 2.7 .1-3.1 .2 .2 .2-10.2 .2 11.1 .3-13.5 .3 3.9 .4-9 .1 1.8 .3 14.4 .2-2.5 .4 7.8 .1-1.7 .4-8.3 .3 2.1 .1-10.6 .1 5 .4-6.8 .4 14 .1 8.1 .4 3.8 .1-7.7 .4 3.1 .1 7.3 .2-2.7 .2 12.1 .3-2.1 .1-8.3 .5-3 .3 6.1 .1 6.5 .3-13.3 .1 .5 .5 15 .4-6.1 0 3.5 .4 2 .1-11.5 .1 1.7 .5 8.3 .3 3.8 .1 4.9 .2-1.3 .1 11.6 .5 4.2 .1-6.9 .4 7 .1 11.4 .4-6.4 .3 11.6 0 2.8 .2-6.9 .5 4.9 .3-7.5 .1 1.1 .3 10.8 .2-4.4 .2 19.5 .5-17.1 .2-10.1 .2-.8 .2 12.9 .4-12.3 .1 8.2 .3 5.3 .1-10.7 .3-8.1 .1 7.5 .4 1.3 .4-14.2 0 6.9 .4-18.6 .3 2.5 .2 6 .1 1.2 .1 8.1 .4-3.1 .5-8.8 .4 1.2 0 3.6 .4-3.1 .1 7.5 .5-6.8 0 11.5 .3 8.6 .2-17 .3-4.9 .1 4.5 .3 3.4 .1-9.7 .4-5.1 .1 5.9 .4-1 .1-15.8 .3 3.6 .5-9.4 .1-8.1 .2 11.7 .5-.2 .2-9.6 .2 10.5 .3-9.6 .3 2.9 .1 7.7 .2-2.1 .2-10.9 .3 6.7 .1 8.3 .4-1.8 .2 14.4 .2 0 .5 11.3 .2-9.6 .2 16.4 .2-7.4 .3 8.6 .1-3.4 .4 8.5 .4 7.3 .1-12.9 .4 6.2 .1 9.9 .1-8.2 .3 13.2 .4 2.2 .1-7.4 .4-.1 .2 12.2 .3-1.2 .1 7.4 .2 7.3 .1-4.3 .4-5.6 .2 16.1 .3-5.6 .5 9.6 0-4.6 .5 17.7 0-8.6 .3 11.1 .6 7.9 .1-10.4 .2 4.8 .3-7.8 .2-.9 .2 7.4 .3-3.4 .2 6.4 .3 3 .1-5.3 .4-1.5 0 6 .4 1.6 .4-15.2 0 2 .2 6.7 .4-12.7 .3 5.7 .4 2.8 .1-8.7 .2-3.1 .4 8.1 0 3.6 .4-11.8 .3-1.1 .3 10.2 .3-2.7 0 7.2 .4-7.3 .2 5.9 .2 .5 0-3.1 .4 3.7 .2 10.1 .3 5.8 .1-9.9 .5-2.2 .3 6.9 .4 1.5 .1-7.9 .2 4 .4 8.6 .1 6.2 .4-10.8 .2 7.6 .3-9.4 .3-2.7 .1 11.5 .3-7 .2 11 .2-14.1 .2 12.8 .3-1.5 .1-6.7 .4 9 .1-6.2 .4-3.9 .3 5.2 .2-6.8 .3-11 .2 4.3 .4 17.4 .1-7.3 .2 8.9 .2-4.1 .4 11.9 .5 4.8 .1 4.5 .1-3.2 .1 7.1 .4-2.2 .2-5.6 .3-3.8 .1 7.9 .4 4.6 .4-16.2 .4 .1 .1 8 .2-.8 .3-8.2 0-.2 .1-10.4 .5 7.2 .4-15.5 .1 .2 .2-5.5 .5-4 .1 19.5 .3-12.4 .2-12.7 .3 5.1 .2 9.7 .2 2.6 .2-11.1 .3 7.9 .4-16.6 .1 9.1 0-6.1 .5 4.2 0 8.8 .5 3.2 .4-9.9 .1-8.4 .2 12.7 .2-4.9 .3-8.6 .4-1.8 .2 13.4 .3-6.8 .2 7.7 .2 .2 .2 7.1 .3-10.9 .2-1.8 .4 1.9 .1 3.5 .2-9.8 .1-5.3 .6 16.7 .3-9.2 .1-2 .3-4.8 .2-10.9 .4 18.7 0-4 .4 8.7 .3-2.8 .2-4.6 .3-2.7 .1 5.1 .5-5.6 .1 9 .2 1.5 .3-12.5 .2 11.8 .2-9.3 .3 13.7 .4-14.8 .1-.3 .1 15 .5 2.3 .3 9.7 .2-11.3 .3 9.6 .1 3 .3-8.1 .1-1.9 .3-11.8 .2-1 .4-12.7 .4 11.3 .1-13.6 .3 16 .2-19.2 .2 3 .2-7.9 .4 1.7 .1 1.9 .2-3.4 .5-8.3 .1 3.9 .3-7.4 .1 5.5 .2-9.8 .4 6.3 .2-8.8 .5-2.1 .1 8.7 .3 1.3 .2-13.3 .3-1.6 .1 16.9 .4-6.5 .1 7.2 .4 1.3 .1-8.3 .5 14.4 0-12.3 .2 5.5 .5-9.9 0 6.6 .4-7.7 .5-3.8 .1 15.4 0-10.9 .2 11.5 .6-4 .1 4.9 .2 12.4 .2-13.1 .4 7.8 .3-14.7 .2-7.3 .2 26.4 .2-6.6 .2-17.3 .3-.2 .2 7.9 .2 3.1 .3 15.8 .2-2.7 .3-15 .2-3 .5 9.2 .2-6.9 .2-7.8 .1-5.3 .3-7.3 .2 2.8 .1 5.7 .7-10.4 .2 13.9 .3-15.4 .2 14.2 .3-9.7 .1 6.9 .2-3.2 .2-7.1 .5-.9 0 16.8 .2-7 .1-11.2 .6 12.2 .3-8.9 .1 3 .1-12.7 .7 4.5 .1 5.4 .1 6.4 .3-9.3 .2-5.5 .2 5.4 .4-4.4 .3-14.8 .4 6.2 0-8.3 .3-7 .1 12.8 .3-5 .1 4.8 .4-5.9 .1 2.8 .4-15.8 .4 17.7 .1-7.1 0-10 .4 .4 .5 11.5 .1-5.5 .4 12.8 .3-17.9 .2 13.5 .4-3.7 .1-8.5 .2 2.7 .2 13.9 .3-.3 .2-9.1 .2 5.2 .2 7.2 .3-1.8 .2 8.8 .3-3.4 .4-10.5 0 2 .5 6.4 .1-4.7 .3-9.1 .1 9.1 .5-18.3 0-1.9 .4 9.7 .4-8.6 .1-1.8 .1 3.8 .5-18.2 .2 15.3 .2-15.3 .4 8.7 0-14.8 .3 9.8 .2 12.6 .3-2 .2 7.1 .3-7.6 .2-2.2 .3-1.5 .1-7.3 .4 8.2 .1-7.8 .4 1.7 .2-11.3 .3 .5 .4 8.7 .2-9 .2-7.2 .3 3.8 .2-14.8 .2 18.9 .1-9 .4 3.3 .3-12.1 .2 3.3 0 7.5 .4-4.6 .5 4.5 .2 1.1 .2-7.8 .2 2.5 .3 9.3 .1-6.6 .1 17.8 .7-11.4 .1 6.8 .2 10.4 .2-10.4 .2 9.2 .3-15 .4-2.7 .1-9.7 .4 7.6 .1-11.2 .4 7.3 .1-12.1 .2 12.2 .1-12.4 .5 15.5 .3-12.6 .1 4.9 .4-7.2 .1 3.3 .4 10.9 .1-7.5 .4-9.8 .4 14.4 .1-14.6 .5-2.5 .1 15.7 .2 .6 .1 13.4 .3-16.1 .2-9.7 .4 8.7 .1 7.7 .4 3.7 0-13.4 .4 5.5 .2-9.9 .2 .1 .4-13.4 .2 8.8 .3-6.7 .2-9.1 .4 13.8 0-5.2 .3 5.7 .6-7.4 0 4.9 .1 5.6 .5-12.5 .2 2.6 .2 4.9 .3 .6 0-17.8 .4 8.6 .1-8.4 .3-5.7 .3 8.5 .2 7 .1-8.8 .6 0 .3 10.8 .2-6.9 .2 8.8 .4-10.1 .1 15.3 .4 6.3 .2 5.5 0-5.6 .5 12.4 .2-1.8 .1-6.3 .3 1.8 .2-6 .4-6.5 .1 8.5 .3-12.9 .1 5.3 .4 2.5 .2 13.7 .2-1.4 .4-8.4 .1 5.9 .4-16.9 .4 .9 .2 14.7 .3-3 .1-7 .4 5 .2 11.6 .2 6 .3-9.3 .2 1.3 .1-5.4 .5 10.5 .1-9.1 .3 11 .1-7.3 .3-.8 .2-8.3 .3 5.1 .3-18.1 .2 4.2 .3-11.1 .1 7 .4-14 .5 18.3 0-9.8 .4 10 .1 5.7 .1-.1 .4 6 .3-1.1 .2-8.4 .2 8.5 .2 7.2 .3-6.2 .2 8.1 .3 9.9 .4-11.8 .1 1.6 .1 7.2 .3 9.3 .4-17.3 .3 5.7 .2-7 .2 3.5 .3-13.1 .1 8.2 .4-14.4 .1 .3 .4 12.1 .4-13.2 .1 11.8 .3-3.6 .1 5.1 .4-1.2 .2-10.9 .2-1 0-6.3 .6 5.2 .3 6.4 0 1.6 .5-20.4 .2 11 .2-11.3 .1 10.5 .4 9.5 .2-.1 .3-13.2 .5-6.8 0 11 .3-1 .2 13.5 .3-1.9 .2 10 .4-13.9 .1 18.7 .2 4.5 .2 5.7 .2 1 .5 7.7 .2 .2 0-5.1 .5-5.8 .2 9.1 .1-4.8 .5 15.1 .1-6 .3-7.4 .5 2.1 .1 10 0-6 .4 8.9 .3 8.4 .1-4.5 .5-4.2 0 8.4 .4-5.7 .1 14 .4-7.5 .1-3.1 .3 17.2 .2-10.3 .3 4.1 .1 12 .4 1.4 .1 4.8 .3-4.3 .4 9.7 .5 1.4 0-13.5 .4 4.9 .1 10.4 .1 0 .3 8.9 .4-4.4 .2 7.8 .3 4.7 .1 11.4 .3-1.5 .1 12.5 .3-8.9 .3 14.5 .3-4.9 .1 18.8 .3-.3 .5 4.4 .1-3.3 .3 13.6 .2-6.6 .2 6.9 .3-3.8 .4 8.8 0 3.1 .4-11.5 .3 7.9 .2-3.7 .4-2.5 .1-6.7 .2-1 .3-11.3 .3 7.6 .1-9.2 .4 4 .3-7.4 0 10 .5-12.9 0-1.3 .4-15.6 .1-3 .5 13.2 0-3.8 .5-16.8 0-1.2 .4-9.1 .3 1.1 .1 6.3 .4-4.4 .1-4.9 .3 3.4 .1 4.1 .4-1 .2 8 .2-6.1 .2 13.9 .3-12.8 .5 5.6 .1-2.3 .3 9.3 .1-2.5 .3 7.7 .2-1.4 .3-11.4 .3-11.7 .4 17.4 .2 11.8 .3-16.6 .4-2.6 0 8.3 .2-1.7 .2 6.7 .3 7.8 .1-9.5 .4 3.2 .4 10.5 .1-3.3 .4 6.5 .1-2.1 .3 15.4 .2-8.6 .4 16 .4-5.1 .1 5 .3-5.4 .2 13.3 0 .8 .3 3.5 .4 1.4 .3 10 .1-2.3 .2 7.9 .3 2.1 .2 4.4 .3 2 .2 5.9 .5 4 .2 3.2 0 1 .2 3.6 .5-4.3 .3 6.1 .4 1.2 .1-2.8 0 .8 .3-6.7 .3 4.4 .3-4.8 .1 1.8 .5-8.5 .2 1 .2-4.7 .2-1.7 .2 9.7 .3-5.8 .2-3.2 .2-4.2 .3 8.6 .3-1.1 .2-1.1 .4-5.1 .2 8.8 .1-3 .4 5.4 .2 0 .2-4.2 .3 1.7 .2-4.9 .2 .6 .5-3.4 .3 .6 .1-7.3 .2 6.7 .1-3.6 .4 3.7 .2-5.2 .3-3.4 .1 1.3 .5-.8 .3-8 .2 7.1 .2-2.9 .2 1.9 .3-8.7 .1 .3 .3-10.3 .6-.9 .1 6.1 .2-.2 .2 5.3 .1-.5 .5 5.8 .2 2.6 .2 5.1 .2-2.7 .2-6.5 .3 .9 .2-6.6 .2 6.4 .5-11.1 .1 3.8 .1 5.9 .3-2.9 .5 10.1 0-2.3 .4 8.4 .2-2 .3-7.3 .1-1.7 .5 10.6 .2 2.1 .3-4.8 .4 5.7 0-7 .2 5.5 .3-13.8 .3 6.7 .1-5.6 .3 2.9 .1 7.1 .3 3.3 .5-6.7 .1-5.6 .1 8.4 .3-2.4 .4 5.4 .1-4.5 .3 4.2 .3-7.5 .3 9.4 .1-.5 .4-5.5 .1 4.5 .5-7.4 .2 3.8 .2-4.7 .3 1 .1-1.9 .5 2.7 0-6.4 .3-3.8 .2 9.4 .3 4.3 .1-6.8 .3 3.8 .1 6.1 .6-5.5 .3 4.1 .3-2.8 .1 3 .2 1.9 .2-8.5 .5 15 .2-11 .3-1.5 .1-3.7 .3 5.5 .1-6.7 .4 1.1 .1-5.9 .4 2 .1-6.3 .2 4 .3-11.8 .3 10.1 .3 6.5 .3-10.7 .3 12.2 .1-7.4 .4 9.5 0 1 .4 4.1 .4-2 .1 11.3 .3 3.3 .3-4.6 .2 .5 .2 6.5 .3-.5 .2 1.8 .2 6.3 .2-1.5 .2 1.2 .5-4.2 .1-2 .4 4.7 .1-2.4 .3 2.7 .1-1.9 .5 6.7 .1-4.5 .4 4.4 .1-1.3 .3 5.5 .1-1.8 .5 4.6 .2 .6 .2-5.1 .2-.7 .3 7.2 .2 2.3 .2-2.6 .3-.4 .1-3 .4 .9 .1 6.3 .5-3.3 .3 3.1 .1-2.7 .4 5 .1-1.8 .4 1.3 .1 2.6 .3-3.9 .3 .8 .2 2.4 .3-3.2 .1 2.1 .4-3.4 .2 3.8 .2-.1 .2-8.4 .3 4.4 .2-7.5 .5 1.3 .2-6.9 0 2.2 .4-11.8 .3 3.6 .2 6.2 .1-.5 .5-4 .3-4.9 .2 3.8 .3-6.3 .1 3.3 .4-.9 .2-4.8 .2 4.3 .2-2.1 .3 .8 .2-5.7 .2-2 .2 4.1 .4-8.1 .3 7.5 .1 2.4 .3-5.5 .1 4.6 .5-3.9 .1 5.1 .4-7.7 .1 1.7 0 3.2 .4-3.1 .3 7.4 .6-.5 .1-6.4 .2-2.4 .2 8.3 .3-6.8 .2 2.1 .3 5.1 .2 4.1 .3-1.7 .1 4.5 .2-3.5 .5 4.5 .2 4.6 .3-5.1 .1 4.4 .3 4.4 .2-3.9 .4 4.1 .3 4.8 .2-4.3 .2 2.2 .2-1.6 .1 3.9 .5 3.4 .3-1 .1 4.7 .2-2.6 .1-3.6 .4 2.5 .2 3.6 .3-2.9 .4 4.8 0-.2 .4 3.1 .1-.1 .5 4.9 0 .5 .5 1.4 .1 2.2 .2-2.8 .2 2.4 .1-1.6 .4 2 .4 3.1 .3-2.6 0-2 .4-.4 .2-1.3 .4-.1 0-1.2 .3-2.7 .3 1.8 .3 2.8 .1-4.5 .3 3.3 .5 6.5 .1-1.9 .3-1 .5-2.3 .1 2 .3 .1 .1-2.5 .3 .6 .1 1.5 .2 .5 .4-2.6 .3 .4 .2-3 .4-1.2 .1 2 .3 1.3 .1-2.4 .2 2.6 .2 2.2 .5 1.3 .2-2.6 .2 1.2 .1-2.3 .3-.3 .4 2.9 .1-2.3 .5 .9 .3 .3 .1 2 .1 1.3 .5-4.4 .2-1.5 .2-1.6 .3-1 .1 3 .3-2 .2 2 .2 1.9 .3-3.6 .4-2.9 .3 3.4 .2 3.4 .3-1.4 .1-.4 .4 1.4 .1-.3 .3 1.9 .5 2.4 .1-3.5 .2 2.1 .3 2.7 .3-1 .2-2 .1 .9 .2-1 .4-.3 .1 1.4 .3 .2 .2 1.4 .2-.7 .5 4.2 .1-1.4 .3-1.9 .2 .1 .4 3.8 .1-1.6 .4 1.2 .1-2.3 .3 2 .4-.1 .1-2 .1 .6 .4-2.7 .3-1 .2 2.2 .2-.1 .3-1.9 .2 1.6 0-1.4 .4 2 .3-1.5 .3 3.1 .3-3.1 .1 0 .2 .6 .5 1.4 .2-1.8 .2 .6 .3-1.7 .4-1.4 .2 2.6 .2-.3 .2-1.5 .4-.3 .1 1.6 .3 1.2 .2-.7 .3-1.7 .1 4.6 .3 1.5 .2-2.5 .3 1 .1-2.5 .5 1.7 .3 2 .1-1.3 .3-1.7 .2 .3 0 1.3 .5-1.8 .3-2.4 .2 1.3 .3-1.1 .3 1.6 .3-2.2 .2 .2 .2-2.1 .2 1.5 .3-3.5 .2 1 .2-1.3 .2 .7 .2 2.2 .5-1.2 .2 1.6 .2-2.2 .4 3.3 0-.2 .4-1.8 .2 1.4 .3-2.5 .2 .6 .4 2.2 .3 1.1 .1 .8 .3-.4 .2 1.7 .3-1.6 .1 2.3 .3-.4 .3-1.3 .2 2.3 .2-2.1 .4-.2 .3 .7 .2-2.1 .3-2.6 .1 2 .3-3.2 .1 0 .4-4.5 .2 1.7 .3-4.3 .3-.6 .1-1.7 .2 2.3 .2-2 .5-3 .2 2.7 .4 .2 .1-2 .2 .3 .2-4.6 .2 1.7 .2 3.2 .5-.9 .2-2.8 .2-2.2 .3-4.1 .2 2.9 .1-3.1 .3 .2 .4 2.1 .4-2.4 0 2.4 .5-1 .2 7.5 .2-5.8 .2-1.9 .4 1.9 .1 3.6 .4 1.8 0-1.1 .3 3.3 .2-3.1 .3-1.6 0 4.3 .6 .1 0-3.2 .3 .1 .4 5.2 .2 1.8 .3-3.6 .1 .2 .5 2.6 0-.9 .4-5.7 .4 4 0-3.4 .5 3.4 .1-4.4 .2 .2 .3-1.5 .2 4 .2-5.2 .2 1.9 .5-4.2 .1 1 .3-2.3 .2 3.7 .3-2.4 .1 3.8 .4-6 .2 1.1 .3 1.5 .2-1.7 .2 5.9 .4-2.7 .2 2.9 .3 .1 .2-3.5 .2 4.3 .2-3.9 .3-2.4 .2 3.1 .3-1.6 .2-3.4 .3-3 .1 4.3 .4-.3 .4-1.8 0-1 .5 4 .4-2.9 .1 3.4 .3-.2 .2-2.3 .2-.3 .2-5.8 .4 5.2 0 4 .3-4 .3 5.7 .3-4.8 .1 3.1 .3 .5 .2-3.7 .4 3.2 .1-3.9 .2 1.6 .1-2"/><path stroke="#a52a2a" d="M85.3 169.3l.2-1.7 .4-3.2 0 9.2 .2-.4 .1-25.2 .4 16.1 .2 19.8 .3-6.2 .1-11.3 .5 9.2 .2-18.3 .1 10.9 .4-11.6 .5 3.5 .1-3.1 .1 1.2 .2-9.5 .3 2.6 .2-14.4 .2-1.6 .4-5.6 .3 1.2 .2 12 .2-2.5 .2-12.9 .5 7.1 0-5.2 .2-5.2 .2 10.7 .4-19.3 .4 5.4 0 7 .5 9.1 .1-3.3 .3-8.4 .2-1.4 .4 15.9 .1-13.3 .4 14.2 0-1 .5 13.4 .4-3 .1-4.5 .3 .1 .1 8.4 .3-.4 .2 6.3 .2 6.3 .2-11.4 .2 13.6 .3-13.5 .3-5.6 .3 15.1 .2 .5 .1-10.9 .3 12.2 .5-15.9 0 4.2 .1-8 .7 10 .1-2.7 .3 6 .1-7.4 .4 7 .2-9 .2-.4 .2 10.1 .3-9.5 .1-6.4 .4 9.9 .4-10.6 .1-1.7 .4 9.8 0 .9 .5-12.4 0 1.2 .5 16.7 .1 7.7 .4-18.9 0 5.7 .5 27.7 0 4 .3-7.4 .4 6.2 .3 6.6 .3-8.8 0 5.3 .4 9.1 .2-10.9 .3-1.7 .1 17.2 .2 .5 .1 11.4 .4 1 .2-12.4 .4 3.9 .1-12.7 .4 13.1 .3-14.3 .2-.9 .3 5.2 .4 .8 .1 12.7 .1-1.3 .3-11.7 .4 12.8 .2-12.3 .2-5.5 .1 5.3 .4 4.4 .1-10.7 .4-5.1 .1-6 .4 1.8 .1 8.4 .3-8.7 .5 11.9 .2-11.4 .2 11.4 .2 1.1 .2-6.2 .3 5.7 .4 6 .3-3.5 .1-11.2 .4 10.6 .1-18.3 .3 10.6 .2 7.3 .2 2.9 .3-9.5 .2 6.7 .2-12.6 .2 2.6 .2 6.9 .4-2.1 .4-9.8 .1-3.6 .3 7.7 .2 5.1 .3-17.9 .5 11.6 0-14.7 .3 8.7 .2 5 .4 1.1 0 7.3 .4-.5 0 6.6 .4-.8 .1 9.1 .4 2.7 .2-15.6 .2 3.2 .5 11.9 0-2.9 .4 14.9 .1-7.2 .4 16.6 .1-3.6 .5 12.9 0-7.2 .1 3.9 .4-.2 .4-9 .1 7.7 .5 16.4 .2-1.1 .1-10.3 .4 6 .1 10.5 .4 1.8 0 3.9 .5 2.2 0-6.2 .3 6.7 .1-7.8 .4 3.5 .5 7.8 0 2.9 .4 10.4 .2-6.8 .2 10 .3-9.4 .4 13.3 .2 11.4 .2-12.5 .1-1.9 .3-14 .4 12.6 .1 5.2 .3-.7 .1-13.6 .4 11.4 .1 4.7 .4-4.5 .2-2.7 .2-.9 .1-13 .5 12.7 .3-10.3 .1-6.2 .2 5.5 .3-2.9 .3-9.6 .2 .1 .5-14.8 .3-1 .1-7.5 .3 4.6 .1 11.8 .3-5.3 .3-10.9 .3 1.9 .1 4.6 .3 .2 .1 7.2 .4-8.2 0-2.2 .5 13.7 .1-8.7 .4 2.8 .1 21.1 .6-14.1 .2 6.3 .1-5.2 .2-4.5 .5 9.4 .1-11.9 .4 0 0 6 .5 5.4 .1-10.5 .3 13.4 .1-9.4 .3 16.7 .2 9.4 .3-5.7 .4 13.3 .2 9.3 .3-9.7 .1 11.8 .1-2.5 .6 9.9 .1-10.7 .1 8.1 .4 11.5 .4-2.4 0 6.1 .5 4.2 0-6.6 .5 8 .1 7.3 .2 1.1 .2-9 .4 2.6 .1-5.6 .2 4.2 .2-20.5 .4 19.6 .2-11.4 .3 1.3 .1 10.7 .4-.3 .4-14.2 .1-.8 .2 8.3 .5 .5 .2-8.4 .4-8.3 0 15.2 .3-12.8 .2-15.8 .2-6.7 .2 5.5 .4-2.2 .1 7 .4-.9 .1-6.4 .3-2.7 .1 12.5 .4-7.3 .1 6 .4-4.6 .3 12.1 .2-7.1 .3 13.1 .1-8.9 .4 11.5 .2 2.6 .3 16.4 .5-9.6 .1 5.9 .2 1.1 .1-12.5 .3 7 .1 7.8 .4-5.8 .2 14.1 .4 1.1 .1 11 .3-2.5 .1-14.3 .4 6 .4 10.9 0-4 .4 8.5 .4 1.5 .1-9.3 .2-5.2 .4 15.9 0 2 .5-19.4 .2 3.6 .1-9.4 .5-2.3 .1 5.8 .3 18.3 .1-21.8 .3 7.4 .2-15.4 .2-.3 .2 18.2 .3-2.8 .5-11.8 .4 9.3 0-3.6 .1-2.6 .1 6.2 .4-12.9 .1 13.9 .6-5.3 .2-9.1 .1 2.1 .4 9.2 .3 8.2 .2-8.6 .3 2.2 0 4.9 .4-1.3 .2 9.7 .3 4.8 .4-11.2 .1-1.4 .3 3.3 .2 3.7 .1-3.5 .3-1.5 .4 9.1 .1 .9 .4-4.7 .4 8.2 .2-8 0 2.2 .3 12.9 .5-4.5 .1 11 .3-3.5 .1 7.3 .3-2 .1-11.1 .3 3.7 .1-3.8 .5-.5 .2-5.9 .2-1.9 .5-14 .1 1 .3-11.3 .1 3.1 .5 22.5 .3 2 0-4.9 .4 12.8 .2-7.8 .4-8 .1 8.1 .3-2.1 .2-18.2 .2-1.4 .3 4.4 .2 5.7 .1 4.4 .3 6.5 .5-15.5 .2 7.9 .3-11.2 .1 2.8 .4 12 .1-3.3 .3-18.3 .2-10.1 .4 5.1 .1-6.7 .2 6.7 .6-1.8 .1-12.9 .2 6.1 0-5.1 .4-6.8 .3-20.3 .2 8.2 .2-17.5 .4 1 .3-8.5 .1-4.8 .1 9.5 .4-19.7 .1 11 .4-.5 .3-11.4 .2-.2 0 7.6 .5-12.3 .3 20.1 .4-8.8 .1-7.6 .3-3.3 .2-7.4 .3 3.9 .1 3.1 .3 3.3 .1-9.3 .5 3.9 .1 6.7 .3 2.3 .4-6.3 .2-1.9 .3 4.7 .1-6 0 11.9 .5-12.2 0 7.9 .4 .3 .3-6.9 .5-.8 .1-5.4 .1 .8 .4 3.3 .4 2.6 .1-6.9 .4-1.1 .1-7.3 .2 3.1 0-6.9 .6 2.6 .3 6.9 .1 .8 0 15.7 .4-10.2 .5-31.4 0 9.5 .4-8 .2 1.6 .3-4 .1-6.6 .5 8.5 .4 3.4 .1-11.6 .3 3.8 .1-9.4 .3 0 .1-3.4 .4 0 0-12.5 .4-1.5 .2 8.7 .3-11.8 0 5.5 .6-16.5 .3 17.1 .2 11.6 .2-16.4 .1 7.1 .1-9.5 .5 12.1 .2-11.7 .5 14.8 .1-9.1 .4-.5 .2 17.7 .2-2.5 .2 12.4 .4-13.1 .1 10.9 .2-10.3 .2 5.6 .4-4.7 .1 12.8 .3-6.5 .1 16.2 .4-5.3 .4 20.7 0 8.7 .4-6.7 .2 2.3 .3-13.8 .1 8.1 .3 16 .5-.1 .1-5.1 .3 1.3 .1 6.2 .5-2 .1-3.8 .3-2.3 .2 8.4 .2 6.3 .1-7.2 .6-6.5 .2 11.3 .1-2.3 .4 33.8 .2-9.5 .2 4 .4-.1 .1 5 .4 2.6 .2 7.3 .2-1 .2-10.3 .5-1.3 .1 14.3 .2-17.9 .2 12.7 .3 1.3 .2-4.9 .2 1 .2 7.5 .3-12.5 .1-6.6 .3 10.3 .2-16.1 .7 10.4 .1-7.2 .2-4.3 .3 12.1 .1-1 .2 8.6 .2-5.6 .3 6.1 .4 2.8 .3-13.4 .4 .9 0 10.4 .3-1.5 .1 5.5 .4 2.2 .1-11 .4 4.3 .1-6.9 .3-.9 .2 5.6 .3 1.2 .1 16.1 .4-4.2 .4-10.7 .4-.3 .1 9 .1-9 .4 9.1 0-2.1 .5 12.3 .3 2.4 0-8.4 .4 22.6 0-7.6 .5 1.1 .2 7.9 .2-7.9 .2-11.5 .3 17.2 .2-10.5 .3-2.4 .4 9.8 .1-3.5 .4 10.2 0 2.8 .5-13.5 0 7.5 .1-20.8 .8 13.8 .1-9.9 .3 14 .2-9 .2 0 .2-5.9 .3 .2 .2-9.4 .2-8.3 .1 10.6 .3 3.8 .2-9.3 .4 8.6 .4-21.3 0 7.8 .1-19.1 .5-.3 .3 10.1 .2-4.1 .3-17.6 .2 4.8 .2-9.4 .4 6.1 .3 8.1 .2-6.8 .2-11.3 .2 4.7 .3 10.3 .3-5.7 .2-6.1 .2 2.2 .1-7.5 .4 .7 0 13.3 .4 2.4 .1-13.2 .5 5.2 .1 9.3 .4-11.1 .2 8.9 .3-10 .3 9 .4-6.4 .1-8.6 .4 .6 .2 5.3 .2 5.3 .2-8.4 .3 11.7 .1-7.2 .3 14.7 .1-9.6 .3 4.2 .5-5.9 .1-3.1 0 9.4 .5-4.4 .3-9.6 .1-1.1 .4 16.3 .2-1.5 .3-4 .2-4.7 .2 6.1 .5-3 .1 9.6 .3 4.6 .2-6.1 .2 4.9 .2 9.9 .4-12.6 .1 21.9 .3-2.7 .2 8.6 .3-3.2 0 6.6 .4-12.4 .4 6.5 .2-5.1 .3-4.9 .2 1.2 .3-15.6 .1 6.1 .5-9.6 .2-1.3 .2 7 .4-9.5 .2 18.1 .2-8.7 0 9.7 .4 2.4 .3-12.1 .2-9.7 .2 10.3 .2-.2 .3-7.3 .2 8.9 .4-13.9 .2 4.1 .3-12.6 .5 6.8 .1-3 0 .6 .4-8.9 .4-5.9 .2 7.6 0-7.6 .3 9.1 .4 1.4 .2-16.5 .3 .5 .2 11.4 .2-8.6 .2 4.9 .2-1.7 .3 17.5 .2-3.6 .3-18.2 .4-.7 .2 10 .2-6.6 .3 13.7 .4 2.6 .1-10.5 .1 10.5 .4 8.9 .1-6.1 .3 9 .5 10.2 .1-9.6 .3 0 .1 4.5 .4 9 .2-16.4 .2 .8 .2 11.3 .2-1.2 .3 9.1 .4 4.8 0-10.6 .3 .2 .1-6.2 .4-4.1 .4 7.4 .1-9 .4 12.3 .4-12.7 .1 9.7 .3 2.8 .1 5.8 .4-2 .2-8.5 .2 3.3 .2 10 .5 6.4 0-12 .4 9.6 .3-10.4 .1-4 .4 12.9 .2-7.6 .3 13.9 0 5.5 .1-10.7 .5 1.5 .3 9.2 .1-3.8 .5-12.5 .2-5.9 .2 12.4 .4 9.8 .2-7.7 .2 4.2 .2 15.6 .3-7.9 .1-5.6 .3 11.3 .2-8 .3 5.8 0-8.9 .4 9.7 .5 8.5 .1-5.7 .4 10.5 0-2.6 .5-11.9 .3-3.4 .2 8.6 .3 4.3 .2-12.8 0 9.1 .4-12.2 .4 3.8 .1 3.4 .4-3.9 .1 14.6 .2-5.8 .1-11.8 .5 14.9 .3-18.8 .1 7.3 .1-10.2 .3 12.1 .2-9 .3 4.1 .5-6.6 .1 1.5 0 9.7 .4-3.9 .4 11.1 .1-.7 .4-8.5 .4 6.5 .1 9.2 .2 5.3 .3-15.4 .2 1.1 .2 9.8 .3-1 .2-16 .3 12.9 .1-17.8 .3 6.1 .4 13.8 .2-9 .3 15.9 .4-5.8 .1 6.3 .2-8 .3-6.1 .4-1.9 .1 11.8 .4 5 .2-7.4 .3-5.9 .1 10.2 .3 3.2 .2-8 .2-7.3 .1 17.7 .5-10.7 .3 4.6 .2 2.9 .2 8.4 .3 24.1 .3-14.3 0 .9 .5 19.8 .1 1.7 .3 11.7 .1-5.6 .5 11.8 .2 18.1 .3-18.6 .2 9 .2-5.2 .4 6.5 .1-14.9 .2 2.9 .2-17.5 .3 17.1 .1-4.9 .4-3.1 .2 14.9 .2-5.5 .2-10.8 .4-3.7 .1 9.4 .4-11.5 0 16.5 .4-4 .5-14.8 .3 9.2 .1-28.5 .3 8.1 .1 10.6 .4-.8 .2 14.4 .3-3 0-22.9 .4 11.5 .1 12.8 .3-14.8 .3-6.5 .2 4.2 .4-21.4 .3 6.1 .2-5.9 .3-6.4 .2 7.8 .4-3 .1 5.2 .2 3.7 .2-7.2 .2 5.3 .5-10.5 .2-.4 .2 6.8 .2-3.7 .2 6.4 .4 4.2 .1-12.4 .2 1 .2 11.2 .4-4.9 .4-14.3 .2 4.4 .3-11.5 0-1.7 .4-12.3 .2 5.1 .3-3.9 .4 10.7 .1-16.7 .4 11.8 .1-18.5 .4 4.2 .2-2 .3-3.5 .1 10.9 .3-3.9 .2 12 .2-1.9 .2 7.3 .3-12.9 .1 7.9 .3-4.7 .5-18.4 .1 .6 .1 9.3 .5-15.6 .3 11.9 .3 1.6 .2-9.5 .3 12.6 .2-6.7 0-.7 .2 9.5 .5-25.7 .1 15.6 .5-10.9 0 16 .3-4.7 .2 11.2 .4-3.1 .3-12 .1 3.4 .1-2.2 .4 7.3 .4-7.4 0-2 .5-11 .1 3.6 .3 11.5 .1-1.3 .3-14.5 .5 4.9 .2-5.2 .3-4.1 .1 15.7 .2-8.6 .1-12.2 .4-3.5 .3 7.3 .3 8.5 .1-12.7 .2 3.2 .1 13.3 .4-7.5 .1-12.9 .5 10.5 .3-15.7 .2 3 .4-7.4 0-6.7 .4 7.4 .2 4.8 .3-14.5 .4 20.4 .2-21.3 .2 0 .2-6.1 .2 9.8 .2-9.5 .3-.2 .2 7.5 .2 2.2 .3-8 .3 7.2 .2-8.5 .3 8.3 .4 12.3 .4-10.9 .1 13 .3 3.8 .1-16.3 .1 8.2 .5 20.6 .3-10.7 .1 14.1 .4-9.5 .1-6.8 .2 .6 .2-8.7 .3-.8 .3-9.2 .2-4 .2 11 .3 6.3 .1-7.4 .4 1.9 .3 10 .5 9 0-13.4 .2 17.8 .3-10.4 .1 4.4 .5 13.2 .1-7.1 .3-7 .1 3.4 .4 17.6 .3-9 .2 7.1 .3 3.9 0-2 .4 6.1 .2-9.1 .2-5.3 .1-7 .6 .5 0 3.7 .3-6.9 .2 8.2 .4-3.8 .1 11.9 .4-12.7 0 8.7 .4-3.5 .3 12.3 .2 0 .2-13.4 .5 1.3 .2 11.6 .2 .6 .3 13.3 .2 2.2 .2-13.3 .3 9.9 .1-11.8 .4 3.4 .2 9.5 .2 1.6 .4 8 .5-10.6 0 3.6 .2 11.6 .4-11.3 0 .1 .4 15.6 .3-3.5 .2 7.8 .1-2.9 .3-8 .4 9.7 .2 13.2 .2-1.4 .2 9.8 .5-7.2 0 5.5 .2-5.4 .2 10.7 .3-8.8 .4 10.9 .2 1.7 .3-9.5 .2 5.7 .4-12.7 .4-9.9 0 11.8 .1-5.9 .5 23.1 0-1.5 .5 9.3 .2 1 .2-13.1 .4 2.2 0 4.3 .3 1.3 .2-12 .2 10.3 .3-13.6 .3 .4 .1-8.4 .3 2.2 .5 13.7 .2 1.4 .2-5.9 .2 7.8 .4-12.7 .4-2.2 .1-3 .3 8.5 .1-11.9 .4 4.9 .1 14.5 .4-4.3 0 5.5 .4 3 .2 2.1 .3-2.1 .1 6.2 .3 2.9 .4-9.1 0 .1 .2-12.4 .4 13.2 0 8.9 .4-19.3 .5 7.4 0-.2 .5 7.9 .4-1.3 .1-7.2 0 .8 .5 8 .2-4.3 0 4.6 .4-3.6 .2 23 .3-10 .2 8.2 .4-4 .3 14.6 .1-5.1 .4 7.5 .1 7.6 .4-8 0-1.8 .2-5.3 .4-.7 .2 10.6 .2-6 .3 8.8 .5-7.2 .1-7.7 .3-3.5 .1 17.1 .3-4.2 .2-9.5 .4 20.2 .2-14.6 .2-3.4 .2-10.7 .3 12.8 .4-13.6 0 2.2 .2-17.8 .4 .1 .3 21.7 .2-13.2 .3 10.4 .5-8.2 0-6.6 .2 3.8 .2 3.8 .5 3.7 .2-10.1 .2 8 .2-14.3 .2 17.2 .3-11.9 .4-2.9 0 7.9 .4 .8 .3-3.6 .1-7.9 .1 6.7 .3-11.1 .5-10.8 .4 4.1 .1-7.8 .1-5.6 .2 11.1 .3-4.5 .4 7.3 0 .6 .5-13.9 .3 6.3 .1 7.3 .2-6.4 .1 6.6 .4-8.5 .1 3.6 .4-1.7 .2 25.8 .3 4.7 .2-12.6 .2 10.2 .2 9 .4-5.7 .3 7.2 .4 9.1 .1-6.5 .1-1.4 .3 17.1 .3-14.6 .3 9 .4 8.1 .2-8.5 .2 8.7 .1-5.3 .3 4.4 .1 6.5 .4-3.7 .2 12.3 .2 2 .5 10 .2 4.4 0-5.8 .4-.6 .1 17.4 .3-6.3 .4 13.4 .1-6.2 .3 12.2 .5-9.1 .2 20.6 .3-12.8 .2 10.1 .3-20.5 .1 14.5 .2 2.1 .2-9.9 .3 12.6 .3-1.7 .1-3.2 .1 5.7 .5-1.2 .4-13.4 .2-4.9 0 15.8 .4-7.9 .3-10.9 .1-.6 .3 9.8 .3-21.5 .2 13.3 .2 7.1 .4-12.5 .3 14.8 .3-13 .2 1.5 .1 9.7 .3-2.1 .2-12.5 .4 14.8 .1-8.3 .4 9.6 0-6.1 .5 5.4 .3 8.8 .1-11.6 .3 12.3 .3-3.4 .1-9.5 .3 .4 .4 12.7 .3 3.6 .2-7.2 .2 14 .3-15.9 .4 4.8 0-6.5 .3 3.7 .1 13.1 .4-2.9 .1-7.7 .4-4.4 .3 12.7 .2-5.3 .1 5.6 .2-2.4 .1-9.3 .5 .4 .3-16 .2 9.1 .4 10 .1-9.7 .2 22.4 .4-1.5 .3 17.4 .3 8.2 .1-9.2 .2-.1 .2 9.7 .3 .3 .3-8.2 .3-10 .1 15.3 .3 8.7 .4-17.9 .2 5.1 .3-12.3 .2 2.9 .3-8.4 0 1.9 .4-14.6 .2 4.2 .4-12.4 .1 3 .4-9.5 .3-1.4 0-6.7 .4 7.3 .2-11.4 .3 7.4 .1 3.9 .3 1.3 .2-14.3 .3 23.3 .4-20.4 .1 6.5 .1-4.6 .3 2.2 .2 12 .4 2.1 .3-13 .4 1.7 .1 4.4 .1-1.5 .5-19.7 0 6.8 .4 18.9 .4-4.3 .1 3.3 .3 4.4 .1-8 .4-.3 .2 5.7 .2 7 0-8.1 .5-12.9 .1 9 .5-.6 .3-15.5 .1-10 .3 15.2 .1-1 .1-8 .5 6.3 .3 12.5 .4 2.6 .1-6.1 .3-10.3 .3 11.9 .3-5.6 .1 8.8 .2-2.3 .2-7.8 .3 2.2 .2 4.3 .4 7.9 .3-10.4 .1 1.6 .1 11.3 .4 1.7 .3-2.1 .1 .3 .4 11.1 .2 4.4 .3-12.1 .1-7.2 .5-8.6 0-.1 .4-16.9 .3-5.6 .2 12 .3 4 .2-8.8 .2-2.5 .1-8.3 .3 2.9 .2 10.6 .3-4.8 .5-18.1 0 7.6 .2-13.3 .3 11.7 .4-11.6 .1-.5 .3 8.9 .6-7 .1 11.2 0 2.2 .4-13.7 .1 6.3 .5 6.7 .2-6 .2 7.6 .4-5.2 .1 8.4 .3 1.2 .1-6.7 .4 5.5 .3-7 .1-.6 .1 6.3 .3-1.2 .4 13.4 .2-19.3 .3 14.1 .4-5.6 .1 15.3 .1 7.5 .4-12 .3-11.8 .1 15.7 .4-11.1 .2 18.2 .2-4.6 .2-18.4 .3-3 .2 14.1 .4 2.1 .1 13.5 .2-.2 .3-10.3 .4-9 .3 6.3 .1 0 .3-7.1 .1-5 .4-13.1 .1 5.4 .3 8.4 .5-11.6 .2 14.6 .2 2.9 .1-18 .5 3.4 .1 10.5 .2-3.4 .3-7.1 .2 3.6 .1 10.9 .4-11.1 .4 11.1 .1-1.5 .3-9.2 .2 1.3 .1-9.1 .3 13.1 .1-13.2 .5 12.6 .4-7.2 .3 3 .1-9.9 .4 7.4 .2-8.8 .4-6 0 2.8 .4-.2 .1-10.9 .2 1 .1 4.6 .3 1.6 .2-15.7 .4-.9 .4 16 0-1.7 .4-9 .5-3.5 .1 20.5 .1-10.6 .4 11.9 .3-16.5 .2 9.6 .4 4.9 .1-10.2 .2 3.5 .2 8.2 .3-5 .1 4.5 .3-5.2 .1 12.6 .4-.8 .2 10.6 .5-6.6 .2-13.9 0 7.3 .1 5.3 .6 1.2 .2-10.6 .1 6 .5-10.9 .4-.4 .1-4.7 .3-9.1 .1 6.3 .4-2.6 .2-6.1 .2 7.1 .2-9.3 .2 7.5 .2-7 .4-4.2 .1 12.4 .2 .9 .1 11.5 .7-13.9 .1 6.9 .2-4 .3-5.8 .3 5.2 .3-11.1 .1 .5 .3-8 .1 8.8 .1-7.5 .6-13.7 .3 10.9 .3-12.4 .1 3 .3 9.8 .1-10.7 .3 2.4 .2-8 .3 4 .1 12.3 .3-4.9 .2 8.1 .3-7.9 .2-11.9 .4 2.1 .3 20.2 .1-6.5 .3 10.7 .5-7.8 .1 7 .2 9.2 .2-11.6 .2 10.2 .3-7.4 .4-8.9 .2-4.3 .2-4.4 .1 11.8 .4-7.9 .2-10.8 .3-4.1 .2 18.9 .3-10.2 .1 11.2 .4-5 .4-9.7 .1 8.6 .1 8.4 .7-8.3 0-7.8 .4 4.6 .1-5.7 .5-3.8 .1 15.4 .2 4.9 .2-5.4 .2-.7 .2-12.2 .3-.8 .2 6.3 .2-4.6 .2 5.8 .4-2.6 .2-6.7 .2 1.7 .4-15 .2 11.1 .3-11.1 .1-5.8 .5 13 .3-9 .2 8.7 .2-5.5 .2 4.9 .1 7.1 .2-10.4 .5 15.5 .2-7.9 .3-1.7 .2-13.6 .2 .8 .2 5.2 .3-15.8 .4 16.3 0-9.4 .1 11.4 .4-1.6 .1-10.5 .5-1.7 .3 27 .1-17.1 .4 13.1 .2 12.6 .2-12 .4 .9 .3 17.3 .3-4.9 .1-6 .2 7.3 .1-16.2 .5 2.1 .1 5.7 .4-1.2 0-8.4 .4 4.7 .4 14 .1 0 .3-12.1 .2 2 .4-8.1 .1 .2 .4 10.9 0 4.3 .4-9.2 .1 4.8 .5 13.1 .2 5.3 .3-13.2 .2-.9 .1 4.7 .4 7.2 .2-10.5 .3 10.1 .1-7.2 .3-8.5 .1 9.4 .4-9.1 .1-13.3 .4 1.5 .3-5.6 .1 6.4 .3-10.4 .6 3.1 .1 10.9 .3 1.4 .1 11.1 .5 5.1 .1-10 .2-1.6 .1-9 .5 9.8 .1 5.8 .3-1.8 .1 7.2 .4 6.9 .3-8.3 .1 2.1 .1 7.9 .3 3.7 .4-20.4 .5-1.5 .1 8.5 .1-4.8 .3-9.9 .4 12.8 .1-12.1 .1-2.7 .5 10.7 .3-11.7 .1 11.9 .2-12.3 .3 10.8 .3 .6 .1-15.8 .4-3.3 .1 11.7 .3-2.6 .2-7.1 .2 9.9 .5-18.5 .1 1 .3 8.2 .2-4.4 .2 8 .3 .5 .4-13.9 .3-8 .1 10.6 .1 1.1 .5 16.4 .3-14 .1 17.6 .3-8.8 .2 9.8 .2 4.3 .1 8 .3 1.9 .2 6 .4-5.8 .3 10.3 .5-9.1 .1 8.4 0-4.4 .1-8.9 .5 9.7 .2-7 .3 11.7 .3-10.2 .5 14.5 .1-2.8 .2 3.6 .2 5.7 .2-9.3 .2 18.2 .4-1.6 .2-8.9 .2-1.8 .1 4.9 .4 15 .2-19.1 .3 12.9 .4 6.7 .2-6.4 .2 10.7 .1 3.8 .4 6.9 .4-15.3 .2 13.5 0 4.2 .3-13.5 .2 10.4 .3 12.9 .4-1.3 .2-6.3 .2 3.9 .3 12.1 .3 17 .1-9.9 .2-1.5 .2 13.7 .5-7.7 .2 13.8 .3-2.5 .2 7.1 .3-.4 .2 7.2 .1-3.7 .3 7.8 .5-4.6 .1 6.3 .1-2.6 .2-5.6 .6 8 .1-7.5 .4 .6 .1-10.8 .2 2.8 .3-13.6 .2-3.1 .2 10.6 .5-3.2 .2-7.9 .1 19.5 .3-18.1 .1-3.3 .4-17.1 .4-5.2 .2 7.6 .3-2.3 .1-12.4 .1-2.4 .4-9.5 .4 11.1 .2-13 .3-.4 0 8.1 .3-2.7 .1 8.2 .4 14.7 .1-13.7 .3-1.6 .2 12.2 .3-8.7 .2 8.2 .5-7.4 .2 13.6 .3-1.5 .2 4.5 .1-6 .5-15 .1-10.4 .4 22 0 9 .5-14 .2 .9 .2 6.5 .2-1.2 .2 9.1 .5-6.5 0 7.2 .4-4.6 .3 13 .2-8.2 .3 12.5 .1-5.1 .4-4.7 .1 10.1 .1 7.3 .4-4.2 .2 4.6 .3-4.2 .2 11.4 .5 11.2 .2-15.6 .2 3.2 .3 17.4 .1 0 .2 9.2 .4 2.6 .2 4.1 .2 7.3 .2 13.8 .4 9.9 .1-10.6 .4 13.5 .3-14.5 .1 5.3 .4 9 0-6.6 .4 14.1 .1-6.6 .3-9.3 .5 0 .1-4.2 .1 .3 .4-9.2 .3 2 .2-9.3 .2-6.9 .3 9.7 .3 3.8 .1-6.6 .2-5.5 .2 18.6 .6-8.6 .1-7.9 .2 11 .4-9.9 0-.5 .5 9.4 .4-7.7 0 10.8 .1-2 .3-8.2 .2 6.6 .5-14.3 .2 3.4 .2-8 .2-3.9 .2 11.5 .3 1.5 .3-20.2 .2-4.2 .2 7.7 .2-1.3 .2-12.8 .3 8.5 .5-4.8 .1-.8 .3-8.4 .1 .8 .3-13.3 .6-2 .1 9.8 .1 6.6 .1-9.8 .5 10.8 .3 12.2 .3-2.2 .1-4.3 .3 1.2 .2-5.1 .2 6.3 .1-11.4 .3 10.6 .1-8.4 .5 .2 0-8.7 .4 9.9 .5 9.6 0-2.4 .4 16.9 .4-11.1 .1-3.3 .1-3.3 .5 12.6 .3 9.4 .1-13.9 .3 5.4 .2-12.1 .2 6 .3-10 .2-3.8 .1 10.5 .3-1.9 .2 17.9 .3 1.7 .5-19.1 .2 3.3 .3-7.2 0 1.9 .2 11.4 .4 2.1 .3-6 .4-12.6 .2 15.3 0 1.2 .2-10.1 .6 10.2 .2-17.3 .2-1 .1 6.6 .3-4.8 .2 4.8 .3 3.1 .2-8.8 .2 5.3 .1-6 .6-1.4 .2 20.4 .1-9.8 .2 8.1 .5-7.1 .2 11.6 .1 3.2 .3-14.8 .2 1.4 .1 9.2 .7 4.9 .2-14.9 .3-.9 .1-7.7 .2-4.4 .3 7.8 .3 .9 .1-9.3 .4 1.2 .1-5.7 .3-4.3 .2-6.8 .2 6.7 .4 21.7 .2-18.6 .4 16.8 .1 1.2 0-6.3 .4 .1 .3 12 .2-3.9 .4 11.8 .4 8.3 .1-3.2 .3 2.9 .1 13.2 .3 1.6 .2-8.2 .3 8.6 .1 9.9 .3-5.9 .1-13.5 .5-.4 .3 8.4 .2 3 .1-10.7 .3 4.5 .5 12.2 0-8.2 .4 10.5 .2-2.8 .2 10.4 .4-16.9 .3 16.5 .2 1.5 .2-6.1 .2-6.3 .3 18.1 .2-6.2 .1 6.2 .3-8.3 .1 17.6 .5-16.1 .2 7.2 .3 1.5 .1-11.4 .3-.2 .5 11.8 .1-3.9 .2 4.9 .3 12.7 .3-13.9 .5-1.7 0 9.1 .4-1.7 .1-3.2 .3-1.5 .2 6.4 .2 9.6 .3-26.4 .3 5.9 .1-7.6 .3 3.6 .4-20.5 .1 14.3 .4-22.2 .1-2.1 .3 20.1 .2-5 .4-7.5 0-3 .3-10.9 .5 8.8 .1-4.4 .4-.9 .1-7.3 .3 10.2 .2-8.6 .3 3.3 .2-9.4 .4-6.2 0 13 .4-19 .3 15.2 .1 9 .3-18.5 .5 11 .1-10.6 .4 1.5 0 8.2 .2-4.9 .3-6.3 .1 .4 .5 13.6 .4 5.9 .1-16.5 .3 5.2 .1-9.4 .3 4.8 .2 5.8 .2 8.5 .1-3.8 .4 7.2 .1-6 .3-.7 .5 12.1 .4 10.4 .1-10.9 .1 4.3 .1 9.1 .3-9.4 .1 10.5 .7 6.6 .2-4.2 .2 2.1 .2-8 .1 6.4 .5 11.2 .2-.5 .2 5.7 .2-5.2 .3-9.1 .2 8.8 .1 8.2 .3-2.4 .2-13.1 .4 7.9 .1 13.3 .3-3.1 .4 9.1 .2 2 .3 5.2 .1-3.9 .3-4.9 .2 4.1 .4 5.7 .3-4.2 .2 8.2 .3-7.1 .2 4.2 .2-4.5 .3-3.3 .2 2 .1-6.9 .4 3.3 .2-4.2 .2 2.4 .1 7.6 .4-2.7 .5 10.2 .4 3.8 0-5.7 .1-.2 .4-7.3 .4 1.8 .1-2.9 .3 4.1 .2 3.6 .4 3.3 .2-11.4 .2 .8 .2-6.8 .3-1.5 .2 6.3 .2-.3 .2 1 .2-2.1 .5 3 .1 2.7 .3-8.7 .2 5.8 .1-6.3 .5 6.4 .3 14.5 .4-11.9 0 3.7 .2-2.2 .3 9.3 .1-.9 .5-9.4 .4-1.6 0-4.3 .3-2.1 .1 6.2 .3-1.3 .2 6.9 .2 2 .3-9.1 .3-5.2 .4 10.2 0 1.9 .5-5.3 .4-2.1 .1 7 .1-3.4 .3 4.5 .4-1.5 .1 8.2 .3-1.6 .3 4.9 .3 3.5 .2-12.7 .3 0 .1 3.4 .3 4.9 0-4.9 .4 1.2 .2 4.1 .2-.1 .1 7.4 .5 .2 .4-5.8 .1-3.5 .4 10.9 0-2 .1-2.6 .4-.3 .5-2.3 .3-.4 0 3.8 .2 0 .4-6.6 .3-3.5 .2 4.5 .2-2 .3-3.6 .2 6.8 0-3.4 .7-2.4 .2 4.9 .1 1 .3-3 .2-2.4 .4 3.8 .1 2.7 .4-8 .1 4.1 .3-3.1 .1 0 .4 4.9 .3-.9 .3-2.8 .2-1.7 .1 3.2 .3-.4 .1 3.5 .4 .1 .3 3.7 .2 1.9 .2-2.4 .2-1.5 .2-4.8 .4 4.7 .3 5.3 .2-5.6 .3-2.1 .5-.6 .1 3.3 .4-1.9 .1-6.3 .3 1.9 .1-4 .4 5.6 .2-6.8 .2-7.1 .2 4.4 .2 1.2 .2-3.8 .3 .5 .2-4.2 .3 .6 .1 7.2 .5-1.3 .2-4.9 .1 .9 .4 8.6 .2-.8 .1-9.1 .4 9.7 .3-6.8 .4-2.3 0 6.9 .2-7 .3 11.6 .4-3 .2 1.5 .2-.1 .2 3.1 .4 3 .2-10 .2 7.9 .2-3.6 .4 .1 .1 7.5 .2-8.4 .5-6.7 .1 3 .1-6.3 .3 1.7 .5-8.4 .1 1.8 .3-13.1 .4-3.5 .1 5.1 .1 7.3 .5-8.8 .2-1.8 .2 8.3 .2 4.5 .3-12.4 .2-1.3 .2-6.9 .2 3 .3 4.8 .4 11.3 .2-17.6 .3 4.1 .3-19 0-1.5 .4 13 .2 .6 .2-3.8 .2 .2 .1-6.2 .4 14.9 .4-15 .3-4.7 .2 14.4 .2-1.3 .3 8.9 .2-5.9 .1 15.9 .3 1.1 .3-10.4 .2-4.7 .1-3 .4 10 .4-8.4 .3 7.8 .2 5.5 .1 .8 .4-7.4 .4 1.4 .2 6 0 5.8 .4-18.1 .1 1.2 .5 18.3 .3-5.2 .1-13.9 .4-8.9 .1 18.9 .2-6.8 .2-6.3 .2-2 .2-8.5 .3 8.9 .5-10.3 .1 3 .4 8.4 0 3.6 .3-14.8 .2 4.2 .4-9 .2 3.2 .4 16.6 .4-12.4 .1 10.6 .2 1.6 .1-8.7 .3 7.1 .2-5.8 .3 6.9 .2-5 .2-2.5 .5-10.6 .1-5.2 .2 10.1 .3-6.5 .4 6 .2-2.1 .3 8.9 .1-14.2 .4 12.9 .1-4.4 .4-9.8 .3 7.9 .1-10.7 .4 6.3 .1 15.6 .2-10.5 .2 11.2 .3 0 .1-18.2 .4 14.4 .2-6.4 .3 1.5 .2 6.3 .2 1.1 .2-4.2"/><path stroke="#0080ff" d="M85.3 164.2l0 1.6 .4 .4 .1 8 .3 3.4 .1-15.9 .6 3.1 0 4.8 .2 4.6 .5-10 .2 1.4 .2-4.6 .2 10.5 .3-13.4 .1 2.5 .5-10 .1 5.1 .3-12.2 .2 4.1 .4-8.9 0 .6 .3-16.1 .6 6.2 0 7.3 .2 3.2 .2-10.8 .4 4.2 .1 10 .4-9.7 .1-10.2 .5-9.4 .2 7 0 4.5 .4 9.4 .2-4.2 .3-5.9 .2 7.7 .4 10.9 0-2.7 .3-4.2 .5-6.7 .2 16 .3-.7 .1 3.8 .4-5.8 .1 8.2 .3 3.5 .2 6 .2 1.2 .2-9 .2-2.8 .5 5.9 .2-9.8 .3 10.9 .1 2.7 .4-10.5 0-.4 .1-8.3 .8 19.5 .1-19.6 .1 11.3 .4-6 .2 8.6 .1-7.6 .4-2 .1-5.7 .3-1.9 .2-8.2 .3 9.5 0-8.6 .6 15.2 .3-9.3 .2-8.9 .3 9.3 .1 5.3 .3-11.5 .1-2.9 .5 18.9 .1 1.6 0 12.1 .4-12.2 .4 20.3 .3 5.5 .1-10.2 .5 7 .2 5.9 .3-3.6 0 4.2 .4 9.1 .2-8 .2-4 .2 19.6 .2 1.7 .1 11.6 .4-1.5 .2-15.7 .7 4 0-9.8 .1 6.5 .4-8.9 .1-3.7 .5 15.4 .3-5.5 .1 7.8 .4-7.8 .2 9.6 .2-6.3 0 6.9 .4-16.8 .2 8.6 .3 2.6 .2-9 .2-4 .2-5.4 .4 2.6 .2 8.5 .2-16.9 .5 10.8 .1-7.9 .4 7.1 .1 5.2 .2-6.3 .5 3.2 .2 8.2 0-3 .4-7.4 .4 7.4 .1-12.3 .3 10.2 .2-6.3 .3 2.4 .2 16.9 .2-4.6 .1-20.7 .5 10.8 .3-3.8 .1 4 .4-11.7 .4 .8 0-5.3 .2 11.2 .4-14.6 .1 2.4 .4 7.7 .1 3.9 .3-8.4 .3 8 .3-6 .2 12.9 .2-4.3 .4 5.9 .1 6.7 .2-.9 .2-13.3 .3 11.5 .4 8.6 .1-2.4 .3 10.2 .2-3.9 .4 16.5 0-5.2 .2 9 .4 1 .2-13.6 .2 5 .3 6.5 .6-6.1 .1 11.3 .4 4.4 0-10.9 .2 11.7 .3-5.6 .3 2.7 0 8.1 .3 .7 .2 .9 .3 2.6 .5-10.9 0 4.1 .2 5.7 .3 3.9 .4 11.2 .1-9.2 .5 17.8 .4-8.9 .1 5.2 .2 11.2 .2-10.5 .1 4 .3-14.5 .4 8.8 .1 12.9 .3-4.4 .3-7.3 .2 7.8 .2-9.2 .4 8.5 0-6.1 .3 2.6 .1-17.5 .6 3.6 .3 9 0-7.7 .3-10.3 .2 2.6 .3-11.5 .5-7.9 0 7.9 .5-10.9 .1-12.1 .3 12.3 .1 11.4 .4-2 .1-18.2 .3-.4 .2 10.8 .2-1.2 .1 6.7 .7-9.2 .2 6.8 .2 1 .3 8 0-6 .4 9.6 .2-5.2 0 9.6 .4-4.9 .3-14.3 .4 15 .2-8 .5 5.6 .1-5.6 .3 6.9 .1-5.5 .3-1.6 .2 8.3 .2 5.4 .2 9.3 .3-7 .4 14.9 .2 .8 .3 7.8 .1 1.2 .3-9.1 .1 6.3 .4-7.4 .1 9.7 .4 11.9 .4 5.5 .2-6.2 .3 9.2 0-12.5 .4 9.1 .2 8.8 .2 5.8 .2-11.7 .3 4.4 .2-4.7 .2-.2 .3-13.8 .3 7.6 .1 3.6 .4-1.3 .1 4.9 .3 1.1 .5-11.9 .1-2.3 0 9.6 .4-5.9 .3 7.8 .5-11.9 .2 12.6 .2-11 .2-13 .4-.3 0-8.2 .5 15.6 .1-12.3 .2-4.3 .1 7.9 .5-5.1 .1-3.7 .2 6.2 .2 12.1 .4-7.9 .3 8 .1-2.6 .4 14.7 .2 .7 .3-6.7 .4 5.1 .1 9.7 .1-.1 .3 7.3 .4-2.6 .2-11.9 .2 5.7 .1 4.3 .4 3.4 .2 9.5 .4-3.2 .1 20 .4-8.4 0-9.8 .4 5.2 .3 8.3 .1 0 .4 5.8 .2-3.1 .2 15 .3-20.6 .4 10.9 0 2.4 .5-15.6 .2 12.7 .1-19.9 .4 10 .1-13.4 .4 19.8 .2-14.2 .2-1.5 .2-9.7 .2 2.4 .2 8.5 .4-.6 .4-9 .1 16 .1-22 .4 26.7 .4-13.4 0-.3 .3 10.6 .2-6.4 .4-5.8 .1 .9 .5 4.8 .2 10.9 .1-8.5 .5 6.3 .1-5.5 .4 11.5 0-8.5 .3 15.7 .2-16 .4 2.7 .2 4.5 .2-3.8 .4 10 .1-3.8 .3 5.5 .1 1 .4 2 .1 8.2 .5-13.3 0 3.3 .4 6.3 .3-7.7 .2 11.5 .4-1.7 0 11.7 .4-2.2 .2-8.7 .1-8.4 .2 7.4 .3-6.3 .2 8.9 .3-9.8 .5-19.6 .1-.2 .1-12.6 .3 14.9 .1 20.7 .7-1.7 0-11.8 .2 8.6 .3 6.8 .5-5.5 .1 5.9 .3-10.4 .1-12.3 .3 2 .2-6.4 .3 6.2 .2 7 .3 4.1 .1-15.4 .5 6.1 .2-2.7 .2-2.7 0 4.4 .4 3.9 .2-13.6 .6-9.3 .1 6.3 .2-6.3 .2 4.3 .5-10.6 .1 13.5 .3-10.5 .1-7.2 .3-1.9 .3-19.4 .2-.7 .1-15 .4-1.4 .4 9.1 .1 2.1 .4-11.5 0-8.6 .4-11.8 .1 11.4 .5-10.2 .1-3 0 10.8 .4-9.1 .4 12.8 .4-2.3 .1-9.5 .3 5.1 .2-14.4 .2 4.2 .2 6.2 .4-1.8 .2 7.2 .2 .3 .2-5.8 .4-2.2 .1 7.5 .3-1.5 .1-4.6 .4 1.5 .1 12.3 .4-7.9 .3-2.9 .1 1.4 .4-11.2 .4 2.3 .1-6.6 .3-3.1 .3 14.6 .2 5.1 .2-7.8 .2-.6 .3-10.2 .2 6.9 .2-13.5 .3 13.8 .1-10.6 .4 5.1 .2-6.7 .2 1.7 .4-14 .5 6.2 0-8.8 .2 2.2 .3-13.9 .1-3.8 .4 11.4 .5-2.6 .1-6.9 .3 4.2 .1-4.8 .4 5.8 0-12 .4 .7 0-9.5 .5 8 .1-10.2 .2 9.5 .1-13.9 .6-4.6 .3 24.8 .2 1.1 .2-8.4 .4-.4 .2-11.4 0 13.2 .4 9.5 .2 1.2 .1-5.9 .6-4.2 .2 21.5 .4-5.3 0 7.3 .3-18.4 .2 16.7 .2 .1 0-15.4 .5 11.2 .2 7.2 .3-3.4 .1 12.4 .4 .8 .3 16.5 .2 7 .3-10.7 .4 7.9 .1-10.9 .1 8 .5 11 0 .7 .4-11.7 .3 3 .2 9.7 .4-1.3 0-10.1 .4 6.2 .2 5.2 .1-4.5 .1 15.6 .5 5.5 .2-23.8 .3 9.4 .4 24.7 0-3.7 .2-3.5 .3 3.9 .5 12.1 .4-7 0 14.7 .1-1.4 .4-8.6 .3 10.6 .1-11.2 .4-4.1 .2 14.2 .2 7.7 .2-12.5 .3 5.7 .2-9.4 .3 1 .1-9 .3 10.8 .2-19.9 .5 6.5 .3 2.3 .1-9.2 .4 8.9 0 9.7 .4-5.8 .1 6 .3 7.5 .4 2.1 .3-14 .4-2.5 0 7.7 .3 5.5 .2 7.2 .3 2.5 .1-10.3 .2 6.9 .3-12.6 .3-6.9 .4 10.2 .1 .7 .1 5.9 .4 4.2 .4-11.1 .4 .6 .1 6 .1-5.3 .4 15.8 .2 3.3 .2-11.7 .3 8.7 .2 6.1 .4-3 0 10.5 .4-9.3 .2 12.9 .2-2.6 .2-13.5 .3 3.5 .1 9.1 .4-10.2 .4 11.5 .4-11.2 .1 14.2 0 2 .1-7.9 .4-2.3 .5-11.7 .1 5.4 .3 9.3 .3-7.8 .1 6.9 .6-7.8 0-10.3 .3 6 .2-17.5 .2 .1 .1 8.7 .5-3.4 .1 5.8 .3-1.6 .4-28.6 0 8 .2 5.9 .4-16 .1 12.5 .4-6.3 .2-11.1 .3 6.8 .4-7.3 .3-6.6 .1 10.2 .4-6.6 .1-8.2 .3 5.2 .1 11.3 .3-6.3 .2 9.5 .3-15.3 .1-7.6 .3 3.6 .2 9.5 .3-2.2 .1-9.2 .6 19.8 .2-10.7 .2 .3 .4 5.9 0 1.7 .5-7.3 .1 2.5 .3-8.8 .1 6.2 .4-11.3 .3 11.3 .2-5.7 .2 9.8 .2-7.5 .3 6.7 .2 4.2 .2 6.5 .5-16.6 .2 5.4 .2-6 .2 4.2 .4-13.6 .1-9.8 .3 29.1 .2-6.8 .3 7.5 .2-11.8 .2 11 .4-5.3 .2 8.1 .5 4.9 0 3.1 .2-3.1 .3 9.7 .3-.5 0 8.9 .4-2.3 .1 13 .4 .3 .4-9.9 0-2.5 .5 7.6 .1-6.9 .3-2.3 .2-3 .3-12.5 .4-9.5 .1 19.5 .2-10.8 .2-10.9 .4 2.6 .3 12.2 .2 1.5 .2-13.2 .2 6.6 .2 6.5 .4-12.9 .1 7.6 .2 0 .3-9.9 .3 2.6 .3-5 .2 3.9 .3-5.9 .3 0 .2 4.8 .2-4.5 .3-12.4 .4-7.2 .2 12.8 .3 2.9 .2-11.8 .2 7.4 .2-21.2 .2 12.3 .3 9.7 .3-4.6 0 10.6 .3-10.6 .2 9.8 .3 .5 .1-16 .4 3.9 .4 9.7 .2-6.5 .3 6.7 .1-7.2 .3 16.9 .2-4.5 .1 8.5 .4-4 .2 9.1 .3 .9 .4 7.3 .3-5.5 .2 11.3 .2 5.2 .3-11.3 .2-1.6 .1 11.7 .3-10.5 .2 8.2 .3 .7 .4-8.9 .1 6.3 .5-7.2 .2 .5 .2 7.1 .5-9.3 .1-6.6 .3-1 .1 7.5 .3 .6 .1 12.4 .4 .4 .1-9.5 .4 14.1 .2-6.2 .2-2 .2 15.8 .2-14.3 .2 3.3 .4 .7 .4 5.9 0-6.8 .1 7.9 .5 8.7 .4-11.3 .1-3.8 .2 14.4 .3 4.2 .4-15.2 .3-6.4 .2 10.6 .2-.4 .1 5.6 .4-5.3 .2 6.3 .2 8.8 .1-8.1 .5 3.3 .1-6.6 .5 2.7 .2 8.2 .2-7 .3 9.2 .1-.2 .4 10.3 .1-5.5 .3-9.5 .2 5.8 .3-8 .4 16.8 .2-9.9 .2 6.1 .2-16.1 .4 15.7 .1-8.9 .4 .6 .1 10.5 .2-1.9 .2-15.9 .4 1.1 .1 13.1 .3-1.5 .2-13.3 .2 6.8 .2-11.4 .7 12.2 .1-14.6 .3 14.5 .1-8.9 .1 5.3 .3 11.9 .2 .2 .4-6.3 .4-.3 .1 12.3 .2-.7 .2-10 .3 4.9 .1 24.3 .6-13.7 0-16 .4-2.7 .3 7.7 .1 10.9 .1-15 .4 2.5 .3 12.6 .1-8.7 .4 9 .1-2 .5-9.2 .3-4.9 .1 3.9 .3 9.8 .3-4.2 .3-2.2 .1 5.6 .2-.8 .2 8.1 .3-2.4 .2 7.5 .3-3.7 .2-10.7 .4 7.2 .2 6.5 .1 1.2 .2 13.8 .3-4.9 .5 17.7 .1 3 .3 10.3 .1-6 .5 9.9 .2 17.9 .2-20.5 .3 .1 .2 4.9 .4 1.1 .1-12.6 .3 3.6 .1-10.3 .3 10.2 .2-9.8 .3 7 .2 19.1 .4-23.4 .2 14.3 .2-4.7 .3-9.8 .1 1 .1 9.2 .8 .4 .1-17.1 .3 1.2 .1-9.6 .3-2.1 .1 6.7 .4 1.3 .2 16.8 .2-6.7 .3-14.3 .2-.9 0 16.3 .4-8 .3-7 .3 7 .3-20.2 .3 7 .3-7.1 0 11.3 .4-15.8 .2 5.1 .3 3.3 .2 3 .2-12.2 .2 10.1 .5-16.2 .2 3.4 .2 9.2 .3-4.4 .1 6 .4 2.8 .1-12.3 .2-2.1 .2 10.8 .4 3.8 .2-16.8 .3 5.4 .4-10.6 0-9.7 .4-13 .1 9.9 .4-9.3 .4 11.1 .1-9.2 .1 6.6 .4-20.4 .5 8.8 .1-6.6 .3-.7 .1 7.6 .3-8.6 .2 11.8 .2-3.1 .2 8.7 .4 6.1 .3-8.4 .2-1.1 .3-10.9 .2 9.5 .3-17.5 .1 2.7 .2 11.1 .2-7.6 .5-8.9 .1 4.5 .3 7.9 .1 2.9 .3-14.4 .6 1.6 0-5.9 .2 2 .2 8.9 .3-1.3 .2 13.5 .4 1.3 .3-12.9 .1 2.4 .1-9 .4-.8 .4 8.9 0-4.7 .5-10.1 .1 3.6 .3 11.9 .1-4.6 .3-12.5 .2 6.5 .5-20 .2 3.7 .3 18.5 .1-6.2 .2-12.4 .4-6.1 .2 11.8 .2-1.2 .1 2.2 .4 3.8 .2-7.5 .4 1.4 .3-8.2 .2 3.9 .2-10.3 .4-7.9 .2 9.6 0-12.9 .4 8 .2 5.4 .3-10 .4 9.7 .2-10.8 .2-4.6 .2 7.5 .2 5.2 .2-17.6 .3 3.3 .2 10.2 .4 7.2 .3-9.9 .2 3.2 .2-1.7 .1 7.7 .5-17.1 0 9.3 .5 23.1 .1-6.2 .3-6.2 .1 2.5 .5 18.9 .3-6.9 .2 10.3 .3-7.3 .1-5.7 .2 3.8 .1-12.7 .4-.8 .3-5.2 .2-5.5 .1 8.6 .4 6.1 .1-12.7 .3 19 .1-13.4 .5 8.3 .3 6.5 .1-7.3 .4 9.1 .2-4.9 .4 12.4 .1 5.4 .3-8.7 .4 2 0 11.8 .4-12.4 .2 11 .3 3.7 .1-5 .3 8.6 .2-5.8 .2 .4 .2-8.4 .4 8.2 .1-13.5 .3 2.4 .2 7.1 .3 5.3 .5-18.1 .1 9.6 .3-10.3 .1 5.7 .4 13.5 .5 4.4 .1-6.5 .2-2 .2 5.9 .2-2 .3 24.6 .3-10.6 .1-9.7 .3 4.7 .1-12.1 .4-3 .2 16.5 .3-.6 .3 10.5 .3-16.7 .2 16 .1 7.7 .5-9.4 0 1.3 .3 11.4 .6 3 0-3.4 .4-5.9 .1 6.4 .3 7.1 .2 13 .2-5.1 .1 11.4 .4-5.8 .1-12.1 .5 8.6 .3-6.1 .1-4.5 .3 13.8 .1 6.5 .4-16.2 .2 11.1 .3-10.4 .1 2.3 .3-10.6 .2-.9 .3 19.5 .4-2.5 .3 11 .2 1.7 .2 4.4 .3 .1 .1-3.5 .3 2 .2-18 .3-.9 .1 5.6 .4-9.6 .2-7.8 .2 5.4 .4 10.1 .1-4.6 .1 8.6 .5-7.1 .4-10.8 .3 1.4 0-13.9 .2 14.3 .4-12.5 .4 9.3 .2 18 .1-13.8 .3 8.3 .4-4 .1 12 .2 1.7 .2 2.7 .3 6.9 .2-15.6 .6-5.3 .1 6.8 .1 3.7 .4-6 .3-6.8 .2 15.4 .3-3.9 .2 8.2 .3-1.6 .2-9.9 .2 2 .3 20.8 .2-8.8 .2-7.4 .2 7.6 .3 10.3 .2-7.2 .2 11 .4-3.8 .3 10.2 .2-6.9 .3 11.1 0 6.3 .2-14.2 .7 4.9 .1-9.7 .1-2.2 .3 8.9 .4 5.5 .2-7.5 0 2.5 .4-10.7 .3 4 .2 12.4 .2-5.7 .2-12.7 .4 9 .1-10.3 .3-.5 .2-8.3 .2-5.4 .1 17.5 .5-10 .4-12.7 .1-1.8 .3 13.7 .1-9.3 .4 10.2 .1-2 .1-9.6 .7 14.4 .1-8.3 .3 6.4 .3-9.1 .2 7.3 .2-7 .2 18 .3-13.9 .3-5.1 .1 8.6 .3-15 .2 15.6 .3-11.5 .1 5.3 .3-8.5 .4-12.5 .2 8.6 .1-5.6 .6-3.8 .1-7.9 .4 .9 0 7.7 .2 6.3 .5-10.3 .2 1.1 .2 4.5 .3 2.5 .1-5.6 .4 4.2 .2-7.3 .2-.9 .2 19.9 .3 9.5 .1-9.1 .5 10.3 0 8.4 .4-15.5 .3 9.7 .2 .1 .4 14.4 .1 10.2 .4-19.3 .2 .4 .2 9.1 .3 11.3 .1-13.4 .4 14.5 .1-9 .3-1.9 .3 11.7 .3-.6 .1 10.2 .4-2.7 .3 5.9 .1 1.5 .3 5 .1 .1 .2 7.8 .3-2.8 .5 16.3 0 .2 .4 7.6 .1 6.7 .4-9.4 .5 7.2 .1-9 .3 6.8 .1-7.5 .3 9.7 .1-7.8 .4 10.1 .1-7.6 .2 .1 .2 6.9 .3-4 .5-11.2 .2-3.8 .2 6.4 .3-11.2 .2 6.4 .2 4.7 .4-11.1 .1-3.9 .2 16.1 .5-8.5 .1-11.8 .4-.7 .2 11.9 .2 1.8 .2-8.5 .3-.1 .1 5.2 .4 4.8 .1-7.6 .2 4.9 .2 6 .4-4.7 .4 15.5 .2-11.2 .2 6.7 .2 0 .4-6 0 .7 .5 11.2 .1-1.7 .4-8.4 0 3.8 .3 7.6 .4-.7 .1-8.8 .3 16.2 .1-14.6 .4 5.1 .2-3.8 .2-1.9 .5 10.9 .1-1.6 .2-5.4 .4 6.5 .3-11.5 .1-1.5 .3-12.3 .2 4.4 .3 12.8 .2-1.4 .2 13.7 .2 1.2 .5 5.3 .4 7.1 .1 2.3 .1-2.2 .2 8.8 .3 4.5 .1-11.1 .4-2.4 .2 10.6 .3 8.1 .4-20.5 .2 5 .3-6.4 .1-1.2 .4-12.3 0-10.7 .1 9.9 .4-4.2 .5-8.8 .1-6.5 .4-8.6 .2 2.7 .2-3.9 .3-3 .1-8.2 .3 6.5 .2 7.4 .3 7 0-17.8 .4 7.2 .2 5.5 .5-5 .1 5.7 .3-3.7 .3 8.2 .1-11.7 .1 9.6 .5-5.8 .3-8.6 .1 8.7 .4-7.2 .3-9.2 .2 19.5 .3-2.5 .2 4.3 .3 12.4 .1-18.3 .4 2.3 .1 8.3 .5-8.4 0 5.4 .3-15.3 .4 12.9 .2-.2 .3-11 .1-2.4 0 9.1 .7-11.8 .1 5.6 .4 2.4 .1 11.3 .4-4.3 .1-8.5 .1 9.8 .2-13.1 .5 3.7 .2 13 .2-5.1 .2-8.5 .3-2.6 .2 13.6 .3 6.1 .1-8.7 .4-4 .1 17.3 .4-2.4 .3 3.6 .1-5.2 .5 11 .1-2.1 .3-1.6 .1-3.1 .3-12.6 .2-2.9 .4-11.8 .5-3.5 0 12.6 .3-3.3 .1-9.9 .3 5.5 .1-14.4 .3 5.9 .2 7.2 .3-4.5 .5-16.7 0 8.9 .5-9 0 8.9 .2-12.2 .3 11.1 .1-5.8 .8-7 .1 14.9 0 .4 .4-15.3 .4 1.8 .1 13.9 .3 .4 .2-6.3 .3 15.5 .1-13.3 .3 12.8 .2-8.9 .5 6.2 .2-10.8 .2 2 0 8.2 .3-1.3 .2 5 .4-10.1 .3 9.8 .4-.8 .1 11.5 .2 6.4 .4-12.6 .2 7.3 .1-5.9 .4-2.5 .2 12.2 .3-6.7 .2-9.3 .3-4.8 .1 10.2 .2 2.4 .3 19.4 .3-2.2 .2-14.9 .3-3.6 .4 7.5 0-3.2 .4-8.2 .1 .3 .1-9.5 .8 4.9 .1-7.7 0 0 .5 11 .3-10.2 .1 11.8 .3-6.6 .2 6.9 .2-2.4 .3-5.1 .2 2.1 .1 3.2 .3-7.1 .2 9.8 .3-3.1 .1 3.2 .5-.1 .1-22.9 .4 13.9 .4 6.6 .1 2.9 .4-14.3 .3 16.1 0-13.5 .4 5.4 .1-8.1 .4-5.8 .2 4.1 .3-10.7 .1 11.3 .3-7.4 .2 17.7 .3-7.6 .4-8.9 .1-9.7 .4 20.4 0 1.4 .5-21.8 .1-1.3 .3 10.9 .4-1.8 .2 14.9 .3-17.2 .1 10.4 .4-.2 .2-8.3 .2 1.5 .2 14 .2-6 .2 9.4 .4-1.7 .1 12.5 .3-10.6 .2 15.7 .3-.6 .1-16.5 .3-.2 .5 9.9 .4-7.1 0-3.1 .2 4.7 .4-8.6 .4 3.5 .1-6 .1-2 .3-5.9 .1-.2 .3-7.4 .4 8.8 .1-9.8 .5 7.8 0-2.9 .3-9.4 .2 17.7 .2-3.4 .1 13.7 .5-1.6 .2-14.3 .4-8.4 .3 9.6 .1-7.8 .1 9.6 .4-10.2 .3-15.6 .2 3.7 .3 7.2 .5-12.8 .1 13.7 .2-7.3 0-12.2 .5 11.8 .1-7.6 .3 4.7 .1-6.1 .4 5.8 .1 12.2 .6-12 .2 16.5 0-13.4 .2-8.1 .5-1.4 .2 14.6 .1-3 .1 11 .4-9 .5 11.1 .1 7.5 .2-11.6 .2 8.9 .5-12.2 .2-2 .1-7.7 .3-11.5 .3 16.7 .4-.5 0-10.2 .2 10.2 .5-9 .2 21.8 .2-19.5 .2 4.4 .4-11.4 0 6.4 .4 15.5 .2-11.1 .3-4.7 .4 7.7 .2-12 .3-6.3 .2 9.9 .3 10.6 .1-10.9 .2 1.4 .3-8 .3 5.3 .2-2.9 .2 2.9 .1-7.1 .3-2.5 .1 10.8 .4-8.9 .4-17 .1 1.9 .1 8.4 .5-16.2 .4 15.2 .3-8.7 .1 11.4 .4-3.8 .1 7 .1 6 .2-11.6 .6 8.5 .1-8.2 .3 4 .2-12.2 .2-1.5 0 5.5 .5-15.3 .1 11.1 .3-2.5 .4 10 .1-1.5 .2-6.9 .4-2.2 .3 12.8 .2-3.6 .3 7.7 .2 8.3 .4-6.1 .2 10.4 .3 7.8 .2-8.7 0-6.8 .5 1.2 .2 2.8 .3-3.4 .1 5.3 .4-2.4 0-7.2 .4 1.8 .4 19.2 .1 1.9 .3-22.3 .1 4.2 .4-5.6 .4 2.4 .2 9.2 0 3.2 .5-7.8 .3 1.4 .2 12.5 .3 8.5 .2-8.6 .1-4.8 .2 3.8 .4-3.5 .1 10.6 .3-5.4 .1 4.9 .5-4.8 .3-11.1 0 1.9 .4-15.2 .2 7.2 .3-9.3 .1 1.8 .4-5.2 .2-1.4 .3 11.7 .4-.4 .1 11.3 .1-7.4 .4 8.4 .3-13.5 .2 9.4 .3 5.3 .2-2.6 .2 .1 .2 12.9 .2-1.4 .2-12.5 .4 7.2 .1 5 .4 3.7 .1-5.8 .3 .9 .4-17 .2 15.4 .3-17.1 .2 1.8 .2 9.4 .4-9.8 .3 8.2 .2-12.6 .2 14 .2-10.3 .2 13.4 .3-10.1 .2-9.8 .3-1.1 0-5 .4 16.4 .3-12.6 .2 10.5 .5-12.9 .4-.1 0-5.4 .2 3.4 .3 20.2 .1-8.9 .4-15.4 .5-3.2 0 7.9 .4 .9 .2 12.2 .2-.7 0-7.2 .6 1.7 .1 7.7 .3 10.7 .1-8.4 .3 13.6 .1 5.4 .4 10.5 .1-18.8 .4 3.5 .3-4.5 .1 5.6 .1-6.1 .7 .7 .1 9.3 .2-3.5 .3 3.9 .5 5.1 .1-10 .2 14.7 .2-5.2 .3-4.2 .1 16.8 .4-3 .2-8.7 .3 5.2 .1 5.6 .3 7.1 .1-17.3 .4 6.9 .4 17.9 .2-10.5 .2 13.6 .4-2.7 .1 7.8 .4-1.8 .1-10.7 .5-2.2 0 10.3 .3-3.5 .1 12.5 .4-9.6 .2 8.3 .3 5.6 .1 10.3 .3 1.3 .1 9.6 .3-11.2 .5 12.5 .1-5.6 .3 9.1 .1 .3 .2 7.6 .7 1.8 0-10.8 .4 17.5 .1-13.3 .4 .8 .2 10.6 .2-5.1 .1-4.1 .4-1 .2 7.4 .3-10.8 .2-10.8 .3 11.4 .2-16.9 .1-2.4 .3 6.5 .2-5.2 .3 6.1 .3 8.7 .3-16.2 .1-2.8 .4-9.1 .4-3.8 .1 11.4 .1-4.2 .3-13.5 .5-6.1 .1 11 .4-2.5 .2-14.8 .2 .1 0 9 .4-4.3 .1 6.5 .4-1 .2 8.9 .2-1.9 .2 10.6 .4-15.8 .1 22.6 .4-27.5 .3 18.9 .3-5 .2 10.7 .1-8.3 .5-12.9 .1-10.9 .4 22 .3 5.6 .2-10.8 .3 2.6 .1 3.6 .3-5.4 .2 7.4 .2 8 .2-13.4 .3 8.7 .1 9.8 .4-10.4 .4 7.8 .1 .4 0-9.3 .6 6.2 .2 9.5 .2-6.5 .4 8.6 .1-3.9 .2 7 .6-.1 0-7.1 .3 7.8 .3 18.6 .1-5.2 .1 15 .5 .4 .2 7.7 .2 5.7 .2 29 .3-9.6 .1 5.6 .3-9.1 .2 18.8 .5-10.5 .3 6.6 .1-6 .3 10.1 .1 .3 .3-12.2 .6 1.8 0-7 .1 .8 .2-11.6 .6 3.5 .1-9.4 .2-1.3 .3 5 .2 1 .2-5.8 .2-2.9 .2 9.2 .4-6.8 .3-4 .1 7.4 .5-8.9 0 4 .2 12.4 .7-9 0 8.3 .2-1.8 .2-10.5 .2 .2 .5-9.5 .3 5.6 .1-6.4 .3-4.9 .1 6.1 .3-2.9 .3-14.1 .2-6.1 .2 9.4 .2-5.2 .1-6.7 .4 8.2 .4-8.4 .2 3.5 .3-6.6 .2-1.7 .2-6.5 .5-12.4 .2 9.7 .1 5.3 .3 6.9 .1-.1 .5 13.9 .2-.6 .2-5.5 .3 1.7 .1-7.7 .3 5.2 .1-6.6 .3 6.7 .3-6.5 .3 1.2 0-7.5 .4 4.7 .4 10.2 .1 4.2 .4 10.6 .4-6.8 .1-4 .1-3.9 .5 11.3 .4 11.2 .1-11.7 .2 4.7 .2-14.3 .2-.2 .3-13.9 .2 4.8 .1 4.8 .3-1.1 .2 8.8 .3 8.7 .5-17.2 0-9.1 .2 15.1 .5-5.6 .2 3.4 .2 2.5 .3-12.8 .2 5.2 .3 18.3 .1-11.5 .3-10.1 .4 9.5 .2-25.9 .3 7 .1 10.9 .3-13.6 .1 12.7 .5-6.7 .1-4.3 .3-8.3 .2 12.5 .4-6.5 .2 13.7 .2 6.7 .4-8.4 .1 2.5 .4 11.6 .1-2.3 .3-12.5 .1 15.1 .3-17.9 .5 24.5 .2-15.9 .2-4 .2-5.3 .2-.1 .1 3.8 .4 .5 .2-4 .2-.4 .2-7 .4-.4 .2-9.8 .2 6.2 .5 7.3 .2-5.1 .3 13.3 .1 4.8 0-8.2 .7 4 0 13.8 .2-10.4 .4 20.6 .5 10.4 .1-11.8 .2 2.7 .1 10.2 .4-1.6 .1 6.9 .3 2.7 .1 7.5 .3-4 .3-11.6 .2 4.3 .4-6.3 .2 12 .3-8.9 .1-1.8 .5 13 0-5.6 .4 7.5 .2-4.2 .3 21.2 .3-11.9 .3 7.8 .2-2.3 .2-10.4 .2 .1 .3 12.4 .2 12.4 .2-8.3 .5 1.8 .2-7.3 .3-4.3 .2 9.3 .1 10.4 .3-16.4 .1-.2 .2 8.3 .4-7.3 .2 7.7 .5 5.9 .1-9.5 .3-1.8 .2 11.5 .4-2.2 .1-6.1 .3 .3 .2 8 .2-.6 .2-15.4 .3 .3 .2-3.9 .2 3.6 .5-19.6 0 4.9 .5-15 .2 1.2 .2 7.3 .2 2.4 .4-6.6 0-2.5 .3-6.2 .5-1.3 0-8.8 .5-1.9 0 6.1 .5 6.1 .1-8.8 .4 .8 0-7.5 .3-8.2 .2 7.6 .4-7.7 .3 11 .1 5.8 .3-17.4 .5 15.8 .1-8.9 0 10.1 .5-12.4 .1 4.9 .3-7.3 .1 5.5 .5 6.3 .2 4.5 .3-18.2 .2 10.3 .2 6.2 .3-3.7 .1 2.8 .4 1.4 .2 8.6 .2 3.4 .1-6.2 .3-3.5 .1 11.6 .4-.4 .4 7.5 .2-1.8 .1 6.3 .3 0 .4-6.2 .5 16.6 .1-11.3 .3 5.1 .1-6.3 .1 .5 .5 20 .2-8.4 .2 10 .2 1.1 .2-9.4 .5 11.7 0-6.5 .2 13.6 .1-16.4 .4 1.6 .4 5.3 .1-1.8 .5 18.1 .1 4.6 .3 12.5 .1-18.9 .1 3.3 .5 10.7 .4-5.2 .2 4.2 .3 9.3 .2-11.1 .2 8 .2-4.7 .2-10.2 .3 2.9 .1 5.1 .4-2.6 .2-6.6 .3 14.5 .1-17.3 .3 14.6 .5 16.1 0 1.4 .4-11.4 .2 9 .3-15.8 .1-1.7 .4-2.8 .3-.1 .2 6.7 .4 7.8 .2-14.5 .2 3.3 .2-14 .2-2.4 .3 5.9 .3 1.2 .1-6.4 .2-.3 .3 10.5 .4 5 .2-13.2 .2 7.1 .3-7.1 .1 2.1 .3 8.9 .5 .2 .2-2.4 .1-2.5 .4 18.8 0 1.3 .5-16.9 .2-5.4 .2 5.1 .3-9.7 .1 11.3 .3-10.3 .2 21.5 .4 1.5 .3-16.1 .3-7.1 .2 11.4 0 4.6 .5-7.2 .4-5.2 .1 13.6 .1-4.2 .3 5.9 .1-3 .4 12.2 .3-3.3 .2 7.3 .3-4 .3-9.8 .1-1.4 .1 6.8 .5 5.1 0-6.9 .4-.2 .2 15.2 .3-5.4 .4 13.8 .1-1.4 .4-10.6 .1 3.6 .4 14.7 0-6.7 .1-4.6 .4 .3 .1-7.8 .7 7.1 .1-4.8 .1 2.3 .4-12.7 .3-1.3 .2 8.8 .2-5.9 .2-5.2 .5 6.6 0 3.4 .2 1.7 .2-7 .5 2.5 .2 6 .3-8.5 .2-2.5 .1 2.5 .4 4.4 .2-1.8 .3-6.8 .4-.3 .2 9.4 0-1.1 .5-4.3 .2 .1 .2 5.7 .2 1.8 .3-9.3 .3 4.7 .2 8.9 .2 3.5 .2-6.6 .2 1.1 .2-10.7 .4 7.3 .3 7 .2-5 .1-5.6 .3-1.8 .5 10.4 0-5.2 .3-7 .5 6.5 .1-10 .1 3.7 .4-13 .3-.4 .2 4.4 .3-.3 .2-6.6 .2-1.3 .2-13.3 .2 9.8 .5 12.2 .2 1.3 .2-10.6 .2-.5 .4 13.4 0-.5 .2-10.2 .4 10.1 .2-16.4 .5 7.8 .2 5.5 0-.4 .5 7.6 .4-8.4 0 7.8 .2-2.2 .2 9.6 .5-.7 .1-10.3 .2 7 .2-6.8 .4 3.9 .1 7.3 .4-7.8 .3-13.1 .1 3.8 .1-8.4 .3 11.4 .5-8.2 0 4.2 .5-16.4 .2-9.3 .2 6.8 .1 10 .5-16.9 .2 .5 .2 12.1 .3 2.7 .1-7.6 .3 .9 .2-18.3 .2 1.2 .5 7 .2 4.7 .2-11.7 .3-4 .3-7.4 .2-7.7 .2 12.1 .1-2.2 .4 10.6 .1-2.3 .4-11.3 .1 6.2 .3-5.2 .4-.2 .2 9.9 .2-2.8 .3 9.9 .2-2.1 .1 8.8 .5 2.6 .1-9.6 .4-4.5 .3 6.6 0 5.3 .5-14.8 .2 10.3 .2 11 .2-1.4 .4-15 .4 7.9 .1 10.8 0-5.5 .4-20.1 .4 6.5 .2 9.1 .3-.7 .1-6.5 .4-7.8 .1 7.8 .2 4.5 .2-9.2 .2-.8 .2-9.6 .3 8.8 .4-10.9 .5 13.8 .1-5.4 0 10.8 .2-12.4 .4-8 .3 7.4 .2-12.4 .2 19.6 .2 7 .5-14.8 .2 6.2 .1 10.9 .5-13.9 .1 6.6 .2-1.2 .2-4.2 .3 3 .1-13.1 .4 .4 .2 8.3 .2-4.9 .4 3.9 .3-1.7 .2 9.9 .2-5.2 0 5.2 .4-4.5 .1-10.3 .7 4.2 .1-8.2 .3 9.9 .1 7.9 .5-9.1 0 11.2 .3-7.6 .1-6.5 .4 10.2 .1-7.3 .4 1.7 .1 6.4 .4-2.2 .1 6.3"/><path stroke="#ff00ff" d="M85.4 157.8l.1 6.2 .2 0 .2 8.6 .2-.3 .2-15.1 .3-1.6 .2 16.5 .3 1 .4-10.5 0-2.8 .2 7 .4-1.2 .3-8.4 .1 1.7 .5-3.8 .1 6.4 .3-23.1 .2 12.5 .2-14.1 .5 4 .2-8.9 .4-4.3 0 6.7 .3 5.2 .2-7.4 .3-2.4 .1 10.7 .4-8 .1-9 .4 2.1 .1-12.2 .6 16 .1-4.9 .2 4.4 .3-6.2 .1 4.3 .4 15.2 .1-10.2 .2 14.3 .2-7.7 .5 6.8 .3 9.4 .2-12.9 .2-1.7 .2 10.1 .3 10.1 .1-7.2 .3 6 .2-11.8 .2-.1 .5 12.4 .2-17.2 .3 12.1 .1-15.5 0 12.5 .4-7.5 .4-4.4 .5 1.2 .1-7.8 .4 6 .1-10 0 6 .3 4.3 .6-8 0 5.4 .3-19.7 .1 11.9 .3 8.9 .1-22.6 .3 17.4 .3-10.3 .3 4.8 .4-7.3 .1 10.5 .4-24 0 7.3 .5 24.9 .1 9.5 .4-5.6 0-4.4 .4 19.7 .4-9.1 .1 12.5 .4 .3 .2 6.9 .3-3.8 .1-8.3 .2 10.2 .1 8.2 .4-10.4 .2 14.3 .3 11.9 .1-10.9 .3 10.9 .2-16.4 .4 5.7 0-12.8 .4 12.2 .4-10.1 .1-3.5 .5 15.9 .1-4.8 .3 12.9 .4-12.6 .1 9.2 .3-7.4 0 7.9 .4-15 .1 10.3 .4-7 0-9.1 .4-12.4 .3 11.1 .3 2.1 .1 8.8 .3-16.1 .2 4.9 .4-4.9 .4 15.8 .1-2 .3-6.5 .2 3.1 .4 15.6 .2-8.7 .3-11.6 .3 10.4 .1-18 .2 10.2 .1 4.1 .4 1 .1 1.3 .4 0 .1-14.9 .3-.7 .2 12.5 .5-13.4 0 15.2 .4-18.6 .3 7.2 .2 6.8 .3-12.3 .2-1.9 .2 4.9 .3 12.7 .3-16.7 .5 13.1 .1-9.5 .2 5.1 0 11.7 .4 4.5 .2-12.8 .3 12 .2-12.6 .2 4 .2 14.5 .3-9 .4 6 .1-.6 .5 18.5 .1-1.3 .1 3.4 .6-4.5 .1 8.1 .1-1.6 .3-7 .6-.3 0 10 .3 6.8 .1-14.3 .4 4.8 .1 7.1 .4 6.4 .1-4.7 .2 1.1 .2 10 .3-4 .5-10.6 0 .2 .5 8.1 0 .9 .4 8.2 .2-4.8 .4 11.4 .3-7.7 .2 10.3 0 3.4 .4-9.4 .3 4.4 .1-8.8 .4 6.9 .2 5.4 .4-5.3 .1 6 .2 3.3 .2-3.8 .4 2.9 .1-4.6 .2 3.6 .4-16.2 .1-.2 .4 7 .3-5.5 .1-6.6 .5-4.1 .1 16.8 .4-20.9 .1 8.9 .1-21.4 .5 10.2 .2-10.5 .2 22.4 .4-6.4 .1-10.9 .3-8.7 .1 9.6 .2 1.4 .5 7.7 .1-9.4 .2-8 .3 3.5 .3 14.7 .2-6.4 .3 11.8 .4-9.2 .1 6.3 .1-3.3 .3-18.3 .5 15.5 .1 6.4 .3-1.4 .3-5.4 .2 2.2 .2-6.7 .3 7.3 .2 6.9 .2 1.5 .2 9.5 .3-9.2 .4 12.9 0-1.4 .5 11.9 .1-12.4 .1 11.5 .3-3.8 .4 6.4 .1-3.9 .4 9.9 .5-.3 .1-3.8 .3 9.7 0-5.3 .4 8.2 .2 4.1 .2 7.8 .2-9.2 .3 .2 .2-10.2 .2 6.3 .3-16.4 .3 7.5 .3-2.9 .2 5 .4 7.9 0-7.2 .4 11 .2-16.6 .3 11.8 .1 1.7 .3-6.7 .6-.8 0 9.5 .3-12.4 .2-6.9 .4-9.1 .1 4.7 .3 8.2 .2-12.6 .2-.5 0 4.6 .5-1.3 .4 8.1 .2-4.4 .3 9.1 .1 2.3 .1-15.7 .4 11.8 .3 11.1 .4-1.7 .1 5.6 .2-1.4 .3 7.5 .1 1.6 .3-3.2 .4-1.7 .2 5.1 .3 7.4 .2-5.1 .3-4.4 .1 13.4 .3 3.2 .2 14 .3-1.5 .1-12.1 .5 8.2 .3-7.7 0 6 .4 17.6 .5 1.3 0-10.6 .1-7.2 .3 9.7 .2 6.2 .5-18.8 .2 6.1 .1-10.6 .4 2 .1-5.4 .4 12.7 .2-9.7 .2 5.1 .2-11.4 .3-4.2 .1 8.6 .3-7.4 .1 5.7 .5 .2 .3 9.1 .4-9.4 .1 7.4 .2-1.5 .3-3.3 .1 3.5 .2-6.4 .5-.5 .1 6.3 .4 8.3 .1 3.4 .5 1.9 .1-7.7 .2 1.7 .2 9 .3 10.4 .2-12.4 .3-8.4 .1 9.9 .4 8.2 .3-4.8 .2-4.8 .3 10.1 .4-2.6 .1-5.1 .1 3.3 .3 10.2 .2-7.4 .2 7.6 .5 3.7 .2 5.7 .3 1.5 .1 10.8 .4-8.7 0-3.3 .3-3.5 .2-6.6 .4 9.5 .2-13.9 .4 2.1 .3-14.5 .2 1.3 .2-6.9 .1 .1 .4 13.7 .4 11.5 .1-16.7 .4 18.5 .1-15.6 .1 15.6 .3-12.6 .4-2.8 .1-7.5 .3 2.7 .2-10.4 .4 11.3 .1 3.5 .3 11.2 .1-24.6 .3 12 .4-6 .2-4.5 .4 13.9 0-2.6 .4-18.7 .2-2.7 .4 7.3 .1-7.5 .2 7.3 .2-2.4 .3-12.9 .4 3.8 .1-2.3 .3-4.5 .3-22.2 .2-.7 .2-8.8 .3 3.1 .2-3.5 .3 4.9 .4-9.3 0-3 .4-12 .3 9.6 .2-10.1 .2 9.7 .4-6.6 0 2.4 .3 8 .5 1.9 .1-16.1 .3 4.1 .1-13.8 .5 7.5 0-4 .4-.1 .1 7.3 .4-5.7 .1 7.7 .3 4.8 .2-4.8 .3-1.7 .4 5.8 .1-.4 .4-7.3 0-4.6 .1 11.1 .4-6 .1 7.4 .7-15.9 .1 7 .4-10.8 .2 8.2 .3 7.6 .1-7.4 .2-1.1 .3-11.1 .2-2.7 .2 7.9 .2 3.9 .2-6.3 .4 7.2 .2-7 .3-.5 .4-18.6 .1 7 .3-7.8 .5 3.5 0-11.2 .1-2.9 .5 11 .4 5 .1-15 .3 6.9 .1-5 .3 5.9 .1-7.7 .4-1.4 0-11.2 .5 7.8 .1-8.4 .3 4.7 .4-7.2 .1-11 .4 24.6 .1 8.7 .3-9.2 .5-2.2 .1 10.7 .4-13.8 .1 8.7 .4-2.9 0 14.3 .4-17.6 .2 20.9 .2-2.6 .2 9.9 .3-8.5 .2 7.2 .2-2.7 0-10.6 .5 6.4 .2 11.2 .3-4 .3 8.5 .1 3.2 .5 14.4 0 6.3 .4-10.1 .4 7.4 .1-7.7 .1 2.9 .4 9.8 .4 5.1 .1-8.1 .3 4.8 .1-4.6 .5 5.9 .1-6.3 .2 4.1 .2-5.9 .2 5.1 .2 7.3 .4 5.9 .2-16.1 .3 5 .4 26.1 .1-2.4 .3 7.1 .1-4 .5 8.1 0 11.1 .1-9.7 .4 9.7 .4-12.2 .3 10.8 .2-10.4 .3-8.7 .2 14.4 .2 1.1 .2-7.4 .3 7.1 .2-7.4 .2-2.8 .3-9.7 .2 9.6 .2-14.9 .4 5.9 .3-4.7 .3-6.7 .3 20.2 .3 10.7 .1-16.7 .1 14.8 .3-4.2 .4 7.6 .3-8.1 .4-4.6 0 14.8 .2-10.7 .3 14.7 .3 2.5 .1-10.6 .4 5.3 .1-9.4 .2 17.3 .1-15.9 .4 1 .2 6.8 .4 10.7 .4-15.8 .1-3.6 .4 10.2 .1-14.9 .4 20.4 0-4.4 .3 9.6 .4-2 .1 7.4 .4-.5 .1 7.6 .4-10.9 .2 14.8 .2-6.2 .2-12.4 .2 14.3 .1-14.4 .5 14.4 .1-13.4 .4 8.8 .4 11.4 .1-2.8 .4-14.2 0 7.1 .5-15.7 .1 6.9 .2-8.1 .2 9 .4-4.1 .4 4.6 .1-7.1 .3 3.5 .2-11.7 .2-6.5 .2 7.7 .3-3.7 .1 8.5 .4-4.2 .4-15.1 0 2.8 .5-12.4 0 4.6 .5-12.4 .1 11.8 .2-9.4 .2 5.7 .5-8.8 .2-3.5 .3 5 .2 1.8 .2-13.9 .2 5.9 .3 6.6 .3-9.5 .1-9.8 .3 10.8 .2-10.3 .2-1.4 .5 17.6 .1-6.5 .3 11.2 .2-7.6 .1 16.2 .4-10.7 0-5 .5 .7 .2 5.5 .5-5 .1-11.5 .1 4.8 .3-8.4 .4 5.8 0 7 .4 8.3 .2-12.1 .3 11.9 .2-8.4 .2 10.8 .5-13.5 .2 17.8 .2-10.8 .2 4 .4-14.5 0 .4 .4 17.5 .2-10.3 .3 5.5 .5-9.6 .1 6.7 .2-1.8 .2 10.5 .3 10.9 .2-12.9 .3 9.1 .1 5.3 .4-4 .1 10.9 .3 0 .2 10.3 .2 3.5 .3-7.9 .6 0 .1-8 .1 4.7 .3-8.6 .2 2.3 .4-12.5 .4 .2 .1-3.1 .2-5.8 .2 4.9 .4-4 .2 12.3 .3 2.9 .1-10.5 .3 9.5 0-13.6 .4 8.9 .1-9.7 .3 6.3 .5-10.3 .2 3.2 .2-4.5 .1 4.7 .5-14.2 0 14.8 .2-10.6 .6-3.4 .1 6.6 .1-2.6 .3-4.6 .5 8.8 .2-9.7 .2 10.7 .2-18.6 .4-5.6 .1 13.3 .3-8.8 .2 6.2 .2-3.2 .2 12.2 .2 1.2 .2-10.1 .3 1.4 .4 6.2 .2-3.6 .3 10.2 .4 0 .1-6.3 .2 4.1 .4 14.5 0-6.6 .2 8.4 .5 3 .3-6.7 .2 5.2 .2 15.6 .3-3 .2-8.5 .3 7.8 .1-11.8 .2 .1 .5 14.1 .1 1.6 .1-6 .4-5.8 .3 6.6 .2 9.1 .4-15.9 .1 4.5 .2-6.2 .5-3.7 .2 10 .3 5.7 .1-5.9 .3 3.2 .2-4.5 .2 4.5 .2 11.7 .5 3 0-10.1 .2-5.8 .1 12.5 .6-2.2 .3 6.3 .2-8 .3 18.3 0-3.4 .5-14.6 .1 1.8 .4 10.7 .3 4.7 .2-14.9 .2-2.3 .3 9 .3 11.1 .1-11.8 .2-10 .2 20.4 .4 6.9 0-9.9 .4 5.6 .2-5.8 .3 10.1 .1-19.2 .3 9.8 .5 10.2 .1-9.4 .4 19.4 .1-13 0 10.4 .7-11.8 .1-6.1 .4 13.7 .1-16.6 .4 11.4 .1-11.6 .4 18 .1-16.1 .4 8.1 .1 9.6 .2 1.6 .1-14.4 .4-.6 .2 14 .5-18.2 .1 11 .2-1.3 .4-13.5 .2 12 .3-12.8 .3 14.6 .1-6.9 .1 1.3 .5 10.1 .2-6.8 .2 9.3 .4-9.3 0 10.3 .3 3.4 .3-9.9 .2 4.4 .2 14.6 .3-8.6 .2-6.6 .2 7.9 .2-10 .5 15.9 0-13.7 .4 6.9 .3 5.8 .1-5.9 .1 6.2 .5-3.4 .3-13 .2-.8 .3 15.6 .3 2.7 .3-10.4 .2 11.6 .1-17.5 .4 13.5 .2-5.7 .2-.5 .1 11.6 .4-10.3 .1 4 .5 5.7 0-4.1 .3 11.3 .4 9.9 .1-1.3 .5 16.1 .3-1.4 .1 5.1 .4-8.1 .2 15.6 0-.5 .2 16.9 .5-18.2 .2 11.2 .4-7.3 0-7.9 .3 1.5 .2-10.6 .3 5.6 .1-4 .4-.6 .2 17.5 .4-19 .2 10.1 .2 2 .3-6.5 .1-.3 .5 5.8 .1 1.5 .4-11.4 0 2.3 .4-12.7 .3-4.1 .1 13.3 .4-6.2 .2 22.6 .2-6.3 .1-15 .4 .4 .1 18.3 .3-9.2 .5-12.2 0 6.6 .4-19.1 .1 2.9 .1 11.8 .4-10.5 .2-6.2 .6 2.4 .1 7.3 .4-14.3 .2 15.2 .4-4.3 .1-6.1 .4 6.5 0-7.1 .3 11.8 .2-8.7 .3 3.6 .1-8.3 .2-1.2 .2 16.2 .4-11.5 0-16.6 .6 7.5 .3-14.4 0-1.3 .4-13.1 .2 7.5 .3-8.2 .2 4.8 .2 10 .2-5.4 .4-17.1 .4 5.5 .2-5.9 .3-2.6 .1 11.8 .3-8.5 .2 12.3 .2-.9 .1 7.7 .5 3 .1-11.7 .4 2.8 .3-14.1 .2 8.5 .2-5.6 .1 6.6 .5-11.8 .4 6.5 .1-9.3 .1 10.6 .2-2.9 .2 6.2 .5-10.8 .4-.5 0-9.8 .3 4.5 .1 12 .3-2.8 .2 9.2 .3 1.3 .4-8 .1 2.1 .4-11 .1 12.8 0-10.8 .4 2.9 .4-12.4 .2 5.2 .3 7.7 .4-11.1 0 11.2 .2-10.2 .4-16.2 .3 8.7 .3 14 .1-9 .2-7.8 .5-5.2 .1 11.1 .2-1.5 .1-7.3 .4 14.2 .4-15 0 13.3 .5-15.5 .4 5.1 0-10 .1 2.5 .3-7.9 .2-1.5 .4-3.7 .2 8.8 .3-8.1 .3 17.4 .3-12.2 .2-3.1 .2 7.3 .3 .3 .1-13 .3-5.6 .2 22 .5-2 .2-6.2 .1 .5 .2 11.3 .3 1.9 .4-8.3 0 .5 .5 20.1 .1 .1 .3-12.2 .1-.3 .5 17.7 0 10.8 .5-7.2 .3-3.7 0-9.7 .5-4.7 .1 5.1 .2-3 .3-6.3 .2-4.5 .2 8.7 .2 2 .2-8.5 .4 2.9 .3 17.5 .2 6.6 .1-8.7 .3-1 .1 13.4 .4-8.5 .3 11.2 .3-9.5 .3-3.3 .1-2.7 .5 11.1 .2-4.4 .2 14.4 .2-6.2 .3 11 .2 2.7 .2-10.3 .5-4.3 .2 10.1 .1 .4 .1-17.5 .3-.3 .2 12.1 .5 .6 .2-10.2 .4 .9 .1-2.8 .1 .5 .3 9.8 .2 2.3 .3-8.3 .4-.7 0 8.2 .4-6.2 .3 21.5 .4-14.2 .1 6.9 .2 0 .2-12 .5-.3 .2 16.5 0-5.4 .4 6.1 .3-9.9 .2 12.1 .2 4.6 0-10 .5 10.2 .3 10.9 .5-1.4 0-6 .3 2.5 .1-7.6 .4 9.6 .2 13.4 .3-6.2 .1 6.3 .3-.4 .1-15.9 .3 16.5 .2-13.1 .4-1.6 .1 9.5 .7-2 .1 6.7 .1 6 .4-18.1 .3-1.2 .1 7.3 .1-10.3 .4 15.6 .1 2.6 .5 12 .2 2.2 .2-7.7 .3-.8 .2 4.1 .2-2.4 .2-13.5 .3-1.5 .2-3.3 .3-9.3 0 3.7 .4-3.2 .4 13.2 .3-9.3 .2 8 .2-2.1 .4-7.1 .1 1.9 .4-12.4 0 9 .4-11.5 .4 3.4 .1 12.7 .2 .3 .2 8 .4 1.3 .1-9.9 .3 2.2 .2 9.4 .3 4.3 .4-7 .1 5.6 .1-8.3 .4 11.8 .4-8.4 .1-8.3 .4 16.2 .4-9.6 0 8.1 .4 .8 .2-8.3 0-4.1 .3 14.3 .4-4.3 .2 5.6 .3 5.8 .1-2.6 .3-1.2 .2 7.3 .4-2.4 0 11.4 .5-10.9 .3 9.8 0 2.9 .4-9.4 .1 4.1 .5-8.7 .1-3.1 .3 7.6 .4 4.4 .2-3.5 .2-11.1 .1 12 .4-9.4 .1 16.7 .5-20 .1 6.1 .3 .6 .2-10.9 .2 1.7 .2 3.5 .2-13.3 .1 19.9 .5-12 .4-14.2 .1-2.7 .3 12.5 .1-3.7 .1 6.3 .4 .5 .1-13.5 .7 11.4 .1-5.6 .5 5.9 .1-9.6 .2 4.5 .1 3.7 .4 7.6 .2-12.4 .3-5.2 .1 10.1 .3 .2 .4-12.4 .1 2.8 .1 8.3 .3-9.9 .1-8.4 .4 16.4 .5-18.3 .3-14.5 .1 12.4 .1-1.8 .3 8.6 .2-.3 .3-16.4 .5 9.5 .1 4.7 .3-1.2 .1-7.9 .4-1.2 0 13.1 .4-11.7 .2 14.3 .2-13.2 .5 23.2 .2-1.7 .2 9.9 .2-10.1 .3 8.8 .4 1.7 .2 8.6 .3 4.9 .2-9.7 .1 1.9 .3 16.2 .1-11.6 .3 14.9 .4-4.3 .2-15.1 .3 12.9 .1-4.6 .4 1.9 .1 8.1 .4 2.7 .3 9.3 .1-3.3 .1 6.7 .4-5.3 .1 18.4 .3-11.3 .5 14.5 0-6.6 .4 10.2 .1 .3 .4 10.8 .4-4.3 .2-6.8 .2-2.3 .1 6.9 .4-7.2 .1 12.6 .4 2.3 .2-13.2 .1 1.7 .2 10.8 .4 3.8 .4-19.9 .2 4.3 .3-7.1 .2-4.3 .2 5 .2 4.4 .3-11.2 .2-3.8 .2 11.5 .4-3.4 .2-7.6 .4-5.1 .1 10.4 .3 6.4 .1-5 .4-3.5 .1 2.8 .4-1.3 .1-5.6 .2 3.7 .5 11.8 .2-3 .3 15.1 .1-8.6 0-2.1 .5 2 .3-4.9 .2 3.7 .3 11.6 .2 2 .4-8.3 .2 9.7 .3-9 .3-8.2 .1 11.1 .3-4.5 .2 12.6 .2-5.8 .1-11.6 .5-1.3 .3 8.3 .1-5 .1 11.7 .3-3.3 .5-15.7 0 1.8 .2-13.2 .4 6.3 .4 19 .1-9.1 .4 17.1 .4-2.1 .1 14.6 .3 10.1 .2-9.3 .2 4.9 .1 7.8 .3 1.8 .1-18.3 .4 .6 .2 7.6 .3 10.5 .4-24.8 .2 10.2 .3-7.8 .1 2.8 .4-16 0 .5 .5-15.3 0 13.1 .4-15.3 .4-9 .1 4 .3-6.1 .1 5.5 .4-5.6 .1-9.1 .4 3.4 .2 15.3 .2 2.6 .2-12.8 .3 16.6 .2-15.5 .3 5 .3-6.3 .2 1 0 6.9 .5-1.8 .3-7.3 .2-5.2 .3 7.6 .1 3.3 .3-12.4 .4 .1 .2 13.6 .3-5.2 .1 9.9 .5-4.3 .1 8.4 .4-3.6 .1-10.4 .2 9.8 .2 3.1 .3-14.8 .1 2.5 .4 .7 .1 8 .4 1.1 .3-10.8 .4-4.7 .1 8.4 .4-6.3 .1 5 .4 7.9 .1-7.7 .5-3.3 .1 6.6 .3-4.6 .1 9.8 .2-2.6 .1-21.7 .4 9.4 0 11.9 .4 6.3 .2-12.7 .4-1.7 .1 18.9 .4-2.9 .3 6.7 .5-3.8 .1 5.1 .1 4.8 .2-7.2 .5-7.7 .1 7.6 .1-3.9 .4-21.8 .4 5.9 .1-5.1 .3 3.1 .2-6.9 .4-4.5 .1 7.2 .1-5.4 .2 12.7 .3-11.2 .5-17.8 0 9.4 .5-6 0 7.3 .4-8.3 .1 3 .1 9.5 .4-13.4 .5 12 .2 .7 .2-10.3 .3-.3 .1 11.3 .4-3.9 .2 15.3 .3-7.3 .1-13.5 .4 19.4 .1-11.5 .3-2.8 .2 13.4 .3-18.7 .1 15.5 .3 1.7 .5 7.5 .2-8.8 .3 4.5 0 1.8 .4 7.1 .2 9.4 .4-13.5 .3 5.9 .2-13.8 .2-.1 .2 18.2 .2-4.2 .3-15.2 .2-.8 .2 7.7 .2 3.5 .2 20 .3-6.2 .2-12.6 .4-1.9 .4 9 .1-1.2 .3-11.7 .2-1.1 .3-10.1 .4 2.1 .1 9.4 .4-12 .2 22.9 .3-19.2 .2 11.5 .3-6.1 .1 5.3 .3-2.1 0-5.7 .4 10.5 .2-4.8 .3-2.8 .4 10.5 .2 2.9 .3-4.5 .1-3.7 .1-12.4 .3 12 .5 7.4 .4 2.5 .1-7.8 .3 3.6 .1-10.7 .3 6.4 .3-7.8 .2-.9 .1-6.2 .3-6.4 .2 15.3 .3-8.9 .2 13.6 .3-2 .1-14.4 .5 0 .3 12.2 0 6.8 .5-18 .1-3 .3 17 .2-12.2 .3 17.4 .4-21 .2 13.8 .2 4.5 .3-9.8 .3 4.6 .1 9.2 .3-6.3 .1 9.2 .4-5.5 .2 11.2 .2-3.2 .1 11.7 .3-2.6 .5-7.9 0 6.9 .5-8.3 .1-2.8 .1 5.9 .3 3.4 .5-8.7 0-6.4 .1 5.3 .7-6.5 .1-4.7 .1 4 .3-13.6 .4 13.6 .2-21 .2 13.6 .2 5.4 .3-4.5 .1 6.7 .3-5.3 .3 21.5 .3-12.6 .1-8.2 .4 2.6 .3-8.6 .1-4 .2 8.4 .4-6.3 .2-10.7 .5 6.5 .1-5.5 .1 8.7 .3-9 .4-1.4 .2-7.8 .4-.5 .1 12.1 .2 .7 .3-11 .2 .8 .2 10.9 .2-6.3 .2 12.9 .3-7.9 .5-15.8 .1 9.1 .3 13.2 .2-1 .2 10.5 .6-11.7 0 13.2 .4-2.7 .1 5.7 .1 3.4 .3-13.6 .4-2.2 .2-10.2 .2 .4 .3 10.4 .2-4.9 .2-10.8 .3 2.2 .2 9.1 .3-4 .3-18.5 .2 18.8 .4-8.7 0 1.1 .4 15.8 .5-4.6 0-7.8 .2 2.6 .2-9 .6-2.8 .1 7.4 .2-4.4 .1 17.7 .3-6.4 .2-13.8 .4 5.8 .2-5.6 .1-2.3 .3 10.6 .3 4.2 .2-14.2 .2 1.5 .2-19.1 .4 12.1 .3-8.8 .2-10.4 .4 14.2 .4-.7 .1 4.2 .2-2.8 .2 6.9 .1-13 .5 7.2 .2 7.1 .1-7.9 .4 9.8 .2-12.9 .2-3.7 .2 10 .3-22.1 .2 7.7 .3 6.5 .1-4.9 .4-1 .4 7.3 .1-4.6 .3 16.2 .2-7.6 .3 4.9 .2 8.3 .2-4.7 .2-1.9 .5 22.6 .2-2.3 .2-8.6 .2 3.2 .1-5.4 .5-.2 .1-8.3 .2 .5 .3 9.8 .3-6.4 .4 14.5 .1-.5 .3-18.1 .1-3.5 .4 14.4 .2-11.7 .4 15.6 .4 1.2 .1-17.5 .4 12.5 .1 10.6 .3 5.6 .2-4.2 .2 3.6 .2-5.7 .3-2.6 0 9.6 .4-4.9 0-6.2 .6 5.4 .1-9 .3 5.5 .3-14.3 .2 4.7 .3-12.5 .2 4.5 .2-11.6 .6 11.8 0-11.8 .4 11.6 .2 7 0 1.5 .3 8.3 .4-12.5 .2 12.4 .4-8.1 .1 4.8 .2-.6 .2 8 .2 4.9 .2-9.1 .4 8.1 .2-3.7 .3-4.2 0 12.2 .8-22.7 .1 13.1 .1 6.7 .3-23.3 .4 8.7 .1-15.7 .1 1.6 .2 14.7 .6-16.8 .1 12.2 .2-11.8 .2 12.3 .3-2.6 .3-10.2 .2-5.9 .2 10 .2 2.7 .1-5.3 .4 7.4 .5-21.8 .1 1 .3 10 .1-13.1 .3 19.8 .2-3.1 .4-12 .4-3.3 .1 5.4 .3 4 .3 7.8 .2 4 .2-10.5 .2 7.3 .2-4.3 .3 11 .1 6 .4 12.6 .4-5.1 .1 2.4 0 4 .4-11 .1 8.4 .4-6.8 .2-4.3 .6-2.3 .1 6.4 .1-6.6 .5 8.5 0 7.1 .3-7.7 .4 13.3 .2-8.7 .3 .2 .2 5.6 .3-9.3 .1 11.4 .3-7.9 .1 7.2 .4 10.1 .2-8.1 .3 .9 .4 7.8 .1-4.1 .1 4.6 .4 11.9 .2-11 .3 .1 .3-10.7 .3 2 .2 15.1 .1 5.6 .5-8.4 .4 5.2 0-4 .3 4 .1 12.1 .3-2 .1 14.2 .5-12.2 .1 11.4 .3-6.7 .3 8.1 .2-3.8 .1 10.3 .3-2.3 .1-5.1 .4 2.8 .3 7.2 .5-11.4 .1 7.9 .3-7 .2 7.5 .3-.6 .1 6.4 .4-6.1 .2-9.8 .3 6.7 .2-15.9 .2-1.2 .2 8.2 .2-10.7 .2 5.9 .4 5.6 .3-10.7 .2 3 .3-8 .1 2.4 .4-17.1 .4 12 .1-13.4 .1 3.3 .3-7.1 .5 11 .2-15.1 .3 3.6 .1 10.1 .2-4.3 .2 8.9 .4-7.9 .1 8.9 .4 2 .1-14.3 .3 8.4 .1 5 .4-2 .3 6 .1-6.9 .1 9.8 .4 6.7 .5-23.1 .1-7.3 .4 18.3 .2 9 .3-17.6 .2-.8 .1 5.8 .5 1.3 .1-3.3 .3 2.4 .1 6.3 .4 6.1 0-6.6 .6-3.1 .2 4.7 .1 7.9 .1-16.4 .5 14.8 .2-10.3 .2-3.6 .2 12.7 .3-7.7 .2 9.6 .6-1 .1-6.7 .2 3.7 .3 18.4 .1-1.5 .3 10.1 .2 7.5 .3 4.6 .2 10.5 .2 16.3 .3 13.1 .2-9.3 .2 .9 .2 16 .4-12.5 .4 15 0-18.7 .5 17.2 0-.5 .3-12.5 .5 4.9 .1-8.8 .1 5.4 .4-19.1 .3-5.4 0 11.6 .5-19.1 .2 13.7 .2-2 .2-1.9 .4 8.1 .3-19.4 .1 6.4 .2 7.4 .2 2.8 .5-11.2 0 3.1 .5 8.6 .3-2 .1 7.6 .4-12.1 .2 11.1 0-10.7 .5-14 .2 7.8 .2-17.1 .2-3.1 .2 11.7 .3-8.7 .1-15.4 .4-3.3 .2 7.9 .2 .4 .2-10.6 .5 4.1 .3-3.4 .1-6.4 .1 10.7 .3-10.7 .3-7.6 .3 4.1 .3-7.4 .3 5.1 .2 10 .4 7.6 .1-12.1 .3 16.2 0-4 .4 1 .3-5.3 .2 3.4 .1-8.1 .5 8.6 .3-11.5 .1-4.2 .3 9.8 .1 1.5 .4 11.1 .1-2.1 .4 13.3 .4-7.8 .1-9.1 .1-.1 .5 11.5 0 13.4 .5-10.5 .4 .8 0-7 .2-1.6 .1-11.7 .4 1 .1 7.3 .3-7.3 .3 11.2 .2 8.9 .5-14.6 .2-2.9 .2-8.3 .1 8 .4 9.2 .1-8.4 .3 3.8 .5-3.8 .1 8.5 .1-2.1 .3-9.8 .2 7.7 .4-17.2 .3-10.7 .1 17.3 .3-8 .1 6.9 .5-4.1 .1-6.9 .3-5.1 .1 12 .5-4.6 .2 9.3 .2 4.6 .3-7.1 .3 2 .2 6.4 .2-.7 .3-7.9 .4-2.1 .2 11.5 .3 6.6 .1-19.9 .3 8.9 .1-10.5 .5 5.1 0-9.3 .4 6.2 .1-7.5 .3-2.1 .1 8.6 .3-9.4 .3-13.2 .2 4.6 .4 18.2 .3-7.8 .3 14.4 .1-11.3 .4 9.1 0 1.3 .4 8.9 .1-1.8 .5 10.6 .2 6.1 .1 5.4 .4-4.9 .2 12.8 .3-2.6 .1 4.4 .3 12.4 .2-10.3 .2 4.8 .1-12.4 .8 1.6 .1 6.3 .1 2 0-9.8 .4-2.1 .5 15.5 .1-8.9 .4 11.5 .1-6.5 .3 12.9 .3-5.8 .3 7.2 .2-2.1 .1-10.9 .4-1 .2 20.4 .2 4.2 .2-7.5 .2-6.9 .2 8.7 .4-7.6 .2 9.1 .3 3.2 .1-14.7 .7 11.5 0-6.7 .2 7 .3-14.1 .2 18.1 .3-7.5 .3-1.4 .2 11.2 .4-1.9 .1-3.4 .4-3.9 .1 8.8 .3-3.6 .2-16.7 .2 7.2 .2-13 .2-10.9 .1 15.7 .4-12.9 .5-14.3 .1 1.2 .3 8.8 .1 4 .5-8.6 0-.3 .3-9.6 .3 1.3 .3-8.6 .1 .6 .3 6.1 .4 3.4 .2-5.6 .3-.2 .2-10.5 .3-6.5 .1 8.1 .4-7.1 .1 11.5 .3 8.3 .2-14.9 .3 2.2 .3 13.1 .1-2.5 .4-14.7 .2 2.4 0 3.4 .5-3.9 .3 11.9 .1-7.6 .3 6.4 .4 2.2 .2-13.5 .4 4 0 9.1 .3 11.9 .1-14.3 .5 6.9 .1-5 .3-.9 .4 8.9 .4 11.2 .1-12.7 .1 10.6 .1 4 .7-7.1 .1 6.8 .3 10.5 .2-12.3 .2 6.2 .2-6.1 .3 5 .3 7.1 .2-.9 .2 7.3 .2-4.5 .3-8.5 .2 7.2 .2 6 .2 6.6 .3-11.9 .3 5 .3 10.7 .1-2.3 .5 13.4 .1 5.3 .3 7.3 .2-9 .3 2.5 .2 5.8 .2 13.5 .4-6.7 .2 18.6 .3-11.3 .1-6.5 .3 0 .2-5.4 .5 6.7 .1-7.8 .2 1.5 .1-7.9 .4 9.8 .1-7.6 .3 12.1 .2 15.1 .5 .3 .2-6.2 .1 2.3 .4-13.9 .1 3.2 .4-5 .3 2.4 .1 6.6 .2 .6 .5-10.6 .2 1.1 .2-10 .3-6.9 .2 10.7 .2 1.9 .2-7.5 .2-.9 .3 9 .3 5.1 .3-11.6 .3-3.9 .2 6.6 .1-.4 .4 16.1 .1-6.5 .1-15 .5 14.1 .3 13.1 .1 5.7 .5-18.7 .2-10.2 .2 8.7 .2-12.9 .2 15.8 .3-7.9 .2 8.7 .4 6.7 .1-10.4 .3-14.7 .4 10.9 .1 8.9 .3-9.8 .2 11.1 .3-13 .2 3.9 .3 13.6 .2-3.7 .3 10.6 .5-1.2 .1 14 .2-8.4 .2-13.1 .3 10.3 .1-9.4 .3 1.1 .2 13.8 .3-2.1 .2 9.9 .2-6.1 .5 23.5 .1-5.7 .3-13.1 .2-2.6 .4 19.7 .3-8 .1-4.7 .4-9.7 .1 11.2 .2-3.2 .3-5.9 .1 5.6 .4-16.5 .3-2.9 .2 9.7 .3-11.2 .2 4.1 .2 5.9 .2-10.9 .2 11.2 .1-8.4 .5 15.3 .3-10.5 .1-2.9 .5-6.3 0 5 .5 4.3 .1-.7 .3-8.7 .2-5 .4 13.3 .4 7.3 .1-11.4 .3-2.3 0 5.2 .4 6.6 .1-5.5 .3 3.1 .3 14.1 .2 2.4 .2-7.8 .3 0 .2-9 .3 11 .4 7.8 .1-11.4 .3-7.1 .1-3.8 .5 12.2 .4-3.5 .1-14.7 .3 8.4 .1-5 .3 5.3 .1-10 .4 .2 .2-10.2 .3 2.2 0-2 .4 6.5 .2-9.7 .2-12.1 .2 17.1 .4-6.4 .1 6.5 .3-7.2 .5 12.2 0 .1 .4-12.5 .2 16.7 .3-13.7 .2-7.6 .4 11.9 0 3.1 .4 7.9 .4 1.9 .1-6 .3 1.1 .1 11.2 .4-3.7 .1-3.4 .3 1.8 .2 13.2 .3-16.1 .2 5.4 .4-5.5 .3-10.4 .1 4.3 .1-12.7 .3 9.3 .3-10.1 .3 9.8 .4-13.8 0-3.4 .2-7 .3 15 .4-11.4 .3-2.2 .2 5.2 .3-1.4 .2-5.6 .3 1.9 .1-9.4 .2-1 .5 13.2 .2-1.9 .2-14.1 .3-3.1 .2-13.6 .1 2.1 .4 8.9 .2 3.4 .3-10.2 .2 8.1 .2-4.5 .4 3.6 .2-13.7 .4 8.4 .1 3.7 .2-2.4 .3 14.3 .3-.2 .1 6.4 .2-1 .3-8.9 .5-4.8 .2 5.6 .1-6.6 .4 9.8 0 3.2 .4 5.8 .1-1.6 .5-11.4 .1-8.9 .4 19.5 0-5.2 .4-14.4 .1 1.9 .5 12.9 .2 3.5 .2-10.2 .4-12 .1 9.6 .2 4.4 .2-14.5 .2-.2 .2-5.3 .4 11.8 .1-12.1 .4 6 .3 8.8 .1 6.5 .3-22.3 .2-.8 .4 8.3 .2-4.3 .4 16 0-.8 .3-6.6 .4-1.4 .1 11.5 .3 2.8 .2-9.4 .4-2.9 .1 12.6 .2-2.4 .5-13.4 .1 .4 .2 11.2 .3-5.8 .4-4.3 .4-.4 .1 10.7 .1-8.6 .2 9.9 .3-1.6 .4-8.8 0-.6 .3 9.8 .4-4.3 .1 15.2 .3-14.1 .3 11.9 .2-2.2 .3-13.7 .2 18.8 .2-15.1 .4 9.5 .3-4.7 0-4.5 .2 13.3"/><path stroke="#006400" d="M174.4 288.7l.4 1.7 0-3.8 .3 3.2 .1-6.5 .3 0 .2-4.2 .4 8.2 .2-10.5 .4 2.2 .3-15 .1 .5 .3-13 .1 8.8 .5 17.8 .3 6 .2-10.7 0 6.3 .4 5.9 .4-10.5 .2 9.4 .2-4 .2-12.9 .2-.9 .1-12.6 .4 9.6 .2 4.4 .2 2.5 .2-10.2 .3 4.9 .4-12 .2 6 .4 9.6 0-2 .4-11.1 .2-10.2 .3 9.5 .4-1.6 .1-5.3 .4-4.5 .1 7.8 .3-4.7 .2-7.8 .3 7.7 .2-19.6 .2-1.4 .2-7.7 .2-2.8 .3-4.8 .4 14.6 .3-11.6 .2-3.8 .2-8.7 .1 9.8 .4-11.1 .4 5.7 .2-4.8 0 .6 .4 12.7 .3 .5 .3-14.6 .2 2.4 .1-10.2 .3 4.3 .1 5.5 .5-4.6 .2 13.3 .3-12.2 .1 5 .4-2.6 .1 6.5 .3-2.6 .3-6 .3 9.4 .3-10.9 .1 7.2 .2-4.1 .2 14 .4-17.4 .4 2.2 .1-8 .1-1.5 .3 10.4 .4 2.2 .2-6.8 .3 1.9 .2-3.4 .2-.8 0-16.8 .5 19.6 .2-6.1 .3 7.9 .1-7.7 .4 3.6 .4-17.6 .2-.4 .3 14 .1-13.6 .3-8.6 .1-5.1 .4 12 .5 1.4 .1-14.6 .2 10.5 .2-4.2 .2-4.5 .1 8.7 .5-8.9 0-7.2 .4 4.2 .2 8.4 .3-3.5 .4-6.6 0-2.9 .4 10.9 .3 12.1 .2-4.7 .2-9.4 .4 10.5 .4 3.8 0-7.3 .3-3.3 .1 11.2 .5-13.1 .2 21.4 .3-3.5 .1 8.7 .4-9.2 .1 5.7 .3-9.8 .1 5 .3-.3 .2 10 .3-.6 .3 19.7 .1-12.5 .5 15.3 .4-4.9 0 9.4 .2-4.6 .3-10.5 .4 20.4 0-7.5 .2-.9 .5 4.5 .2-7.5 .2 14.7 .4-1.8 0-7.9 .3 8.8 .1-15.1 .3 6.8 .2 13.1 .3-2.9 .5-15.4 0 11 .5 27.1 0 3.3 .4-9.1 .4-2.5 .2 16.1 0 .2 .4-10 .1 14.4 .4-10 .1 6 .3-6.4 .4-8.9 .2 11.4 .2 3.3 .2-9.7 .4 2.9 .1 2.7 .4-7.5 .1-8.8 .4-1 0 3.2 .3-11 .1 18.2 .6-18.6 .1 11.9 .2 1.4 .3 11.4 .3-4.8 .3 6.8 .3 2.7 .3-10.6 .3-1.1 .1 14.9 .3-10.9 .2 12.5 .3 8.4 .1-11.8 .2-2.9 .2 9.1 .4-11.7 .2 13.4 .3-5.9 .3 10.8 .2-4.2 .3-6.7 .5-.6 .1 9.7 .1-7.4 .4 13 .2-.5 .2-7.6 .4 5.5 .2 6.4 .2 1.3 .2 10.9 .2-7.3 .1 5.4 .4-2.5 0-8.1 .4 9.9 .3-9.5 .3-3.5 .3 8.3 .5-2.5 .1 7.4 0 .7 .4-15.8 .1 15.1 .3-20.1 .5-5.8 .1 7 .3 .1 .1 7.4 .6-5.6 0-9 .3 4.7 .1-8.2 .3 1.4 0-11 .4 16.3 .2-11 .4 2.7 .4-17.8 0 8.6 .5-5.8 .1-4.6 .1 4.8 .4-.5 .3-13.6 .2 7.8 .2-7.7 .2 6.3 .4-9.1 .3 9.8 .2-10.3 .3 2 .1 6.3 .4-12.7 .1 7.3 .4-10.3 .1 7.8 .2-4.3 .1 9.4 .5-6.9 .1 9.2 .5 5.5 .2-6.9 .2-1.1 .3 5.4 .1 3 .4-8.7 .2 2 .2-14.4 .2 6.9 .3-6.9 .4 21.1 .2-16.7 .2 9.1 .2-4.7 .3 2.7 .2 5.3 .4 .8 .3-9.4 .1-2.5 .2 10.2 .3-4 .3-11.1 .2-3.4 .4 11.9 .1 2.6 .3-6.6 .1-10.2 .5 15.2 .3 .3 .1 10.6 .5 1.7 0 3.8 .4 2.6 0-7.4 .4 4.7 .1 7.8 .3-1.5 .2 17.5 .3-6.9 0 9.5 .6-5.6 .3-15.8 .1 8.9 0-6.5 .4-.9 .4-8.1 .1-1.4 .4-7.8 .2 5 .1-2.2 .3 8 .3-12.7 .4 11.2 .2-9.4 .2 9.3 .1-10.2 .4 7.2 .1-8.2 .5 15.1 .1-17.9 .3 6.8 .3-8.3 .1 12.2 .4-25.3 .2 11.2 .3 6.3 .2-5.8 .3-5.6 .4 3.5 0-16.6 .5 13.5 .2-6 .2 7 .2-12.6 .3 3 .1 3.8 .4 5.9 .2-8.1 .2-1.8 .2 7.4 .2 7.1 .2-13.5 .4-1.7 .4 7 .1-6.2 .3 9.9 .1-4.1 .4 12.7 .1-3.1 .5 8.4 0-4.1 .2 8.7 .5-5.1 .3 4.4 .2 .4 .2 12.2 .2 3.7 .1-5.2 .5 2.1 .1-13.7 .2 4.2 .2 12.5 .4 .1 .3-7.5 .3 4.2 .3-9.3 .4 7.7 .1-10.6 .3-2.5 .1 8.4 .2-12.6 .4 9.7 0 2.3 .3 8.9 .5-1.7 .1-6.3 .2 3.5 .3 10.9 .3 .8 .1-8 .2 4.5 .2 8.2 .5-6.5 .3 10.5 .2-10.2 .3 11.7 .4 5.9 .1-6.1 .1-1 .4 13.6 .1 2.6 .4-13.1 .3-12.5 .2 14.9 .2-2.8 .1 5.8 .3-2.5 .3 4.8 .3 9.1 .1-5.2 .3 5.9 .2-3.3 .2 2.5 .2-10.1 .3 12.1 .4-12.2 .2 7 .4 14 .1-5.9 .3-10.6 .2-1.3 .4 8.6 .3 6 .2-12.3 .2 10.9 .3-14.3 .3 5.8 .1-6.3 .4 6.4 .1 5.4 .3-7.8 .1 9.9 .2 .2 .2-9.6 .6-4.9 .1 7.9 .1 5.4 .2-16.7 .4 13.3 .4-13.3 .1-8.9 .2 17.7 .2-4.7 .3 11.7 .4-3 .2 4.6 .3 0 .2 2.7 .4 .8 0-12.6 .3 5.2 .2 15 .3-2.3 .2-8.6 .3 5.6 .1-7.5 .4 18.9 .1-20.7 .4 11.7 .3 5.8 .2-.3 .2-10.4 .2 10.3 .4-5.9 .3-9 .2 11.9 .1-.7 .4 9 .3 2.4 .1-14.1 .3 5.7 .2 7.2 .4-1.4 .1-4.8 .2-3.3 .2-9.3 .4 10.4 .3 5.8 .2 6.1 .3 7.1 .1-6.7 .5 12.6 .1-.7 .2 5.7 .2-16.4 .1 13.3 .6 20.8 .2-19.6 .3-8.3 .2 6.4 .2 2.8 .3-12.7 .2 3.6 .1-5.5 .4 4.3 .1 5.3 .4-2.6 .2 18 .2-19.5 .1 7.6 .5 2.6 .3-10.1 .2 4.5 .4-12.8 .1 14.7 .4-7.8 0-12.1 .3 5.7 .2-17 .3 18.5 .4 3.1 .1 9.1 .4 3 .2-22.9 .2 .8 0 18.3 .4-13.3 .2 4 .4 2.8 .1-22.4 .3 12.6 .5-11.3 0-3.4 .1 6.4 .5-6.1 .3 15.5 .2-8.6 .2-11.2 .2 13.6 .5-15.6 .3-2.9 .1 6.9 .2 1.3 .2 8.5 .4 6.6 .1-18.8 .2-1.2 .2 17.5 .4-5.2 .2-21.3 .2 11.2 .5-18 0 6.4 .4-21.8 .2 16.9 .3-10.3 .1 9 .3-5.5 .5 1.5 .2-15.8 .2-.7 .1 2 .4 2 .2 9.4 .4-7.4 .1 8.4 .2 .9 0 9.4 .4-6.8 .3-8.7 .4 3 .3-10.3 .2 5.7 .2-8.2 .2-2.4 .3 5 .2-3.2 .2 4.1 .5 0 .2 4.2 0 3.9 .4-18.8 .5 8.3 0-12 .4 3.2 0 10.4 .3-4 .2 12.1 .4-6.2 .3-5.4 .2 4.2 .3-5.5 0-.4 .1-12.4 .6 13.9 .3-7.9 .1 4.4 .3 7.2 .4-17.8 0 17.8 .2-12.4 .5-9.1 .3 .7 .1 14.1 .2-3.8 .2-8.1 .5-5 .1 9.6 .2-5.7 .2 6.1 .2-6 .1 13 .6-8.2 .2-8.7 .2 9.4 .3-9.4 .1 3.5 .3-10.3 .3 4.9 .4-4.4 .3 9.9 .1-13.3 .4 20.8 .2-17.1 .2 5 .2 5.3 .2 5.6 .3-19.2 .2 7.6 0 10 .6 8.7 .3-8 .2 4.1 .2-8.4 .2 9.8 .4-11 0-3.4 .5 21.4 .1-7.1 .3-6.6 .1 3.8 .5 18.7 .2 6.6 .3-7.7 .3-.4 .1-10 .2 2.1 .3-10.6 .2 3 .3-13.2 .2 1.5 .2 9.2 .3 8.7 .4-9.6 0 4.2 .2 5.1 .4-.7 .3 14.6 .2-2.8 .2-9.3 .5 19.8 .1-12.3 .2 8.3 .3-7.1 .1 4.4 .4 10 .3 7.2 .1-13.3 .4 11.9 .2-7.2 .3 3.3 .1-7.1 .3-.5 .4 13.6 .1-5.9 .1-13.5 .3 .4 .2 10.6 .5 4.4 .3-15.1 .1 3.8 .2-6.4 .2 1 .5 9.4 0 2.6 .3-12.3 .4 3.3 .2-3.7 .2 0 .2 14.6 .3-4.4 .3 9.5 .2 .8 .1-14.1 .3 4.9 .2 6.2 .3-6.4 .2 12 .3-7.1 .4 3.5 .2 9.7 .4-10.1 0-1.3 .4 16.4 .4-12 .1 8.2 .1-3.3 .3-9.6 .4 14.3 .2 5 .3-2.1 0-3.7 .4-2.5 .2 3.4 .2-6.3 .2 5.5 .3-10.5 .4 7.4 .2 1.8 .1 7.9 .4 .8 .3-8.6 .2 7.9 .2-10.5 .2-.9 .4 13.6 .1-7.7 .5 7.5 .2 5.1 .2-9.8 .4 8.3 0-11.1 .3 1.3 .2-7.8 .4-1.7 .1-8.1 .4 .5 .1-2.3 .2 3.2 .5 8.4 .1-7.1 .4 8.1 .1-2.6 .3-9 .4-1.8 .2-4.9 .3 8 .1-11.9 .4 5.4 .2 7.7 .1 3.5 .1-3.2 .4 8.6 .1-10.9 .4 12.3 .1 6.5 .4-2.7 0-12.1 .5 10.3 .1-11.7 .4 20.9 .4-13.1 .1-3.9 .4 10.1 .3-8.7 .2 11.5 .1-9.4 .2 3.6 .2-2.4 .3 9.2 .6-11.4 0 3.6 .2-2.8 .2 9.2 .5-8.7 0 11.6 .3-.3 .4 6.9 .1-9.9 .4 15 .1 1.2 .4-13.3 0 5.4 .5-4.3 .1-1 .3 8.5 .2-5 .3 15.5 .3-15.8 .3 9.7 .2-3.6 .1 16.9 .3-3.7 .2-8.7 .4 7.3 .1-4.1 .3-8 .2 6.3 .3 4.2 .4-17.5 .1 1.4 .4-7.6 .1-9.4 .3 14.8 .2 6.4 .4-10 .1-10.8 .3 11.7 .4-2.7 .1-10.3 .1 2.2 .3 11.3 .6-10.4 0 6.4 .2 4.4 .3-7.3 .3-7 .1 6.5 .2 3 .2-7.5 .4-1.5 .1 8.7 .4-7.3 0-10.2 .6 10.3 .3-12.1 .3-8 .1 6.2 .1-.1 .3 6.4 .6-5.6 0 14.6 .3-8.6 .1-6 .5-.1 .1 7.9 .3-8.4 .1 6.1 .3-6.6 .2 8.9 .2-1.7 .5 14.1 .1-2.5 .3 7.4 .2-8.6 .3 6.7 .1-.6 .5 7.1 .3 6.2 .2-15 .1 3.6 .3 11 .4 9.5 .1-12.7 .3 5.1 .1-12 .3-1.2 .2 8.5 .3 1.3 .2 7.3 .4-10.8 .3 15 .1 2 .3 13.4 .2-3.1 .4-5.2 0 1.1 .4 14.5 .1-18.2 .4 28.5 .2-5.8 .3 12.3 .3-4.2 .3-11.2 .2 1.4 .2 7.5 .3-5.5 .2-3.4 .3 5.3 .1-10.7 .3-1.9 .1 7.1 .3 1.3 .5-12.1 0 1.2 .1 9.1 .5-3.8 .1-11.9 .6 7.7 .1-6.4 .2-4.6 .4 5.6 .2 5.4 .2-15.8 .1 3.4 .5 9.3 .2 1.5 .1-7.5 .3 8.2 .1-5.4 .5 6.1 .1-6.5 .4 6.2 .3 12.3 .1-10.2 .4 15.2 .1-8.6 .4 5.2 .4-.2 .1-8.1 0 1.5 .5 9.4 .3 5.6 .2-8.9 .2 8.4 .2-9.7 .3-.9 0-5.9 .5 4.6 .2 8.2 .3-7.3 .1 6.4 .3-9.3 .2 9 .3-2.2 .4 4.5 .1-1.6 .4-14.4 0 5.4 .2-9.9 .4 1.3 .4 17.1 .1-6.1 .3 11.8 .1-2.7 .4 12.7 .4 11 .1-9.5 .2-6.1 .2 13.1 .3 1.7 .1-12.8 .4 4 .2 10.7 .3 7.1 .4-15.9 .2-3.9 .3-8 .1-11.5 .1 13.5 .3-5.9 .5-16.3 0 2.8 .4-10.6 .2-3.1 .4-7.2 .3 7.1 .1-7.9 .3-.1 .1-8.9 .4 5.4 .2 10.9 .2-.9 .2-9 .3 3.6 .4-15 .1 5.5 .2 5.8 .3-3.4 0 5.4 .4 .6 .2 5.9 .6-9.9 .1 14.4 .1-4.9 .5-8.8 .2-3.5 .2 14.4 .3-1.3 .2 8.3 .2 5.2 .2-5.9 .4-1.8 .1 6.1 .4 6.8 .1-12.2 .3-10.9 .1 12.8 .3-6.9 .2 12.4 .7-9.6 0-7.4 .4-4.1 .2 11.6 0-.9 .5 8.5 .3 2 .1-12.2 .3 1.8 .3 17 .2-15.7 .2 8.1 .2-3.8 .3-15 .2 5.8 .2 6.9 .3 10.1 .4-10.3 .1-.5 .1 16.2 .3 4.6 .2-15.9 .7 20.6 0-10.8 .2 11.4 .2-12.4 .5-12.5 .1 8.7 .1-7.7 .4-10.2 .3-1.5 .1 4 .4 3.2 .1-10.8 .3 1.4 .2-4.7 .2 4.1 .2 6 .5 2.4 .3-12.9 0 1.7 .2-10 .4 9.1 .1-11.6 .3 2.8 .1 9.4 .5-9.9 .3 9.6 .3 5.1 .2-7.7 .4 1.5 .1 8 .4 2.9 .1-3.3 .3 6.9 .1-10.6 .3 4.5 .1 8.4 .4-12.3 .2 7.8 .2-7.1 .2 8.6 .3-5.4 .2 8.2 .7-17.2 .1 13.1 .3-1.8 .1 16.5 .2 6.7 .4-12 .2-1.5 .1 7.5 .4-5.4 .2 11.3 .2-2.9 .3-13.1 .2 .7 .2 13.7 .2-7.2 .3 18.5 .2-4.3 .2-6.6 .3-5.4 .5 8.4 0-3.4 .4-8.7 .1-4.9 .1-6.7 .4 7.6 .4 8.7 .4-10.2 .2 10 .2-5.2 .3 10.1 .2-2.2 .1-8.7 .5 13 .1-13.5 .2 5.7 .1 6.2 .4-5.5 .4 11.6 .1-5.1 .3 4.2 .2 1.7 .1-11.8 .7 1.1 .1 20.3 0-9.6 .1 9.4 .5-12.9 .3 7.5 .3 5.6 .3-11.6 .2-18.4 .2 14.1 .3-11.1 .1 9.6 .3-14.7 .2 20.4 .5-.6 .2-5.9 .1-5.2 .4 15.7 .1-5.8 0-6.7 .4-2.3 .5 7.5 .1-1.4 .4 10.9 .3-12.9 .2 10.7 .2 .1 .1-10.2 .4 5.9 .2 8.8 .3-7.9 .1 10.8 .4-7 .2 26 .2-12.6 .2 11.2 .3-3.7 0-11.7 .5 18.5 .1-8.4 .4 1.6 .3-9.9 .1 7.5 .5-10.2 .4 4.2 .1-5.6 .3-3.5 .1 3.7 .1-9.8 .4 3.9 .3 7.7 .2-12.2 .2 .4 .2 5.2 .3-11.8 .2 13.3 .4 .1 .1 8.1 .3-3.6 .3-5.2 .2-2.2 .3-5.2 .1-7.6 .4 11.8 .2-3.7 .2-13.1 .5 14.6 .2-7.3 .2-7 .2 4.6 .3-11.5 .2 5.9 .4 .4 .1-1.6 .2 1.1 .2-7.6 .3-.4 .2 10.3 .3-4 .1 10.8 .3-4.5 .2-8.7 .7 14.2 0-8.4 .1 2 .3 12.7 .2-3.1 .5 13.2 .2 2.3 .2-5.8 .1 4.9 .4-13.7 .4 3.8 .1-8.6 .2-9.4 .3 10 .4-4.4 0-5.7 .3 2.3 .2 14.9 .3 .1 .3-11.1 .2 10.1 .4-8.6 .1 1.8 .3 10.1 .1-3.1 .3-17 .2 12.7 .4-18.5 .5-1.2 .1 8.7 .2 .7 .2 12.5 .2-4.1 .2-23.5 .4 14.6 0-7.6 .5 5.6 0-8 .3-.7 .1 7.5 .4-11.6 .4-8.5 .1 2.4 .1 9.4 .4-5.9 .1-7.8 .5 9.9 .3-14.8 .1 13.1 .2 9.3 .3 2.3 .2-9.7 .6 10.6 .1-11.7 .3 7.7 .2-10 .3 3.1 .1-5.7 .3-7.1 .4 16 0-6.6 .1 9.2 .4-2.2 .1-13.3 .4 2.4 .3 11.7 .6-10.4 0 10.6 .4 7.2 .2 7.8 0-7.6 .5 13.6 .3 1 .1-4.2 .3 1.1 .1-10.9 .3 4.1 .2-6.2 .4 5.3 0-7.1 .4 2.1 .4 17.5 .1 .4 .3-11.4 .1 2 .5-11.3 .3-.8 .2 12.4 .3 6.7 .1-7.6 .1-.4 .5 16.2 .3 .3 .1-8.1 .2-4.5 .3 3.4 .3-4.2 .1 11.7 .4-2.1 .1-5.6 .4 4.2 .1-12.4 .3 3.7 .1-8.2 .4 5.1 .3-9.9 .1 4.2 .4-7.9 .2-.7 .3 7.9 .2 8.9 .2-9 .2 4.4 .4 19.5 .3-14.9 .1-13.2 .4 19.1 .2-14.6 .2 .8 .2 17 .3 4.9 .2-11.8 .3-1.3 .1 11.4 .3-6.1 .2-6.4 .3 5.1 .4-9.6 .2 4.1 .3-8.5 .4 8.9 0-8 .2-11.5 .5 15.4 .2-8.7 .2 4.5 .2-3.8 .2 12.9 .3-5.8 .2-11.2 .3-2.8 0 5.2 .4 5.1 .1-10.1 .4 8.6 .5-17 .1-1.3 .3 7.9 .2-6 .3 9.1 .2 3.5 .4-9.6 .1-11.4 .3 16.4 .3 6.1 .1 8.6 .4-7 .2-5.5 .3-5.4 .2 15 .2-11.1 .1 13.7 .3-3.7 .2 8.7 .4-4.9 .3 4.5 .1-5.4 .1 17.4 .8-28.4 .1 13.6 .3-5.4 .1 7.5 .4 3.9 .1-9.7 .3 4.3 .3 12.4 .2-5.9 .2 10.7 .2-7.6 .2 12 .3 2.8 .3-19.1 .2 3.7 .1-6.3 .4 18.6 .1-16.2 .4-6.7 .4 23.3 .4 4.9 0-5.5 .1-.9 .3 4.8 .3 .5 .3-8.4 .1 5.5 .3-17.7 .2 11.2 .3 4.6 .4-7.8 .1 5.7 .4 4.5 .1 13.9 .4 1.8 .1-7.3 .2-5.3 .3 15.9 .4-15.3 0 9.6 .3 1.1 .2 8.8 .5-5 .3-4.1 0-1 .3 8.4 .3-12.4 .4 10.5 0-.1 .4-12.7 .3 7.1 .1 8.8 .3-12 .3-5.2 .3 2.6 .2-9.2 .1 5.5 .3-7 .2-5.7 .2 14.5 .4-2.8 .3-4 .1-4.6 .4-9 .1-.1 .4 9.9 .1 3.2 .5-16 0-2.8 .4-8.5 .4 12.4 .2-11.7 .2 2.1 .1 7.8 .4 6.4 0-6.1 .4 2.9 .2 11.1 .2-8.9 .2 8.7 .3-7.7 .4 12.3 .2-1.3 0-11.4 .4 5.2 .4 11.5 .1-7.5 .5-14.5 .1-5.3 .4 14.9 .2 11.8 .3-18.6 .2 5 .2-4.8 .2-1.7 .3 18.6 .2-2.7 .2-8.8 .2 5.6 .2 7 .4-9.5 .2 2.2 .3 9.6 0-13.4 .5 11.7 .3-7.2 .4 2.9 .1-10.9 .2 1.9 .2 13.1 .5 2.7 .1-11.6 .4 7.8 .2 12.7 .3 8.8 0-15.2 .3 21.3 .3 9.5 .2 3.2 .2 20.7 .2 12.4 .5-13.9 0 6.5 .2 13.1 .4-16 .4 9 0-7 .4 13.4 .1-6.8 .1-22.7 .7 4 .1 7.8 .1-6.2 .5-7.7 .2 5.2 .2-14.5 .2-3.7 .2 7.4 .4-2 .1-6 .2-5.2 .2 13.5 .5-15.6 .2 11.3 .2-9.4 .3 12.1 .2-7.6 .3 13.3 .4-14.1 .1 12.9 .1-3.4 .1-13.8 .4 12.1 .5-17 .3 .6 .1-6.4 .4 3.1 .1-4.7 .2 .7 .2-10.3 .3-7.8 .2 8.9 .2 .5 .1-10.7 .4 5.3 .2-5.2 .5 7.2 .2-8.1 .2 2 0-4.2 .8-12.3 .1 9.5 .3 0 .1 10.3 .1-4.7 .5 13.8 .2-4.9 .2 5.6 .2-.6 .1-6.9 .4 3.8 .1-8.3 .5 6.4 .3-8.8 .2 .1 .2 7.4 .2-.3 .3 10.2 .1 3.4 .4 11.9 .4-8 .1-7.8 .2-2.7 .4 10.4 0 4.4 .4 6.3 .5 .8 0-15.6 .4-3.1 .1-9.6 .2 3.4 .1 5.3 .3-5.1 .2 6.7 .3 8.2 .5-15.7 .1-11.4 .4 7.6 .2 3.2 .2-1.5 .2 3.7 .4-8.8 .3-6.8 .1 12.9 .1-3.6 .3-3.3 .2 3.2 .2-8.1 .6 6.3 .1-7.7 .3 2.7 0-6.8 .6 1.2 0-4.9 .2 5.7 .3-10.6 .4 12.6 .2 10.8 .3 4.4 .2-4.6 .5-1.1 .1-5.4 .1 1.9 .3 5.6 .1 1.4 .3-9.6 .2 5.2 .3 10.8 .5-10.9 .1-17.2 .4-3.6 .1 14 .3 2.2 .1-4.6 .4-3.1 0 8.4 .3-11.2 .3-9.8 .2 7.4 .2 17.7 .4-11.2 .4 8.4 .1-4.4 .4 12 0 .4 .3 8 .4-7.2 .2 18 .3 3.2 .1 4 .4 2.2 .1-13.9 .4 13.1 .1 12.4 .5-13.8 0 13.4 .2 3.7 .5-18.3 0 .1 .5 5.8 .2 3.6 .3-7.2 0-3.3 .5 12.7 .1-7.1 .3 9.7 .2-8.2 .4 17.3 .3-9.4 .2 9.2 .2-1 .2-5.4 .3-3.1 .2 10.7 .2 8 .2-10.1 .5-1.7 .2 8.5 .1-2.4 .2 6 .3 .1 .1-18.6 .5 11 .2-10.2 .2-3 .3 4 .2 4.3 .3-10.7 .4 12.6 .2-9.4 .3 3.9 .1-11.4 .2-5.4 .3 3.5 .3 2.1 .2-7.4 .3 3.7 .1-16.7 .3 15.1 .4-13.3 .2 5.4 .3-14.7 .1 2.8 .3 12.3 .1 8.8 .4-20 .1 7 .1-11.6 .7 1.5 0-5.6 .5 2.9 .2-6.4 .3 9.5 .1-6.2 .4 3 .1-12.1 .2 .5 .1 8.3 .5-11.4 .3 14.9 .1 3 .3-11.5 .3 6.5 .2-10.2 .1 10.3 .4-11.2 .2 4.4 .2 5.3 .3-5.8 .2 11.3 .2-6.1 .4 6.7 .4 .7 .1-8.5 .2 10.7 .1-10.3 .4 15 .1-9.5 .4 13.6 .2-21.7 .2 10 .1 11.3 .4-4.6 .2 13.4 .4-5.9 .1 6.7 .3-10.1 .1 7.7 .4-6.9 .3 15.5 .4-18.6 .2 3.5 .4 5.6 .2 12.6 .2 .3 0-4.6 .4-.6 .3-7.7 .2 6 .1 14.1 .3 2 .3-12.2 .4 16.7 0-6.5 .3 3.9 .5 14.6 .2 8.3 .2-7.6 .4-3.2 .1 9.9 .1-.7 .4 16.5 .1-7.5 .4 23.3 .5-8.4 0-12.4 .3 .6 .1 5.1 .3 1.8 .3-7 .1-1.4 .2 7 .4 3.7 .1-6.3 .3 8.4 .5 15.5 0-5.7 .4-11.8 .1 11.3 .4-9.8 .1-.4 .4-8 .4 11.6 .1-6.5 .3 9.5 .2-12.5 .3 7.2 .2-16.3 .4-.3 .1 5.2 .2 1.5 .2-4.7 .2-4.4 .1 16.9 .5-1.4 .3-12.4 .1 4.1 .5-12.7 0 9.3 .4 11.4 .2 2.5 .2-9.1 .3-1.2 .3 21.6 .1-.5 .5-18.4 .2-7.2 .2 9.5 .3-7.9 .1 7.9 .4-4.3 .1 9.5 .4 4.3 .3-12.8 .1-3.2 .4 6.4 0 11.5 .5-14.9 .4 .3 .1 7 .1-5.7 .3 9.6 .1-5.8 .4 15 .1 13.9 .2-14.4 .5-1.7 .1 3.6 .3 4.8 .2-8.7 .4 9.8 0-3.6 .4 3.6 .2 8.5 .3 1.5 .4 10.1 .1 .3 .4-7.6 .1-3.8 .4 18.8 0-5 .1-7 .4 .2 .4-8.5 .4 3.5 .1-7.1 .1 7.2 .4-13.7 .3-3.4 .2 8.6 .2-6.7 .2 5.6 .3 2.7 .2-10.5 .2 1.7 .3-11.1 .3 18.7 .3-13.5 .2 .1 .1 3.5 .7 2.4 .1-4.3 .1 2.6 .2-7.4 .5-.4 .2 9.3 0 5.9 .5-19.4 .2 0 .2 6.9 .2 6.2 .2-4.5 .4 4.4 .2 12.4 .3 4.4 .1-10.1 .2-2.8 .1 3.8 .5-.4 .4 8.8 .1-3.2 .3-12.9 .1 .1 .1 14 .4-9.2 .3-15.3 .3 2.8 .3 7.3 .1-1.2 .5-9.2 .2 3.6 .2-15.7 .3 13.9 .2-14.5 .3 8.3 .1-12 .2-2.8 .5 13.7 .2-.7 .2-5.6 .2 2.8 .4 8.9 .2-16.1 .3 10.3 .1 5.1 .3-14.6 .4-7 .1 9.2 .1 4.1 .5 10.8 .3 4.4 .1-5.7 .2-2.8 .2 9.9 .4 1.6 .1-8.4 .4 15.4 .1-11.3 .3-7 .2 10.2 .4-8.9 .3-8.2 .1-9.2 .1 12.9 .3-.1 .5-11.6 0 4.9 .5-18.8 .3-2.8 .1 9.2 .1-1.6 .4 11.2 .3-11.2 .2 7 .2 8.4 .3-15.3 .2-.8 .2-8.9 .3-.9 .4 4.8 .1 7 .3-13.8 .1-6.9 .5-12.8 .1 12.9 .1-4.8 .4 2.9 .2 7.5 .3-2.8 .3-8 .3 10.8 .2-8.8 .3-2.4 .2 9.1 .2 .2 .3 6.4 .3 9.2 .1-8.1 .4 8.1 .1-12.3 .3-11.3 .1 9.1 .3 5.2 .2-9.6 .7 10.1 0 2.5 .2 11.4 .4-19.1 .1 1.8 .3 8.8 .1-3.5 .4-15 .1 .7 .4 7.2 .4 8.1 .1-11.8 .2-2.8 .1 9.1 .4-.7 .2-8 .2 6.1 .2-15.4 .5 4.9 .2 3.9 .2-.8 .3 5 .1 2.9 .4-6.7 .5 1.3 0-9.8 .2 4.8 .2 9.9 .5 4.7 .2-10.6 .2 5.4 .2 11.8 .4-9.1 .1 9.5 .3-8.5 .1 15.8 .3-8.7 .2-9.8 .3 .3 .4 6.7 .2-13 .2 10.6 .5-3.3 0 12.6 .2-7.6 .4 10.2 .3 1.2 .2-11.1 .3 5.6 .1-10.5 .4 18.6 .2-10.7 .1 1.9 .2 9.9 .3-2.7 .1-10.1 .4 13.9 .1-5.1 .4-7.7 .1 17 .4-8.4 .1 4.3"/><path stroke="#ff0000" d="M85.3 160.6l.2-4.7 .2 4.1 .2 3.8 .2 6.4 .1-12.6 .5-1.1 .1 11.9 .2 .4 .5-9.5 .2 5.3 .2-10.1 .3 10.2 .3-6.3 .2 3.6 .3-8.4 .1 3.8 .3-14.9 .2 1.5 .2-9.3 .2 3.4 .5-5.1 .3 6.5 .1-6.2 .2 9.8 .2-16.5 .4 2 .1 12.7 .4-7.5 0-4.9 .4-7.6 .1-5.2 .3 9.2 .5 11.3 .2-3.1 .2-10 .2 4.7 .3 13 .2-12.8 .3 13.2 .4-5.2 .2 9.7 .2-2.7 .2 7.4 .4-9.8 .1 8.3 .3-.5 0 8.1 .5 1.9 .1-7.6 .3-6.4 .4 10.1 .2-9.1 .2 7.3 .2-1.6 .4-12.6 .3 4 .2-11.6 0 4.8 .5-14.2 .3 2.6 .2 6.1 .4 .8 .1-5.1 .2 2.7 .1-11 .3-5.3 .3 6 .4 5.1 0-8.2 .3 8.3 .1-8.2 .5-12.9 .1 17.5 .3 2.6 .4-18.8 0 10.8 .1 11.4 .5 1.9 .3 13.3 .1-11.4 .5 25 .2-5.3 .2-5.3 .3 21 .1-11.8 .4 4.4 .1-7.2 .4 28.1 .2-15.7 .3-8.4 .1 16.9 .3 9.3 .2-8.1 .2 7.4 .5-12 .1 2.9 .1-13.5 .4 .9 .4 6.6 0-9 .3 9.5 .5-4 .1 10.7 .1 0 .3-10 .4 8.8 0 7.7 .4-13.1 .3 9.3 .2-11.4 .2 12.6 .2-15 .2-12 .4 12.3 .3 4.6 .1-17.1 .5 11.9 .1-6.2 .4 9.5 .3-11 .1 13.6 .4-4.4 .2 9.9 0-2.1 .5-16.8 .4 6.4 0-15.2 .3 11.9 .1 5.1 .3 6.4 .1-11.9 .4 1.6 .1-9.6 .4 3.5 .1 5.5 .4-1.8 .4-11.1 .4 8.1 0-9 .2 19.1 .4-20.8 .4 8.7 .1-6 .1 5.3 .1-7.1 .6 1.6 .1 9.4 .3-3 .2 9.7 .2 8.2 .3-14.1 .2 9.7 .2-8.9 .3 1.8 .2 13.7 .2-4.3 .2 10.7 .3-3 .2 12.6 .3-20.9 .4 21.3 .2-.8 .3-8.2 .5-1.5 .1 8.9 .3 1.2 .1-4.9 .3 5.5 0-7.5 .4-.3 .2 15.6 .4-10.1 0 4.7 .4 2.5 .1-5.6 .3 3 .5-12.5 0 3.6 .1 4.2 .4-1 .4 13.5 .2-1.1 0-6.9 .5 6.8 .4 4.9 .3 6.3 .1-8.3 .1-3.8 .3 6.1 .4-1 .1 2.8 .4-5.5 .1 5.9 .5-2.4 0 7.2 .5-9.5 .2 6.1 0-.9 .4-16.9 .2 10.2 .1-4.6 .7 4 .1-6.2 .3-7.3 .1 2.8 .2-6.3 .2 9.2 .5 1.7 .1-14.7 .5 8.8 0-8.5 .2 7.4 .3-15.5 .3-5 .1 13.8 .2 6.8 .5-9 .1 2.8 .4-6.7 .2 1.5 .2 12.9 .1-5.2 .4 12.4 .4-3.3 .1 3.1 .1-3.9 .3-9.1 .5 19.4 .2-20.4 .4 4.1 .1-6.4 .1-1.5 .3 4.6 .3-2.1 .2 9.6 .3-1 .1 12.4 .3-14.8 .4 7.7 .1-2 .1 8.7 .7-11.7 .1 11.8 .1-3.4 .3 13.3 .1-9 .4 5 .4 7.4 .2-8.1 .3 13.2 .1-5.7 .3 9.1 .1-7.6 .3 11.9 .2-9.4 .3 7.3 .2-16.5 .3-.6 .4-13.1 .1 9.5 .2-2.1 .3-9.3 .3 16.5 .3 5.1 .3-11.9 .1-7.1 .3 22.7 .4-19.1 .2 14.3 0 3.2 .2-8.2 .5-4.2 .2-8.3 .2-4 .2 8.3 .3-3.4 .2 10.8 .3-10 .2 7.8 .3-1 .4-4.2 .1 6.1 .3 6.3 .2-6.5 .3 5 .1 1 .5 7.1 0-1.2 .4 9.9 .4-7.5 0 7.7 .5-1.7 .2 4.8 .2-.3 .2-4.4 .2 .1 .1 4.9 .4 10.2 .1-12.5 .3 5.9 .5 12.1 .2 3.4 0-12.9 .4 5.9 .4 7.4 .2-1.2 .2 4.5 .2-1.6 .3 6.4 .1-21.7 .5 23.1 .2 4.5 .3-21.1 .2 7.1 .2-11.9 .4-2.7 .1 6.3 .3 5.1 .2-7.4 .3 4.1 .1-9.2 .5 4.5 .2-10.8 .2 5.8 .3-3.9 .2 5.5 .2 5.2 .2 6.7 .4-12.9 .4 6.6 .1-7.8 0 5.6 .4-2.9 .3 3.2 .1 13.5 .4-2.6 .2 6 .2 3.7 .3-5 .2 2.3 .2 8.6 .3 10 .1-9.4 .3 8.9 .1-10 .5 10.5 .1-4.7 .3 2.5 .1 6.8 .4 1.8 .4-8.6 .1 16.8 .4-19.1 .1 6.4 .4 18.4 .3-7.1 .2 10 .3-2.4 .1 5.3 .3-1.8 .1-4.1 .3-4.3 .3-1.9 .4 10.4 .3-15.2 .2 .5 .3-14 0 8.7 .4-13.5 .1 7.1 .5 13.1 .3-3 .1 12.9 .4 .6 .1-4.7 .5 .7 .1-4.9 .2-3.1 .1-8.1 .3-.5 .2-10.5 .3-3.8 .2 20 .2-.1 .2-13.9 .5 6.7 .3-6.8 .1 1.4 .4 11.8 .1-2.4 .3-11.4 .4-10.2 .1 9.4 .4-2.2 0-5.8 .2-5 .4 6.1 .3-4.4 .2-16.2 .3 8.9 .2-21.3 .3 3.2 .1-3.1 .4-4.4 .1 5.1 .3-6 .2 6 .3-14.1 .4 6 0-1.4 .4-6.2 .2 4.7 .3-5.9 .4 2.6 .1 8.4 .3 .4 .3-7.3 .2-.9 .1-13.2 .4 6 .2 5.5 .3-11.2 .2 9.5 .2-3 .1-4.9 .5 7.7 .1-10 .3 17.2 .4-8.8 .1-5.4 .4 7.9 0-5.7 .1 4.1 .5 2.2 .3-6.4 .4 1.3 .1-7.2 .3-.4 .1 9.4 .5 4.2 .1-5.3 .2 1.2 .3-8 .2-2.9 0-4.1 .4 10.3 .2-8.9 .4 6.2 .3-6.1 .2 8.1 .4-23.8 0 11.1 .1-13.3 .5-5.6 .3 9.4 .1-13.5 .4 15 .4-5.4 .1-7.3 .4 13.8 .1-11.7 .2-3.2 .2 10.3 .4-2.8 .2-9.4 .2-11.5 .1 21.4 .4-5.3 .4-6.7 .2-5.3 .3 19 .2 5.9 .2-7.8 .1-7.3 .5 14.2 .3-9.8 .2 14.9 .1 3.1 .3-14.1 .4-4.4 .2 11 .4 2.3 0 8.1 .2-10.7 .3 8.5 .2 .2 0-10.5 .4 12.6 .1-8.8 .5 .9 .3 16.6 .2-2.9 .3 13.2 .1 8.2 .4-10.8 .2 9.2 .2-18.6 .2 10.5 .5 13.1 .2-.2 .2-8.5 .3-1.1 .1 7.3 .5-.8 .1-5.4 .2 10.5 .2-10.9 .2 12 .1-8.3 .5 11.2 .2-13 .3 5.7 .1 22.4 .3 5.1 .4-11.4 .1 3.7 .1 9.3 .7-.1 .2 4.8 .2 10 .2-11.9 .3 4.4 .1-7.5 .4-11.2 .2 17 .3 2.5 .2-10.2 .4-3.9 0 11.7 .2-11.9 .3-10.3 .2 13.2 .4-16.1 .2-5.3 0 13.8 .4-6.6 .5 15.2 .4 6.9 0-9.1 .1 .8 .3 11.6 .4 1.2 .3-10.9 .4 1.1 0 6.5 .2 1.1 .2 10.4 .3 1 .2-10.9 .2-4.2 .2 8.5 .3-.8 .1-14.1 .5 12.6 .1 7.6 .3 3.3 .5-9.5 .3 .2 .2 11.3 0-9.6 .3 6.2 .4 6.3 .2-5.4 .4 18.4 .2-15.3 .2 5.5 .2 10.9 .2 2.2 .2-11.7 .3-7.3 0 9.4 .4 4.9 .3-13.8 .2 12.4 .2-11.9 .7 6.9 .1 9.4 0-2 .5-20.3 0 6.6 .5-11 .3-1.1 .2 10.1 .2-2.5 .1 5 .5 2.5 .1-12.5 .4 6.8 .1-11.2 .2-4.9 .1 12.1 .3-3.8 .2-8.4 .4 1.2 .1-9.8 .3 10.7 .1-10.9 .6 5.1 .3-4.5 .1-.9 .2-6.4 .2 6.9 .5-8.4 0 1.7 .5-4.2 .2 10.8 .2-13.9 .3 .9 .1 7.9 .4-3.7 .1-6.4 .4-1.8 .1-4.3 .2 2.3 .1 18.1 .4-8.7 .2-8.2 .4 9.7 .1 6 .6-8.3 .2 10.9 .3-1.3 .1-6.2 .2-5 .3-3.4 .1 2.3 .3-9.4 .4 14.9 .2-12 .4 9.2 0 6 .3-.6 .2-9.1 .2 6.1 .2-9.6 .4 6.6 .2 6.3 .2-4.2 .5-8.1 0-6.4 .4 18 .2-3.3 .3-7.3 .4 4 .1-8.4 .3 7.3 .3 12.2 .2 3.4 .1-6.5 .5 10.4 0-12 .4 9.6 .1 14.2 .3-9.4 .2 13.8 .3-2.2 0 5 .4-10.2 .2 10.7 .4-7.9 .3-7.1 .2-.3 .3-12.4 .1 6.4 .4-6.4 .3-4.1 .2 5.7 .4-7.6 .2 10 .2-6 0 12.9 .4-14.1 .2 4.6 .5-7.2 0 5 .3 .4 .2-9.3 .4-1.4 .2 11.4 .2-2.2 .3-12.3 .1 17.7 .2-16.2 .4 .3 .2-5.3 .3 6 .2-12 .4 15.2 .3-10.3 .2 8 .2-14.8 .2 4.2 .3-5.1 .2 0 .2 17.4 .2-14.3 .3 8.6 .2-.7 .2-13.1 .3 1.2 .5 16.4 .1-14.4 .3 13.2 .2-2.5 .2 5.9 .2 1.2 .4 5.5 .4 3 .1-11.3 .3 9.3 .1 11 .4-6 .2 8.2 .3 13.2 .2-10.5 .2-7.2 .1 11.8 .3-9.2 .3 7.9 .3-.2 .1-4.8 .4 5.3 .3-6.4 .3 1.8 .3-7.1 0-4.3 .4 9.7 .4-11.9 .2 5.3 .3 12.1 .1-7.3 .3 11.6 0-9 .6 14 0-6.9 .4 6.2 .1-2.7 .3 2.2 .2-15.8 .4 10.2 .3 9 .1-4.4 .4 9.4 .4 1.8 .1-12.6 .1 6.1 .4 13 .3 5.5 .2-16.5 .2-8.1 .3 10 .3 7 .1-12.8 .3 9.4 .1 10.6 .4-3 .2 2.3 .2 8.9 .2-9.1 .2 8.3 .5-12.7 .4 1.9 .1 8.2 .1-6.1 .4 16.9 0-8.9 .4-6 .1-2.3 .5 7.1 .4 5.1 .1-8.1 0 4.7 .3-12.3 .4 5.2 .1 5.5 .3 3.8 .1-14.7 .4 8.2 .1-9.2 .4 12.5 .1-12.3 .4-7.7 0 10.4 .5 7 .3-17.3 .5 16.5 .1-13.8 .1 2.1 .3 5.1 .1 3.3 .4 8.2 .1 .1 .2-7.1 .5 2.9 .2 9.1 .2-.4 .1-11.1 .4 8.4 .1 10.3 .4-.8 .2-8.6 .3 3.5 .1-9 .5 16 .3-8.9 .1-.4 0 15 .4-9.8 .4 5.2 .1-.4 .4-12.5 .3-5.7 .2 9 .1 2.2 .3 8.1 .4-3.7 .2-2.1 .2 2.3 .1 8.1 .5-3.8 .1-4.1 .4 1.7 .3-12.6 .1 9.3 .3 6.1 .2 7.6 .1 12.4 .7-3.5 .1-4.7 .1 6.1 .3 8.4 .1-3.4 .5 9.2 .2 11.4 .2-15.1 .4-.7 .1 4.3 .4 1.7 .1-8.8 .2-2.4 .2-5.8 .3 15.9 .2-14.9 .2 6.3 .3 13.9 .4-15.6 .2 7.3 .2 0 .1-10 .4 12.2 .4-12.8 0 10.2 .5-12.7 .3 4.5 .1-5.5 .4 6.3 .2-5.8 .2 6.8 .1 8.8 .3-9 .3-10.6 .2 2.4 0 14.6 .4-5.9 .2-11.4 .4 9.7 .3-16.8 .3 3 .2-10.2 .1 4.6 .2-6.6 .6 1.1 .1 6.4 .2 1.7 .3-6.6 .3-3.3 .2 4.3 .3 1.2 .2-4.6 .2 5 .2 7.3 .4 1.3 .1-11.3 .2 3.8 .2 5.9 .4-4.2 .2-10.6 .3 4 .4-16.9 0 2.1 .4-11.2 .4 16.1 .1-14.2 .1 8 .3-2.4 .5 1.6 .1-9.3 .5-5.9 .1 3.7 .2-4.8 .2 11.8 .2 4.1 .1-8.1 .4 6 .1 4.1 .4 .3 .2-7.1 .2-.4 .2-6.2 .5 6.3 .3-4.2 0 7.5 .2-10.7 .7 0 .1-11.1 .1 7.6 .4 12.7 .2 1.5 .3-11.9 .3 2.4 .1-9.2 .3 1.3 .2 10.7 .2-3.3 .2 6.5 .2 0 .5-11.1 .1-2.2 .4 12.6 .1-12.4 0 15.6 .4-12.5 .4-7.8 .2-.6 .3 12.2 .1-3.9 .5-14 .2 8.3 .2-9.4 .3-5.7 .2 23.2 .2-7.3 .2-12.2 .4-3.9 .2 4.3 .4 6.5 0-11.7 .3 17.7 .2-13.7 .2 1.8 .5-7.7 .2 7.9 .2-7.2 .1-11.4 .5 14.7 .1-11 .3 11.1 .2 5.1 .2-2 .5 12.2 .2-15.2 .2-.8 .1 9.9 .4 5.2 .1-9.3 .3 1.9 .2 5.5 .3 3.7 .4-8 .1 17.7 .3-18.1 .2 10.2 .1-5.3 .4 3.3 .4 11.2 .3-2 .1-8.3 .1 9.2 .5 20.7 0 2.5 .3-15.6 .5 6.5 .1-9.5 .2 .3 .2-5.3 .4-6.6 .1 8.1 .3-11.9 .2 10.5 .3 4.2 .1-13 .5 3.3 .2 9.9 .2-.1 .3 6.4 .2 1.9 .2-10.2 .2 4.2 .4 10.3 .4 1.4 .1-5.4 .1 6 .4-4.1 .5-1 0 9 .2 4.1 .1 1.2 .4 6.4 .2-11 .3-.1 .1-5.9 .4 4.7 .1-9.5 .3-5.1 .4 12 .2-5 .4-7 .1 5.2 .3-10.3 .1 5.9 .3 9.4 .6-10.2 .1 8.6 .2-2 .1-8.8 .4 7 .2 9 .4-9.3 .1 5.1 .2 1.8 .2-11.3 .2 1.6 .5 8.8 0 1.7 .1 6.3 .5-5.2 .1-2.1 .3 14 .5-12.8 .1-.2 .3 14.5 .1-8.5 .4 9.6 .3-8.1 .3-13.7 .2 11.3 .2 10.9 .4 9.1 .1-15.5 .2 11.2 .2-15.8 .3 6.9 .4-4.1 0-4.9 .4 15.7 .2-4.1 0 9 .5-3.6 .4-10.2 0 10.2 .3-16 .3 1.6 .3 26.5 .3-14.9 .2 17.5 .3-7.9 .2-6.7 .4 4.5 .1-8.1 .2 11.8 .2-23.9 .4-.2 .1-7.2 .3 2.9 .1-5.9 .3 2.5 .4 8.1 .1-.8 .4-5.6 .4-1.1 .1 6.3 .2-5.9 .3-10.2 .4 3.6 .2 4.9 .3-6.4 .2 11.2 .1 1.8 .2 5.8 .5-3.8 .1 4.4 .3 9.3 .1-10.7 .3 6 .4-7.4 .2 5.8 .2-5.8 .2 10.5 .1-6.2 .6-6 .2 9.7 .1-8.2 .4 10 .3-1 .2-9.9 .2 6.9 .3-10 .2 9.4 .1-5.4 .4 7.5 .1-6.3 .3 8.7 0-8 .6 8.6 .1-2.8 .3-7.6 .4 11.5 .1 8.5 .4-22.3 .2 10.9 .2-4.6 .2 .8 0 8.1 .4-1.2 .3 5.8 .5 .1 .1-16.7 .3 8.1 .1 16.7 .5-13 .1 6.3 .3-.3 0-13.5 .4 3.6 0 8.1 .4-8.2 .1 7.1 .4-2.3 .5-13.4 .1 2.3 .3-4.2 .5 10.9 .1-7.2 .3-1.2 .1 5.2 .2-3.1 .2 4.4 .5-3.2 .1 5.1 .3-2.3 .2-5.8 .3 8.8 .1-2.4 .3-1.7 .1-8.7M468.7 369.7l0 3.6 .4 3.6 .3-12.4 .1-1 .4 15.1 .2-1.6 .2-9.9 .5 4.8 0-14.3 .5-2.5 .2 12.6 .3 8.3 .1-13.9 .2 3.9 .3-13.5 .2 7.8 .1-5.9 .4 6.4 .1-12.9 .3 12 .3-9.7 .2-3.7 .4-12.1 .2 15.7 .3-13.8 .5-5 .1 7.5 0-4.4 .5 9.6 .4-2.4 0 6.7 .1 10.5 .2-15.5 .5 11.1 .2-9.6 .2 4.7 .2-17.4 .3 8.6 .2 3.3 .2-4.5 .1-6.6 .6 4.5 .2 6.2 .1 .8 .1-11.3 .5-1.9 .4 10.9 .3 2.2 .1-4 .2 18 .2-8 .2 3 .5 13.9 .2-4.4 .1-6.7 .3 4 .2-5.2 .4 .5 .1-5.6 .4 2 .1-5.1 .3-.9 .4 27.5 .1-6.3 .3-11 .5 5.8 .1-11.8 .3-.3 .2 12.4 .3-4.9 .1 4.8 .5-6.8 .1 15.3 .4-.3 .1 5.1 .2-8.7 .1-3 .4 .4 .1 7.2 .5-.4 0 4.7 .5-5.4 .2-10 0 4.9 .4-17.1 .2 4.5 .3-9.8 .5 8.3 .1-6.2 .3-.9 .2 10 .3-5.1 .1 11.4 .4 3.6 .1-5.7 .3-4.8 .2 5.9 .2 1.7 .2 3 .4-9.9 .1 15.7 .2 9.7 .5-11.9 .3 3.8 .1-7.2 .1 7.6 .2-13.5 .5 7.3 .2-12.4 .2 2.9 .3-8.9 .4 14.9 .2-9.1 0-6.5 .5 10.3 .3-10.7 0 9.4 .3-6 .2 7.8 .4-1.3 .1-9.6 .3-7 .2 15 .2-3.6 .3-5.1 .2 8.3 .2-23 .4 .7 .3 10.2 .1-6 .4 9.9 .2-1.2 .4-8.8 .1-12 .3 22.7 .1-2.2 .5 10.4 .2-2.1 .2-15.5 .2 7.3 .3 1.9 .2-.5 0 8.4 .4 2.3 .2 8 .4-2.3 .1-7.7 .3 .1 .2 4.5 .3 .3 .1-11.5 .5-4 .3 19.3 .4 .1 .1-6.2 .1 5.1 .4 6 .3-3.3 .2 7.7 .2-7.2 .1 8.4 .5-4.2 0-9.3 .4 3.9 .2-1.7 .3 14.1 .2-14.7 .3 4.5 .1 11.5 .4-.4 .3-4.8 .1 4.8 .3 12.3 .3-12.6 .3-15 .1 10.5 .3-12.6 .2 7.9 .3 11.6 .4-8.8 .2 4.4 .3 .5 .2 9.4 .2 6.1 .2-7.2 .2-2.7 .3 12 .4-11.1 .2 14.9 .2-7.8 .4-5.2 0-2 .4 9.7 .1-3.6 .4 3.8 .4-9 .1 13 .1-4.2 .2-17.5 .5 13.7 .2 7.6 .4-12.3 .1-9.6 .2 6.9 .3-6.1 .3 .7 .1-4.1 .2 3.6 .1 4.5 .5 7.4 .4-12 0-3.8 .4-7 .4-2.8 .2 12.7 0-1.1 .4-12.8 .1 2.3 .4-10.2 .4 10.8 .2-13.5 .2 7.6 0 4.5 .4-2.7 .2 12.1 .3 .4 .2-8.5 .2-1.2 .3 12.5 .2-10.6 .1 8.4 .6-5.5 .3 11.1 .2-.9 .2 6.7 .2-6.5 .4-18.3 .1-2.1 .4 15.2 0 10.9 .5-16.6 .2 5.6 .2 1.6 .2-4.7 .3 5.9 .2 .2 .2 5.6 .4-3.4 .3 5.5 .1-4.8 .4 9.6 0-3.3 .4-9.7 .1 13.4 .5 12.8 .1-2.8 .4-9.5 0-1.5 .3 16.2 .4-8.8 .2 7.2 .3-5.6 .3 12 .1-2.5 .1 14.4 .6 4.8 .1 5 .2 11.3 .2 9.7 .5 6.1 .2 16.9 0-8.1 .5 14.6 .1-8.1 0-9.5 .7 13.3 .2-9.3 0 2.4 .4-12.4 .4-.1 .1-9.1 .4 6.6 .1-9.2 .3-6.3 .2-9.2 .3-1.2 .1-4.7 .5 10.6 0-9.6 .2-4.4 .2 14.9 .4-8 .3-12.9 .3 12.2 .3-8.4 0 .7 .4 8.2 .5-7.3 0 8.1 .1 2.1 .3-13.5 .2 6.9 .5-16.4 .2 7.6 .2-25 .4 7.8 .1 4.4 .2-3.5 .3-11.3 .2 .3 0-7.5 .4 9.1 .1-8.4 .6 5.2 .3-5.7 .1 4.9 .3-10.8 .2 1 .2-10 .2-7.3 .1 12.7 .5-1.1 .1 9.9 .5-4.3 .3 13.6 .2-11.2 .1 10.2 .3 1.3 .3-7 .2 4.8 .2-14.2 .2 9.3 .2-8.7 .5 .2 .2 8.9 .2 1.1 .3 9.9 .5 11.7 .1-12.9 .1 6.9 .3-8.8 .1-1.7 .4 12.4 .1 3.6 .3 9 .5-8.5 .1-13.4 .2-5.9 .3-7.1 .2 3.6 .1 4.2 .3-8.7 .2 16.7 .3 .4 .5-11.4 .4-6.3 .1 8.5 0 4.6 .4-8.9 .1-3.5 .1 6.5 .7-11.5 .2 16.6 0-8.1 .2-7.1 .3 2.2 .4-16.6 .3 4.8 .2 14.5 .2-8 .1-9.2 .4 6.7 0-7.8 .5-5.5 .2 13.5 .2 10.1 .2-11.8 .4 10.5 .4-5.7 .1-1.3 .4 6.8 0-1.9 .4-5.6 .2 6 .2-9.4 .4 21 .3-23.1 .2 9.8 .2-11.1 .2 5.9 .2-9 .3 11.1 .1-13 .5 11.9 .1-11.4 .2-.7 .3-8.3 .4 8.1 .3 6.9 .1-5 .4 7.6 .1-2.2 .3 10.4 .2 .5 .2 18.1 .2-11.1 .4 12 .4 6 .2-5.9 .3-8 .1 22.2 .3-6 .2 3.4 .2 2.6 0 8.8 .4-4.4 .1-6.3 .4 1 .2-7.2 .4 16.7 .4-14.8 0 .8 .5 9.3 0-9.6 .4 10.8 .2-13.4 .4 19.5 .3-9 .2 11.7 .3-1.3 .1-10.2 .2-8.1 .3 17.7 .3 3.6 .1-7 .2-4.5 .2 17.1 .4-13.1 .2 8.4 .2 0 .5-15.3 .4 13.8 .1-13.5 .1-4 .2 4.1 .3 4.9 .2-10.9 .4-2.8 .2 12.1 .4-4.7 .1-9.3 .4 .4 .1 3.8 .2 .8 .3-11.2 .3 5 .1-7.4 .3 3.5 .1-9.4 .4 3.8 .1-8.4 .4 .7 .3 15.5 .2-6 .4-3.2 0-2.3 .3-6.2 .3 4.1 .3-18 .3-1.1 .2 11.9 .5-5.7 0 10.4 .4-6 .1-7.2 .2-13.7 .2 14.3 .4-5 .3 11.6 .1 .5 .3-9.5 .2-3.3 .3 15.6 .1 3.5 .4-14.8 .4 9.6 .1-11.3 .1 5.8 .3 8.7 .2-6.8 .3 6.1 .4-9.6 .1 6.8 .5-7.2 0 4.9 .3 8 .1-6.8 .4 7.9 .1-6.6 .3 .9 .1 7.4 .4-.9 .4 10.6 .3-4.7 .2 5.1 .2-.8 .4-8.5 .3 14.7 .2-17.7 .3 5.6 .1 12.8 .4-6 .2 4.3 .2-1.4 .2 5.1 .2-1.8 .1-9.1 .4 4.2 .1 13.6 .3-1.9 .1-7.5 .5 2.9 .3 5.7 .1 0 .5 11.2 .1 2.4 .3 9.7 .1-5.3 .4 10 .2 3.3 .2 9.8 .5-2.2 .1 18.1 .3-8.8 .2-5.6 .2 4.2 .2-4.8 .4-3.7 .1 6.4 .2-18.7 .1 17.9 .5 11.1 .1-11.3 .4 14.6 .4 8 0 2 .4-14.2 .1 7.9 .4-21.8 .5 5.6 0 7.6 .1 1.2 .4-7.4 .4 8.5 .1-14.9 .3 11.3 .2-12.2 .4-4.7 .1 4.7 .2 4.7 .2-9.6 .2-4.3 .2 17.6 .3 2.2 .4-12.3 .2-.4 .4-2.6 0 1.5 .5 11.8 .1-4.8 .3-4.4 .2 2.3 .3 9.7 .3 3.5 .2-15.3 .3-5.7 .2 8.6 .2-9.1 .2 9.4 .3-4.9 .2 7.9 .4 5 .3-16.4 .2-8.6 .1 7.8 .4 17.3 .3-14.2 .4-1.2 .1 13.7 .3-10.6 .1 9.1 .2 .4 .3 9.5 .4-3 .1 8.7 .3-5 .1-4.6 .4 6.1 .2-8.4 .4 11.4 .1-12.5 .2 6.8 .2 10.3 .3 4.6 .2 14.6 .4-3 .2-10.7 .2 .6 .4 14.4 .1-11.9 .3 8.5 .1-.2 .1-10.6 .8-4 .1 6.7 0 .8 .4-13.7 .3-4.5 .2 11.5 .2-1.3 .3-10.1 .2 10.1 .1-10.7 .5-.1 .3 6.3 .1 1.8 .3-10.2 .1-2.8 .1 4.9 .8 .4 .1-3.5 .1 6.2 .2-10 .5-2.1 .2 12.8 0-2.1 .5-8.8 .3-10.1 .1 9 .2 4.2 .2 6.9 .3-5.2 .2 23.3 .5-1.7 0-11.2 .2 .7 .5-9.5 0 12.3 .2 17.5 .4-17.7 .3-9.2 .2-1.3 .2 9.6 .6-7.8 .1-5.5 .1 9.9 .3-14.9 .3 6.5 .3-12.3 .2-.6 .2-8.9 .3 4.1 .1-11.3 .3 7 .2-5.8 .4 9.5 .1-11.7 .3 10.5 .3 2.6 .1-1.1 .4 11 .3-15 .3 14.2 .1-.2 .3-11.6 .2-3 .4 12.3 0-2.9 .4 15 .3-6.4 .2-6.1 .2-1.2 .2 8.9 .4 .5 .1-9.1 .3 6.3 .1 7.5 .4-12.2 0 10.4 .4-8 .5-13.4 .1 1.6 .3 5.5 .1 1.5 .1-9.1 .5 2.6 .4-10.6 0 2.9 .3-6.2 .2-.1 .5 5.8 .2-5.9 .1 8.3 .3-3.9 .3-4.6 .2 3.6 .2-12.4 .2-5.9 .5 9 .1 6 .3-12.8 .1-2.6 .4-12.9 .1 5 .4 7 .1-2.5 .4 6.7 .4 9.2 .1-15 .3-6.1 .1 15.2 .4-10.8 .2 6.3 .2 3.5 .2 5.8 .3 4.1 .1-7.3 .4 6 .2-12 .3-1.1 .4 4.3 .1-3.6 .1 9.2 .3-4.6 .4 4.6 .2 9.5 .3-19.6 .4 9 0-5.9 .4 .9 .2-11.5 .4 4.5 .2 12.8 .3 1.6 .1-8.3 .4-11.4 .1 9.5 .2 6.5 .2-9.9 .2 3.6 .5-8.5 0 6 .2-8.9 .4 9.5 .3 4.3 .1 2.2 .3-11.6 .6-1.4 .1 6.2 .1-2.5 .2 10.3 .2 5.1 .3-11 .4 3.7 .1 4.3 .3 6.3 .2-6.4 .3 3.2 .2 5.2 .2-4 .5-9.7 .1-2 .1 8.4 .7-2.8 .1-2.1 .2 4.8 .3 8.6 .1-6.2 .4 10.3 .1-2 .2-10 .2-5.3 .5 14.9 .3-3.1 0 9.5 .3-13.2 .3 14.7 .2-1.6 .1-15.3 .4 17.2 .1-13 .5 10.4 .3-8.3 0 3.1 .2 7"/><path stroke="#ff9000" stroke-width="1" d="M85.3 632.5 H585.6"/><path stroke="#ffa500" d="M585.6 632.5 V382.1"/><path stroke="#ffa500" d="M585.6 382.1l.3-18 .3-1.1 .2 11.9 .5-5.7 0 10.4 .4-6 .1-7.2 .2-13.7 .2 14.3 .4-5 .3 11.6 .1 .5 .3-9.5 .2-3.3 .3 15.6 .1 3.5 .4-14.8 .4 9.6 .1-11.3 .1 5.8 .3 8.7 .2-6.8 .3 6.1 .4-9.6 .1 6.8 .5-7.2 0 4.9 .3 8 .1-6.8 .4 7.9 .1-6.6 .3 .9 .1 7.4 .4-.9 .4 10.6 .3-4.7 .2 5.1 .2-.8 .4-8.5 .3 14.7 .2-17.7 .3 5.6 .1 12.8 .4-6 .2 4.3 .2-1.4 .2 5.1 .2-1.8 .1-9.1 .4 4.2 .1 13.6 .3-1.9 .1-7.5 .5 2.9 .3 5.7 .1 0 .5 11.2 .1 2.4 .3 9.7 .1-5.3 .4 10 .2 3.3 .2 9.8 .5-2.2 .1 18.1 .3-8.8 .2-5.6 .2 4.2 .2-4.8 .4-3.7 .1 6.4 .2-18.7 .1 17.9 .5 11.1 .1-11.3 .4 14.6 .4 8 0 2 .4-14.2 .1 7.9 .4-21.8 .5 5.6 0 7.6 .1 1.2 .4-7.4 .4 8.5 .1-14.9 .3 11.3 .2-12.2 .4-4.7 .1 4.7 .2 4.7 .2-9.6 .2-4.3 .2 17.6 .3 2.2 .4-12.3 .2-.4 .4-2.6 0 1.5 .5 11.8 .1-4.8 .3-4.4 .2 2.3 .3 9.7 .3 3.5 .2-15.3 .3-5.7 .2 8.6 .2-9.1 .2 9.4 .3-4.9 .2 7.9 .4 5 .3-16.4 .2-8.6 .1 7.8 .4 17.3 .3-14.2 .4-1.2 .1 13.7 .3-10.6 .1 9.1 .2 .4 .3 9.5 .4-3 .1 8.7 .3-5 .1-4.6 .4 6.1 .2-8.4 .4 11.4 .1-12.5 .2 6.8 .2 10.3 .3 4.6 .2 14.6 .4-3 .2-10.7 .2 .6 .4 14.4 .1-11.9 .3 8.5 .1-.2 .1-10.6 .8-4 .1 6.7 0 .8 .4-13.7 .3-4.5 .2 11.5 .2-1.3 .3-10.1 .2 10.1 .1-10.7 .5-.1 .3 6.3 .1 1.8 .3-10.2 .1-2.8 .1 4.9 .8 .4 .1-3.5 .1 6.2 .2-10 .5-2.1 .2 12.8 0-2.1 .5-8.8 .3-10.1 .1 9 .2 4.2 .2 6.9 .3-5.2 .2 23.3 .5-1.7 0-11.2 .2 .7 .5-9.5 0 12.3 .2 17.5 .4-17.7 .3-9.2 .2-1.3 .2 9.6 .6-7.8 .1-5.5 .1 9.9 .3-14.9 .3 6.5 .3-12.3 .2-.6 .2-8.9 .3 4.1 .1-11.3 .3 7 .2-5.8 .4 9.5 .1-11.7 .3 10.5 .3 2.6 .1-1.1 .4 11 .3-15 .3 14.2 .1-.2 .3-11.6 .2-3 .4 12.3 0-2.9 .4 15 .3-6.4 .2-6.1 .2-1.2 .2 8.9 .4 .5 .1-9.1 .3 6.3 .1 7.5 .4-12.2 0 10.4 .4-8 .5-13.4 .1 1.6 .3 5.5 .1 1.5 .1-9.1 .5 2.6 .4-10.6 0 2.9 .3-6.2 .2-.1 .5 5.8 .2-5.9 .1 8.3 .3-3.9 .3-4.6 .2 3.6 .2-12.4 .2-5.9 .5 9 .1 6 .3-12.8 .1-2.6 .4-12.9 .1 5 .4 7 .1-2.5 .4 6.7 .4 9.2 .1-15 .3-6.1 .1 15.2 .4-10.8 .2 6.3 .2 3.5 .2 5.8 .3 4.1 .1-7.3 .4 6 .2-12 .3-1.1 .4 4.3 .1-3.6 .1 9.2 .3-4.6 .4 4.6 .2 9.5 .3-19.6 .4 9 0-5.9 .4 .9 .2-11.5 .4 4.5 .2 12.8 .3 1.6 .1-8.3 .4-11.4 .1 9.5 .2 6.5 .2-9.9 .2 3.6 .5-8.5 0 6 .2-8.9 .4 9.5 .3 4.3 .1 2.2 .3-11.6 .6-1.4 .1 6.2 .1-2.5 .2 10.3 .2 5.1 .3-11 .4 3.7 .1 4.3 .3 6.3 .2-6.4 .3 3.2 .2 5.2 .2-4 .5-9.7 .1-2 .1 8.4 .7-2.8 .1-2.1 .2 4.8 .3 8.6 .1-6.2 .4 10.3 .1-2 .2-10 .2-5.3 .5 14.9 .3-3.1 0 9.5 .3-13.2 .3 14.7 .2-1.6 .1-15.3 .4 17.2 .1-13 .5 10.4 .3-8.3 0 3.1 .2 7"/>
</g>
<g stroke="#000" stroke-width="0.8" fill="none">
<rect x="44.5" y="69.5" width="663.5" height="600"/>
<line x1="85.2" y1="669.5" x2="85.2" y2="675.5"/><line x1="85.2" y1="69.5" x2="85.2" y2="63.5"/><line x1="204.2" y1="669.5" x2="204.2" y2="675.5"/><line x1="204.2" y1="69.5" x2="204.2" y2="63.5"/><line x1="323.3" y1="669.5" x2="323.3" y2="675.5"/><line x1="323.3" y1="69.5" x2="323.3" y2="63.5"/><line x1="442.3" y1="669.5" x2="442.3" y2="675.5"/><line x1="442.3" y1="69.5" x2="442.3" y2="63.5"/><line x1="561.4" y1="669.5" x2="561.4" y2="675.5"/><line x1="561.4" y1="69.5" x2="561.4" y2="63.5"/><line x1="680.4" y1="669.5" x2="680.4" y2="675.5"/><line x1="680.4" y1="69.5" x2="680.4" y2="63.5"/><line x1="38.5" y1="632.5" x2="44.5" y2="632.5"/><line x1="38.5" y1="517.9" x2="44.5" y2="517.9"/><line x1="38.5" y1="403.2" x2="44.5" y2="403.2"/><line x1="38.5" y1="288.6" x2="44.5" y2="288.6"/><line x1="38.5" y1="174.0" x2="44.5" y2="174.0"/>
</g>
<g fill="none" stroke-width="0.8"><line x1="156.7" y1="17.4" x2="190.7" y2="17.4" stroke="#0080ff"/><line x1="156.7" y1="29.3" x2="190.7" y2="29.3" stroke="#ff00ff"/><line x1="156.7" y1="40.5" x2="190.7" y2="40.5" stroke="#006400"/><line x1="299.4" y1="17.4" x2="333.4" y2="17.4" stroke="#ff0000"/><line x1="299.4" y1="29.3" x2="333.4" y2="29.3" stroke="#ffa500"/><line x1="299.4" y1="40.5" x2="333.4" y2="40.5" stroke="#00ff00"/><line x1="448.9" y1="17.4" x2="482.9" y2="17.4" stroke="#a52a2a"/><line x1="448.9" y1="29.3" x2="482.9" y2="29.3" stroke="#0080ff"/><line x1="448.9" y1="40.5" x2="482.9" y2="40.5" stroke="#ff00ff"/><line x1="649.0" y1="17.4" x2="683.0" y2="17.4" stroke="#006400"/><line x1="649.0" y1="29.3" x2="683.0" y2="29.3" stroke="#ff0000"/><line x1="649.0" y1="40.5" x2="683.0" y2="40.5" stroke="#ffa500"/></g>
<text x="69.6" y="22.8" font-size="12">BC_1MONTH</text><text x="69.6" y="33.8" font-size="12">BC_3MONTH</text><text x="69.6" y="44.9" font-size="12">BC_6MONTH</text><text x="223.7" y="22.8" font-size="12">BC_1YEAR</text><text x="223.7" y="33.8" font-size="12">BC_2YEAR</text><text x="223.7" y="44.9" font-size="12">BC_3YEAR</text><text x="366.2" y="22.8" font-size="12">BC_5YEAR</text><text x="366.2" y="33.8" font-size="12">BC_7YEAR</text><text x="366.2" y="44.9" font-size="12">BC_10YEAR</text><text x="516.2" y="22.8" font-size="12">BC_20YEAR</text><text x="516.2" y="33.8" font-size="12">BC_30YEAR</text><text x="516.2" y="44.9" font-size="12">BC_30YEARDISPLAY</text>
<text x="85.2" y="688.5" text-anchor="middle" font-size="10" letter-spacing="-0.2" class="t">1990</text><text x="204.2" y="688.5" text-anchor="middle" font-size="10" letter-spacing="-0.2" class="t">1995</text><text x="323.3" y="688.5" text-anchor="middle" font-size="10" letter-spacing="-0.2" class="t">2000</text><text x="442.3" y="688.5" text-anchor="middle" font-size="10" letter-spacing="-0.2" class="t">2005</text><text x="561.4" y="688.5" text-anchor="middle" font-size="10" letter-spacing="-0.2" class="t">2010</text><text x="680.4" y="688.5" text-anchor="middle" font-size="10" letter-spacing="-0.2" class="t">2015</text><text transform="translate(33 632.5) rotate(-90)" text-anchor="middle" font-size="9.8" class="t">0</text><text transform="translate(33 517.9) rotate(-90)" text-anchor="middle" font-size="9.8" class="t">2</text><text transform="translate(33 403.2) rotate(-90)" text-anchor="middle" font-size="9.8" class="t">4</text><text transform="translate(33 288.6) rotate(-90)" text-anchor="middle" font-size="9.8" class="t">6</text><text transform="translate(33 174.0) rotate(-90)" text-anchor="middle" font-size="9.8" class="t">8</text>
<text x="375.8" y="707.7" text-anchor="middle" font-size="12">Time</text>
<text transform="translate(14.4 370) rotate(-90)" text-anchor="middle" font-size="12">Yield (%)</text>
</svg>
</body></html>
